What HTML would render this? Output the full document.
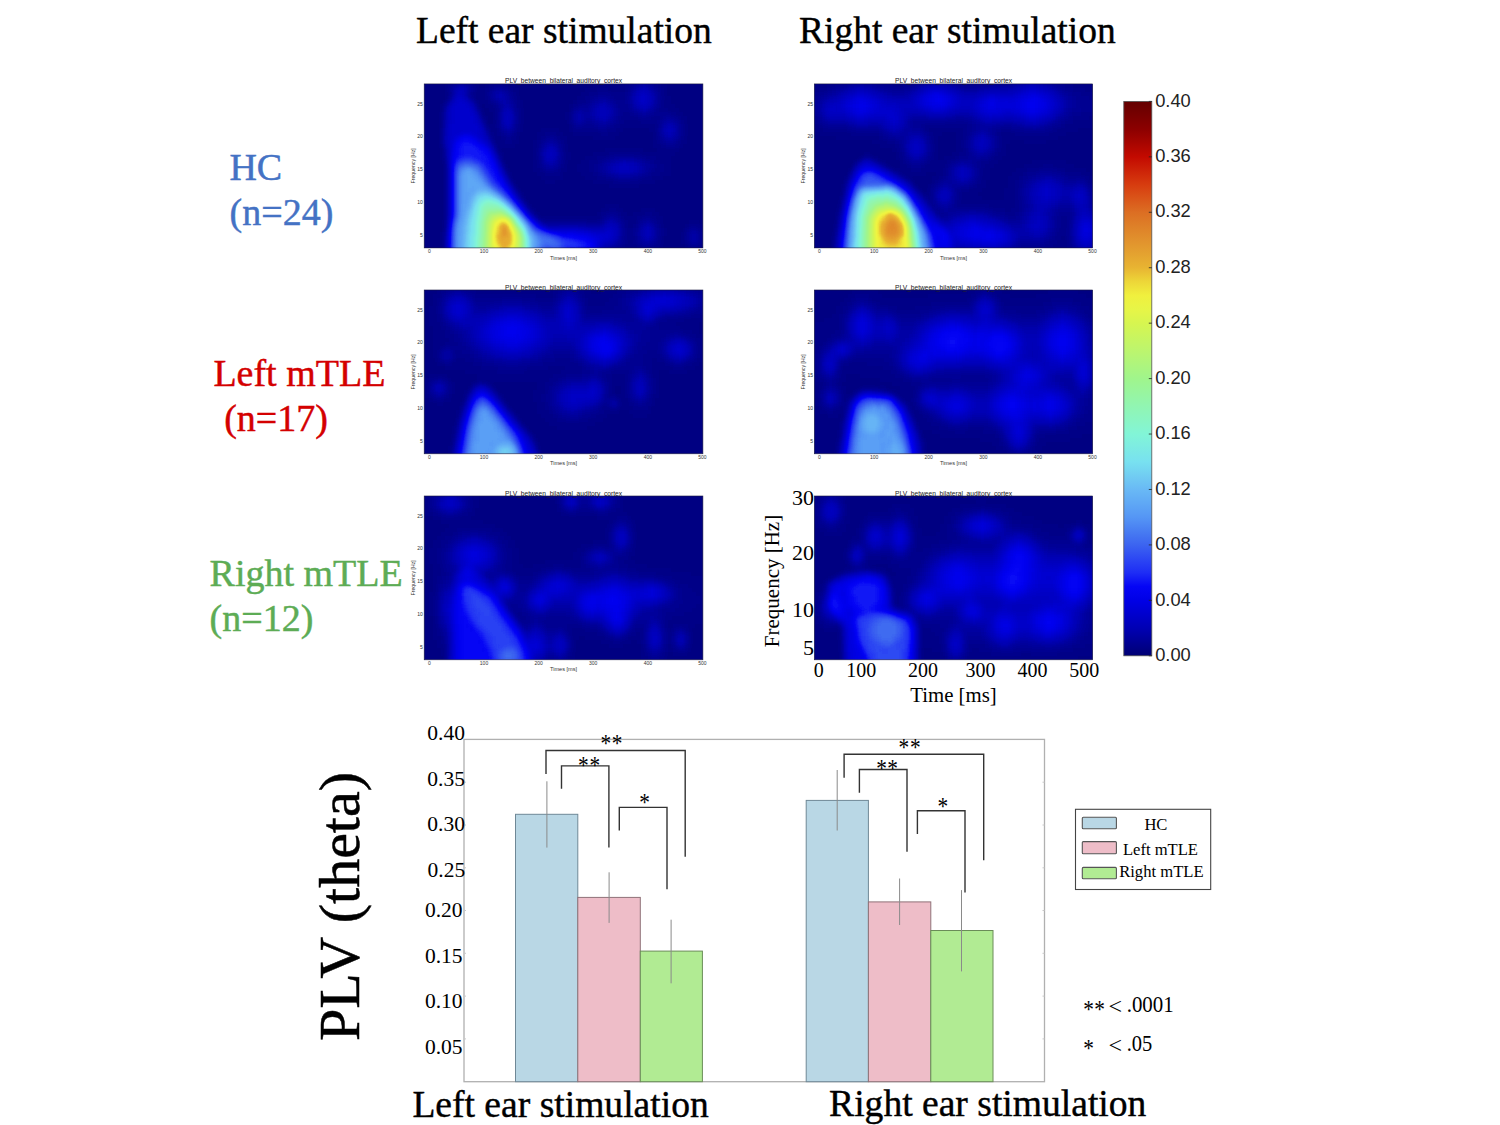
<!DOCTYPE html>
<html><head><meta charset="utf-8"><title>PLV figure</title>
<style>html,body{margin:0;padding:0;background:#fff;width:1500px;height:1125px;overflow:hidden}svg{display:block}</style>
</head><body>
<svg width="1500" height="1125" viewBox="0 0 1500 1125"><text x="416" y="42.7" font-size="37.5" fill="#000" stroke="#000" stroke-width="0.4" font-family='"Liberation Serif", serif' text-anchor="start" >Left ear stimulation</text>
<text x="799" y="43.1" font-size="37.5" fill="#000" stroke="#000" stroke-width="0.4" font-family='"Liberation Serif", serif' text-anchor="start" >Right ear stimulation</text>
<text x="229.4" y="180" font-size="38" fill="#4472c4" stroke="#4472c4" stroke-width="0.45" font-family='"Liberation Serif", serif' text-anchor="start" >HC</text>
<text x="229.6" y="224.8" font-size="38" fill="#4472c4" stroke="#4472c4" stroke-width="0.45" font-family='"Liberation Serif", serif' text-anchor="start" >(n=24)</text>
<text x="213.4" y="386" font-size="38" fill="#d40000" stroke="#d40000" stroke-width="0.45" font-family='"Liberation Serif", serif' text-anchor="start" >Left mTLE</text>
<text x="224.2" y="430.9" font-size="38" fill="#d40000" stroke="#d40000" stroke-width="0.45" font-family='"Liberation Serif", serif' text-anchor="start" >(n=17)</text>
<text x="209.6" y="586" font-size="38" fill="#5dac55" stroke="#5dac55" stroke-width="0.45" font-family='"Liberation Serif", serif' text-anchor="start" >Right mTLE</text>
<text x="209.6" y="630.9" font-size="38" fill="#5dac55" stroke="#5dac55" stroke-width="0.45" font-family='"Liberation Serif", serif' text-anchor="start" >(n=12)</text>
<defs><filter id="hb" x="0" y="0" width="1" height="1" color-interpolation-filters="sRGB"><feGaussianBlur stdDeviation="2.0"/><feComponentTransfer><feFuncR type="table" tableValues="0.000 0.000 0.000 0.000 0.000 0.000 0.000 0.000 0.000 0.003 0.020 0.069 0.118 0.147 0.176 0.206 0.235 0.260 0.284 0.309 0.333 0.353 0.373 0.392 0.412 0.426 0.441 0.456 0.471 0.480 0.490 0.500 0.510 0.525 0.539 0.554 0.569 0.583 0.598 0.613 0.627 0.654 0.681 0.708 0.735 0.762 0.789 0.816 0.843 0.874 0.904 0.935 0.941 0.939 0.929 0.920 0.910 0.903 0.896 0.889 0.882 0.877 0.873 0.868 0.863 0.858 0.853 0.848 0.843 0.824 0.804 0.784 0.765 0.711 0.657 0.603 0.549 0.510 0.471 0.431 0.392"/><feFuncG type="table" tableValues="0.000 0.000 0.000 0.000 0.000 0.000 0.000 0.000 0.000 0.003 0.020 0.098 0.176 0.230 0.284 0.338 0.392 0.441 0.490 0.539 0.588 0.623 0.657 0.691 0.725 0.765 0.804 0.843 0.882 0.902 0.922 0.941 0.961 0.961 0.961 0.961 0.961 0.961 0.961 0.961 0.961 0.961 0.961 0.961 0.961 0.961 0.961 0.961 0.961 0.961 0.961 0.961 0.941 0.908 0.841 0.773 0.706 0.672 0.637 0.603 0.569 0.534 0.500 0.466 0.431 0.382 0.333 0.284 0.235 0.186 0.137 0.088 0.039 0.029 0.020 0.010 0.000 0.000 0.000 0.000 0.000"/><feFuncB type="table" tableValues="0.451 0.515 0.578 0.642 0.706 0.755 0.804 0.853 0.902 0.944 0.961 0.961 0.961 0.956 0.951 0.946 0.941 0.946 0.951 0.956 0.961 0.961 0.961 0.961 0.961 0.956 0.951 0.946 0.941 0.917 0.892 0.868 0.843 0.806 0.770 0.733 0.696 0.659 0.623 0.586 0.549 0.520 0.490 0.461 0.431 0.402 0.373 0.343 0.314 0.295 0.277 0.259 0.245 0.233 0.221 0.208 0.196 0.191 0.186 0.181 0.176 0.167 0.157 0.147 0.137 0.118 0.098 0.078 0.059 0.044 0.029 0.015 0.000 0.000 0.000 0.000 0.000 0.000 0.000 0.000 0.000"/></feComponentTransfer></filter></defs>
<g transform="translate(424.2 83.9)"><clipPath id="hc00"><rect x="0" y="0" width="278.7" height="164.0"/></clipPath><g clip-path="url(#hc00)"><g filter="url(#hb)"><rect x="-12" y="-12" width="303" height="188" fill="#040404"/><path fill="#030303" d="M-12 -12h216v4h-216zM232 -12h56v4h-56zM-12 -8h40v4h-40zM44 -8h156v4h-156zM240 -8h48v4h-48zM-12 -4h32v4h-32zM52 -4h12v4h-12zM88 -4h108v4h-108zM240 -4h48v4h-48zM-12 0h32v4h-32zM56 0h4v4h-4zM92 0h76v4h-76zM244 0h44v4h-44zM-12 4h32v4h-32zM96 4h64v4h-64zM244 4h44v4h-44zM-12 8h32v4h-32zM96 8h60v4h-60zM244 8h44v4h-44zM-12 12h32v4h-32zM96 12h56v4h-56zM248 12h40v4h-40zM-12 16h32v4h-32zM100 16h48v4h-48zM248 16h40v4h-40zM-12 20h28v4h-28zM56 20h4v4h-4zM100 20h44v4h-44zM252 20h36v4h-36zM-12 24h28v4h-28zM60 24h4v4h-4zM100 24h44v4h-44zM256 24h32v4h-32zM-12 28h28v4h-28zM60 28h8v4h-8zM100 28h40v4h-40zM260 28h28v4h-28zM-12 32h28v4h-28zM64 32h4v4h-4zM100 32h40v4h-40zM264 32h24v4h-24zM-12 36h28v4h-28zM64 36h4v4h-4zM100 36h44v4h-44zM264 36h24v4h-24zM-12 40h28v4h-28zM100 40h24v4h-24zM128 40h16v4h-16zM264 40h24v4h-24zM-12 44h28v4h-28zM100 44h16v4h-16zM136 44h8v4h-8zM200 44h24v4h-24zM264 44h24v4h-24zM-12 48h28v4h-28zM96 48h16v4h-16zM140 48h8v4h-8zM196 48h32v4h-32zM264 48h24v4h-24zM-12 52h28v4h-28zM96 52h16v4h-16zM144 52h24v4h-24zM192 52h36v4h-36zM264 52h24v4h-24zM-12 56h28v4h-28zM96 56h12v4h-12zM144 56h84v4h-84zM264 56h24v4h-24zM-12 60h28v4h-28zM92 60h16v4h-16zM144 60h84v4h-84zM260 60h28v4h-28zM-12 64h28v4h-28zM76 64h32v4h-32zM144 64h36v4h-36zM220 64h12v4h-12zM256 64h32v4h-32zM-12 68h28v4h-28zM80 68h28v4h-28zM148 68h20v4h-20zM252 68h36v4h-36zM-12 72h28v4h-28zM80 72h28v4h-28zM148 72h12v4h-12zM248 72h40v4h-40zM-12 76h32v4h-32zM80 76h28v4h-28zM144 76h12v4h-12zM248 76h40v4h-40zM-12 80h32v4h-32zM84 80h24v4h-24zM144 80h8v4h-8zM248 80h40v4h-40zM-12 84h32v4h-32zM84 84h24v4h-24zM144 84h8v4h-8zM248 84h40v4h-40zM-12 88h32v4h-32zM88 88h24v4h-24zM140 88h16v4h-16zM248 88h40v4h-40zM-12 92h32v4h-32zM88 92h28v4h-28zM140 92h20v4h-20zM240 92h48v4h-48zM-12 96h32v4h-32zM92 96h28v4h-28zM132 96h36v4h-36zM232 96h56v4h-56zM-12 100h32v4h-32zM92 100h92v4h-92zM216 100h72v4h-72zM-12 104h32v4h-32zM96 104h192v4h-192zM-12 108h32v4h-32zM100 108h188v4h-188zM-12 112h32v4h-32zM100 112h188v4h-188zM-12 116h32v4h-32zM104 116h184v4h-184zM-12 120h32v4h-32zM108 120h72v4h-72zM196 120h92v4h-92zM-12 124h32v4h-32zM112 124h64v4h-64zM200 124h16v4h-16zM232 124h56v4h-56zM-12 128h32v4h-32zM116 128h56v4h-56zM204 128h4v4h-4zM236 128h52v4h-52zM-12 132h32v4h-32zM240 132h48v4h-48zM-12 136h32v4h-32zM240 136h24v4h-24zM276 136h12v4h-12zM-12 140h32v4h-32zM240 140h20v4h-20zM280 140h8v4h-8zM-12 144h32v4h-32zM244 144h16v4h-16zM280 144h8v4h-8zM-12 148h28v4h-28zM244 148h12v4h-12zM284 148h4v4h-4zM-12 152h28v4h-28zM240 152h16v4h-16zM284 152h4v4h-4zM-12 156h28v4h-28zM240 156h16v4h-16zM280 156h8v4h-8zM-12 160h28v4h-28zM240 160h20v4h-20zM280 160h8v4h-8zM-12 164h28v4h-28zM236 164h24v4h-24zM280 164h8v4h-8zM-12 168h28v4h-28zM200 168h12v4h-12zM232 168h32v4h-32zM272 168h16v4h-16zM-12 172h28v4h-28zM192 172h28v4h-28zM224 172h64v4h-64z"/><path fill="#050505" d="M208 -8h20v4h-20zM28 -4h4v4h-4zM44 -4h4v4h-4zM204 -4h4v4h-4zM232 -4h4v4h-4zM48 0h4v4h-4zM64 0h4v4h-4zM80 0h4v4h-4zM200 0h4v4h-4zM60 4h4v4h-4zM172 4h12v4h-12zM200 4h4v4h-4zM236 4h4v4h-4zM48 8h4v4h-4zM60 8h4v4h-4zM88 8h4v4h-4zM164 8h8v4h-8zM188 8h12v4h-12zM236 8h4v4h-4zM48 12h4v4h-4zM60 12h4v4h-4zM160 12h4v4h-4zM192 12h8v4h-8zM20 16h4v4h-4zM92 16h4v4h-4zM152 16h8v4h-8zM236 16h4v4h-4zM68 20h4v4h-4zM92 20h4v4h-4zM148 20h4v4h-4zM236 20h4v4h-4zM236 24h8v4h-8zM16 28h4v4h-4zM56 28h4v4h-4zM144 28h4v4h-4zM200 28h4v4h-4zM248 28h4v4h-4zM16 32h4v4h-4zM144 32h4v4h-4zM196 32h16v4h-16zM228 32h8v4h-8zM16 36h4v4h-4zM144 36h4v4h-4zM196 36h4v4h-4zM216 36h16v4h-16zM256 36h4v4h-4zM16 40h4v4h-4zM92 40h4v4h-4zM192 40h4v4h-4zM72 44h4v4h-4zM92 44h4v4h-4zM148 44h24v4h-24zM184 44h8v4h-8zM72 48h4v4h-4zM120 48h12v4h-12zM176 48h8v4h-8zM76 52h4v4h-4zM88 52h4v4h-4zM116 52h4v4h-4zM132 52h4v4h-4zM256 52h4v4h-4zM68 56h4v4h-4zM80 56h8v4h-8zM112 56h4v4h-4zM136 56h4v4h-4zM232 56h4v4h-4zM16 60h4v4h-4zM112 60h4v4h-4zM236 60h4v4h-4zM252 60h4v4h-4zM72 64h4v4h-4zM244 64h4v4h-4zM184 68h32v4h-32zM172 72h8v4h-8zM224 72h8v4h-8zM112 76h4v4h-4zM164 76h8v4h-8zM232 76h4v4h-4zM112 80h4v4h-4zM136 80h4v4h-4zM164 80h4v4h-4zM232 80h8v4h-8zM164 84h4v4h-4zM232 84h8v4h-8zM120 88h4v4h-4zM128 88h8v4h-8zM168 88h4v4h-4zM228 88h8v4h-8zM84 92h4v4h-4zM172 92h8v4h-8zM220 92h8v4h-8zM188 96h28v4h-28zM92 104h4v4h-4zM100 116h4v4h-4zM184 124h8v4h-8zM176 128h4v4h-4zM220 128h8v4h-8zM196 132h4v4h-4zM212 132h4v4h-4zM228 132h4v4h-4zM164 136h8v4h-8zM200 136h4v4h-4zM232 136h4v4h-4zM200 140h4v4h-4zM208 140h4v4h-4zM264 140h4v4h-4zM272 140h4v4h-4zM204 144h4v4h-4zM236 144h4v4h-4zM260 144h4v4h-4zM276 144h4v4h-4zM204 148h4v4h-4zM236 148h4v4h-4zM276 148h4v4h-4zM204 152h8v4h-8zM276 152h4v4h-4zM200 156h4v4h-4zM208 156h4v4h-4zM260 156h4v4h-4zM276 156h4v4h-4zM212 160h4v4h-4zM232 160h4v4h-4zM192 164h4v4h-4zM216 164h16v4h-16zM268 164h4v4h-4zM16 168h4v4h-4zM188 168h4v4h-4zM16 172h4v4h-4z"/><path fill="#060606" d="M32 -4h4v4h-4zM40 -4h4v4h-4zM208 -4h4v4h-4zM228 -4h4v4h-4zM24 0h4v4h-4zM68 0h12v4h-12zM204 0h4v4h-4zM232 0h4v4h-4zM48 4h4v4h-4zM64 4h4v4h-4zM84 4h4v4h-4zM24 8h4v4h-4zM172 8h16v4h-16zM200 8h4v4h-4zM88 12h4v4h-4zM164 12h4v4h-4zM188 12h4v4h-4zM200 12h4v4h-4zM236 12h4v4h-4zM64 16h4v4h-4zM160 16h4v4h-4zM192 16h8v4h-8zM52 20h4v4h-4zM152 20h4v4h-4zM196 20h8v4h-8zM72 24h4v4h-4zM92 24h4v4h-4zM196 24h8v4h-8zM232 24h4v4h-4zM92 28h4v4h-4zM196 28h4v4h-4zM204 28h4v4h-4zM232 28h16v4h-16zM92 32h4v4h-4zM212 32h16v4h-16zM252 32h4v4h-4zM72 36h4v4h-4zM92 36h4v4h-4zM192 36h4v4h-4zM232 36h4v4h-4zM60 40h4v4h-4zM72 40h4v4h-4zM148 40h4v4h-4zM160 40h8v4h-8zM188 40h4v4h-4zM232 40h4v4h-4zM256 40h4v4h-4zM16 44h4v4h-4zM172 44h12v4h-12zM256 44h4v4h-4zM16 48h4v4h-4zM64 48h4v4h-4zM76 48h4v4h-4zM88 48h4v4h-4zM232 48h4v4h-4zM256 48h4v4h-4zM16 52h4v4h-4zM80 52h8v4h-8zM120 52h4v4h-4zM232 52h4v4h-4zM16 56h4v4h-4zM116 56h4v4h-4zM252 56h4v4h-4zM136 60h4v4h-4zM240 60h12v4h-12zM112 64h4v4h-4zM136 64h4v4h-4zM112 68h4v4h-4zM112 72h4v4h-4zM180 72h4v4h-4zM220 72h4v4h-4zM76 76h4v4h-4zM136 76h4v4h-4zM172 76h4v4h-4zM228 76h4v4h-4zM20 80h4v4h-4zM168 80h4v4h-4zM20 84h4v4h-4zM80 84h4v4h-4zM116 84h4v4h-4zM132 84h4v4h-4zM168 84h4v4h-4zM228 84h4v4h-4zM20 88h4v4h-4zM124 88h4v4h-4zM172 88h4v4h-4zM224 88h4v4h-4zM20 92h4v4h-4zM180 92h8v4h-8zM216 92h4v4h-4zM20 96h4v4h-4zM20 100h4v4h-4zM88 100h4v4h-4zM20 104h4v4h-4zM20 108h4v4h-4zM20 112h4v4h-4zM96 112h4v4h-4zM20 116h4v4h-4zM20 120h4v4h-4zM20 124h4v4h-4zM20 128h4v4h-4zM108 128h4v4h-4zM180 128h4v4h-4zM188 128h8v4h-8zM20 132h4v4h-4zM112 132h4v4h-4zM176 132h4v4h-4zM216 132h4v4h-4zM224 132h4v4h-4zM120 136h44v4h-44zM172 136h4v4h-4zM212 136h4v4h-4zM232 140h4v4h-4zM268 140h4v4h-4zM200 144h4v4h-4zM208 144h4v4h-4zM200 148h4v4h-4zM208 148h4v4h-4zM260 148h4v4h-4zM200 152h4v4h-4zM260 152h4v4h-4zM232 156h4v4h-4zM196 160h4v4h-4zM228 160h4v4h-4zM264 160h4v4h-4zM272 160h4v4h-4zM188 164h4v4h-4zM184 168h4v4h-4z"/><path fill="#070707" d="M36 -4h4v4h-4zM212 -4h4v4h-4zM224 -4h4v4h-4zM44 0h4v4h-4zM228 0h4v4h-4zM24 4h4v4h-4zM204 4h4v4h-4zM232 4h4v4h-4zM44 8h4v4h-4zM84 8h4v4h-4zM24 12h4v4h-4zM64 12h4v4h-4zM168 12h4v4h-4zM184 12h4v4h-4zM68 16h4v4h-4zM88 16h4v4h-4zM164 16h4v4h-4zM200 16h4v4h-4zM72 20h4v4h-4zM156 20h8v4h-8zM192 20h4v4h-4zM232 20h4v4h-4zM148 24h4v4h-4zM204 24h4v4h-4zM72 28h4v4h-4zM208 28h4v4h-4zM228 28h4v4h-4zM56 32h4v4h-4zM72 32h4v4h-4zM192 32h4v4h-4zM236 32h4v4h-4zM248 32h4v4h-4zM164 36h4v4h-4zM252 36h4v4h-4zM156 40h4v4h-4zM168 40h4v4h-4zM184 40h4v4h-4zM232 44h4v4h-4zM124 52h8v4h-8zM132 56h4v4h-4zM236 56h4v4h-4zM72 68h4v4h-4zM136 68h4v4h-4zM136 72h4v4h-4zM184 72h4v4h-4zM212 72h8v4h-8zM20 76h4v4h-4zM176 76h4v4h-4zM224 76h4v4h-4zM116 80h4v4h-4zM172 80h4v4h-4zM228 80h4v4h-4zM120 84h4v4h-4zM128 84h4v4h-4zM172 84h4v4h-4zM176 88h4v4h-4zM188 92h4v4h-4zM208 92h8v4h-8zM104 124h4v4h-4zM184 128h4v4h-4zM192 132h4v4h-4zM220 132h4v4h-4zM20 136h4v4h-4zM196 136h4v4h-4zM228 136h4v4h-4zM20 140h4v4h-4zM212 140h4v4h-4zM232 144h4v4h-4zM272 144h4v4h-4zM232 148h4v4h-4zM232 152h4v4h-4zM196 156h4v4h-4zM212 156h4v4h-4zM216 160h4v4h-4zM224 160h4v4h-4zM268 160h4v4h-4zM184 172h4v4h-4z"/><path fill="#080808" d="M216 -4h8v4h-8zM208 0h4v4h-4zM68 4h4v4h-4zM80 4h4v4h-4zM64 8h4v4h-4zM204 8h4v4h-4zM232 8h4v4h-4zM84 12h4v4h-4zM172 12h12v4h-12zM232 12h4v4h-4zM188 16h4v4h-4zM232 16h4v4h-4zM88 20h4v4h-4zM204 20h4v4h-4zM52 24h4v4h-4zM160 24h4v4h-4zM192 24h4v4h-4zM228 24h4v4h-4zM192 28h4v4h-4zM212 28h4v4h-4zM224 28h4v4h-4zM240 32h8v4h-8zM148 36h4v4h-4zM160 36h4v4h-4zM188 36h4v4h-4zM236 36h4v4h-4zM152 40h4v4h-4zM172 40h12v4h-12zM76 44h4v4h-4zM88 44h4v4h-4zM80 48h8v4h-8zM236 52h4v4h-4zM252 52h4v4h-4zM240 56h4v4h-4zM248 56h4v4h-4zM68 60h4v4h-4zM116 60h4v4h-4zM188 72h12v4h-12zM204 72h8v4h-8zM116 76h4v4h-4zM220 76h4v4h-4zM132 80h4v4h-4zM224 80h4v4h-4zM124 84h4v4h-4zM224 84h4v4h-4zM180 88h4v4h-4zM220 88h4v4h-4zM192 92h16v4h-16zM92 108h4v4h-4zM180 132h4v4h-4zM116 136h4v4h-4zM176 136h4v4h-4zM216 136h4v4h-4zM196 140h4v4h-4zM20 144h4v4h-4zM212 144h4v4h-4zM264 144h4v4h-4zM196 152h4v4h-4zM212 152h4v4h-4zM228 156h4v4h-4zM264 156h4v4h-4zM272 156h4v4h-4zM192 160h4v4h-4zM220 160h4v4h-4zM184 164h4v4h-4z"/><path fill="#090909" d="M28 0h4v4h-4zM224 0h4v4h-4zM44 4h4v4h-4zM76 4h4v4h-4zM228 4h4v4h-4zM44 12h4v4h-4zM204 12h4v4h-4zM48 16h4v4h-4zM72 16h4v4h-4zM168 16h4v4h-4zM184 16h4v4h-4zM204 16h4v4h-4zM20 20h4v4h-4zM164 20h4v4h-4zM188 20h4v4h-4zM88 24h4v4h-4zM152 24h8v4h-8zM164 24h4v4h-4zM208 24h4v4h-4zM148 28h4v4h-4zM160 28h4v4h-4zM216 28h8v4h-8zM148 32h4v4h-4zM160 32h8v4h-8zM188 32h4v4h-4zM168 36h4v4h-4zM184 36h4v4h-4zM88 40h4v4h-4zM236 40h4v4h-4zM252 40h4v4h-4zM252 44h4v4h-4zM252 48h4v4h-4zM64 52h4v4h-4zM120 56h4v4h-4zM128 56h4v4h-4zM244 56h4v4h-4zM132 60h4v4h-4zM116 64h4v4h-4zM20 72h4v4h-4zM116 72h4v4h-4zM200 72h4v4h-4zM132 76h4v4h-4zM180 76h4v4h-4zM216 76h4v4h-4zM120 80h4v4h-4zM176 80h4v4h-4zM176 84h4v4h-4zM220 84h4v4h-4zM80 88h4v4h-4zM216 88h4v4h-4zM84 96h4v4h-4zM100 120h4v4h-4zM184 132h8v4h-8zM220 136h8v4h-8zM164 140h12v4h-12zM228 140h4v4h-4zM196 144h4v4h-4zM268 144h4v4h-4zM20 148h4v4h-4zM196 148h4v4h-4zM212 148h4v4h-4zM264 148h4v4h-4zM272 148h4v4h-4zM272 152h4v4h-4zM216 156h4v4h-4zM180 164h4v4h-4zM180 168h4v4h-4z"/><path fill="#0b0b0b" d="M32 0h4v4h-4zM216 0h8v4h-8zM28 4h4v4h-4zM28 8h4v4h-4zM40 8h4v4h-4zM68 8h4v4h-4zM228 8h4v4h-4zM80 12h4v4h-4zM24 16h4v4h-4zM76 16h8v4h-8zM176 16h8v4h-8zM228 16h4v4h-4zM84 20h4v4h-4zM168 20h4v4h-4zM184 20h4v4h-4zM208 20h4v4h-4zM20 24h4v4h-4zM212 24h4v4h-4zM76 28h4v4h-4zM156 28h4v4h-4zM88 32h4v4h-4zM156 32h4v4h-4zM168 32h4v4h-4zM184 32h4v4h-4zM56 36h4v4h-4zM76 36h4v4h-4zM152 36h4v4h-4zM176 36h8v4h-8zM244 36h4v4h-4zM240 52h4v4h-4zM120 60h4v4h-4zM20 64h4v4h-4zM132 68h4v4h-4zM72 72h4v4h-4zM188 76h4v4h-4zM212 76h4v4h-4zM124 80h4v4h-4zM180 80h4v4h-4zM216 80h4v4h-4zM216 84h4v4h-4zM188 88h4v4h-4zM208 88h4v4h-4zM88 104h4v4h-4zM96 116h4v4h-4zM180 136h4v4h-4zM132 140h24v4h-24zM176 140h4v4h-4zM228 144h4v4h-4zM228 148h4v4h-4zM216 152h4v4h-4zM20 156h4v4h-4zM220 156h4v4h-4zM20 160h4v4h-4z"/><path fill="#0c0c0c" d="M36 0h4v4h-4zM224 4h4v4h-4zM72 8h8v4h-8zM208 8h4v4h-4zM72 12h8v4h-8zM228 12h4v4h-4zM208 16h4v4h-4zM80 20h4v4h-4zM168 24h4v4h-4zM216 24h8v4h-8zM20 28h4v4h-4zM52 28h4v4h-4zM152 28h4v4h-4zM168 28h4v4h-4zM20 32h4v4h-4zM76 32h4v4h-4zM248 40h4v4h-4zM248 48h4v4h-4zM244 52h4v4h-4zM64 56h4v4h-4zM128 60h4v4h-4zM68 64h4v4h-4zM120 76h4v4h-4zM128 76h4v4h-4zM192 76h4v4h-4zM204 76h8v4h-8zM184 80h4v4h-4zM184 84h4v4h-4zM192 88h16v4h-16zM188 136h4v4h-4zM120 140h4v4h-4zM192 140h4v4h-4zM220 140h8v4h-8zM216 144h4v4h-4zM216 148h4v4h-4zM268 148h4v4h-4zM192 152h4v4h-4zM268 152h4v4h-4zM184 160h4v4h-4zM20 164h4v4h-4z"/><path fill="#0a0a0a" d="M40 0h4v4h-4zM212 0h4v4h-4zM72 4h4v4h-4zM208 4h4v4h-4zM80 8h4v4h-4zM68 12h4v4h-4zM84 16h4v4h-4zM172 16h4v4h-4zM76 20h4v4h-4zM228 20h4v4h-4zM76 24h4v4h-4zM188 24h4v4h-4zM224 24h4v4h-4zM88 28h4v4h-4zM164 28h4v4h-4zM188 28h4v4h-4zM88 36h4v4h-4zM156 36h4v4h-4zM172 36h4v4h-4zM240 36h4v4h-4zM248 36h4v4h-4zM76 40h4v4h-4zM60 44h4v4h-4zM80 44h8v4h-8zM236 44h4v4h-4zM236 48h4v4h-4zM248 52h4v4h-4zM124 56h4v4h-4zM132 64h4v4h-4zM20 68h4v4h-4zM116 68h4v4h-4zM132 72h4v4h-4zM184 76h4v4h-4zM76 80h4v4h-4zM128 80h4v4h-4zM220 80h4v4h-4zM180 84h4v4h-4zM184 88h4v4h-4zM212 88h4v4h-4zM192 136h4v4h-4zM124 140h8v4h-8zM156 140h8v4h-8zM216 140h4v4h-4zM20 152h4v4h-4zM228 152h4v4h-4zM264 152h4v4h-4zM192 156h4v4h-4zM224 156h4v4h-4zM268 156h4v4h-4zM188 160h4v4h-4z"/><path fill="#0f0f0f" d="M32 4h8v4h-8zM212 8h4v4h-4zM224 12h4v4h-4zM44 16h4v4h-4zM224 16h4v4h-4zM216 20h8v4h-8zM176 24h4v4h-4zM80 28h8v4h-8zM176 28h4v4h-4zM52 32h4v4h-4zM84 32h4v4h-4zM80 36h4v4h-4zM244 44h4v4h-4zM20 52h4v4h-4zM124 64h4v4h-4zM128 68h4v4h-4zM192 80h4v4h-4zM204 80h4v4h-4zM192 84h8v4h-8zM204 84h4v4h-4zM84 100h4v4h-4zM112 136h4v4h-4zM188 140h4v4h-4zM176 144h4v4h-4zM220 148h4v4h-4z"/><path fill="#0d0d0d" d="M40 4h4v4h-4zM212 4h4v4h-4zM208 12h4v4h-4zM48 20h4v4h-4zM172 20h4v4h-4zM180 20h4v4h-4zM224 20h4v4h-4zM84 24h4v4h-4zM184 24h4v4h-4zM184 28h4v4h-4zM152 32h4v4h-4zM172 32h12v4h-12zM20 36h4v4h-4zM20 40h4v4h-4zM80 40h8v4h-8zM240 40h4v4h-4zM248 44h4v4h-4zM60 48h4v4h-4zM240 48h4v4h-4zM20 60h4v4h-4zM124 60h4v4h-4zM120 64h4v4h-4zM196 76h8v4h-8zM212 80h4v4h-4zM212 84h4v4h-4zM184 136h4v4h-4zM192 144h4v4h-4zM192 148h4v4h-4zM220 152h8v4h-8zM188 156h4v4h-4zM176 164h4v4h-4zM20 168h4v4h-4z"/><path fill="#0e0e0e" d="M216 4h8v4h-8zM224 8h4v4h-4zM28 12h4v4h-4zM40 12h4v4h-4zM176 20h4v4h-4zM212 20h4v4h-4zM80 24h4v4h-4zM172 24h4v4h-4zM180 24h4v4h-4zM172 28h4v4h-4zM180 28h4v4h-4zM84 36h4v4h-4zM56 40h4v4h-4zM244 40h4v4h-4zM20 44h4v4h-4zM240 44h4v4h-4zM20 48h4v4h-4zM244 48h4v4h-4zM20 56h4v4h-4zM128 64h4v4h-4zM120 68h4v4h-4zM120 72h4v4h-4zM128 72h4v4h-4zM124 76h4v4h-4zM188 80h4v4h-4zM208 80h4v4h-4zM76 84h4v4h-4zM188 84h4v4h-4zM208 84h4v4h-4zM80 92h4v4h-4zM92 112h4v4h-4zM104 128h4v4h-4zM108 132h4v4h-4zM180 140h4v4h-4zM168 144h8v4h-8zM220 144h8v4h-8zM224 148h4v4h-4zM180 160h4v4h-4zM20 172h4v4h-4zM180 172h4v4h-4z"/><path fill="#101010" d="M32 8h8v4h-8zM220 8h4v4h-4zM212 12h4v4h-4zM212 16h4v4h-4zM24 20h4v4h-4zM48 24h4v4h-4zM80 32h4v4h-4zM60 52h4v4h-4zM124 68h4v4h-4zM124 72h4v4h-4zM72 76h4v4h-4zM196 80h8v4h-8zM200 84h4v4h-4zM184 140h4v4h-4zM164 144h4v4h-4zM188 152h4v4h-4zM184 156h4v4h-4zM176 160h4v4h-4zM176 168h4v4h-4z"/><path fill="#111111" d="M216 8h4v4h-4zM28 16h4v4h-4zM220 16h4v4h-4zM52 36h4v4h-4zM56 44h4v4h-4zM64 60h4v4h-4zM68 68h4v4h-4zM100 124h4v4h-4zM160 144h4v4h-4zM180 144h4v4h-4zM188 144h4v4h-4zM188 148h4v4h-4z"/><path fill="#131313" d="M32 12h4v4h-4zM32 16h8v4h-8zM28 20h16v4h-16zM28 24h20v4h-20zM28 28h20v4h-20zM28 32h24v4h-24zM28 36h24v4h-24zM24 40h32v4h-32zM24 44h16v4h-16zM44 44h12v4h-12zM24 48h8v4h-8zM52 48h4v4h-4zM24 52h4v4h-4zM56 52h4v4h-4zM24 56h4v4h-4zM60 56h4v4h-4zM24 60h4v4h-4zM24 64h4v4h-4zM24 68h4v4h-4zM24 76h4v4h-4zM24 80h4v4h-4zM24 132h4v4h-4zM128 144h28v4h-28zM176 148h12v4h-12zM184 152h4v4h-4z"/><path fill="#121212" d="M36 12h4v4h-4zM216 12h8v4h-8zM40 16h4v4h-4zM216 16h4v4h-4zM44 20h4v4h-4zM24 24h4v4h-4zM24 28h4v4h-4zM48 28h4v4h-4zM24 32h4v4h-4zM24 36h4v4h-4zM56 48h4v4h-4zM24 84h4v4h-4zM24 88h4v4h-4zM24 92h4v4h-4zM24 96h4v4h-4zM24 100h4v4h-4zM24 104h4v4h-4zM24 108h4v4h-4zM88 108h4v4h-4zM24 112h4v4h-4zM24 116h4v4h-4zM24 120h4v4h-4zM24 124h4v4h-4zM24 128h4v4h-4zM116 140h4v4h-4zM156 144h4v4h-4zM184 144h4v4h-4zM180 156h4v4h-4zM176 172h4v4h-4z"/><path fill="#141414" d="M40 44h4v4h-4zM32 48h4v4h-4zM48 48h4v4h-4zM24 72h4v4h-4zM76 88h4v4h-4zM80 96h4v4h-4zM96 120h4v4h-4zM172 148h4v4h-4zM180 152h4v4h-4zM176 156h4v4h-4zM172 164h4v4h-4zM168 172h8v4h-8z"/><path fill="#161616" d="M36 48h4v4h-4zM56 56h4v4h-4zM24 136h4v4h-4z"/><path fill="#181818" d="M40 48h4v4h-4zM28 56h4v4h-4zM60 60h4v4h-4zM24 140h4v4h-4zM160 148h4v4h-4zM156 168h12v4h-12zM144 172h4v4h-4z"/><path fill="#171717" d="M44 48h4v4h-4zM64 64h4v4h-4zM68 72h4v4h-4zM84 104h4v4h-4zM92 116h4v4h-4zM164 148h4v4h-4zM172 152h4v4h-4zM172 156h4v4h-4zM168 168h4v4h-4z"/><path fill="#151515" d="M28 52h4v4h-4zM52 52h4v4h-4zM72 80h4v4h-4zM124 144h4v4h-4zM168 148h4v4h-4zM176 152h4v4h-4zM172 160h4v4h-4zM172 168h4v4h-4zM148 172h20v4h-20z"/><path fill="#191919" d="M32 52h4v4h-4zM48 52h4v4h-4zM76 92h4v4h-4zM156 148h4v4h-4zM168 152h4v4h-4zM148 168h8v4h-8z"/><path fill="#1e1e1e" d="M36 52h4v4h-4zM44 52h4v4h-4zM28 72h4v4h-4zM72 88h4v4h-4zM84 108h4v4h-4zM96 124h4v4h-4zM156 152h4v4h-4zM24 156h4v4h-4zM164 164h4v4h-4z"/><path fill="#202020" d="M40 52h4v4h-4zM48 56h4v4h-4zM64 72h4v4h-4zM152 152h4v4h-4zM148 164h12v4h-12zM24 168h4v4h-4zM140 168h4v4h-4zM140 172h4v4h-4z"/><path fill="#1f1f1f" d="M32 56h4v4h-4zM60 64h4v4h-4zM68 80h4v4h-4zM76 96h4v4h-4zM132 148h4v4h-4zM164 156h4v4h-4zM24 160h4v4h-4zM24 164h4v4h-4zM160 164h4v4h-4z"/><path fill="#222222" d="M36 56h4v4h-4zM44 56h4v4h-4zM32 64h4v4h-4zM56 64h4v4h-4zM32 68h4v4h-4zM60 68h4v4h-4zM64 76h4v4h-4zM68 84h4v4h-4zM76 100h4v4h-4zM128 148h4v4h-4zM160 156h4v4h-4zM164 160h4v4h-4z"/><path fill="#232323" d="M40 56h4v4h-4zM36 60h16v4h-16zM36 64h20v4h-20zM36 68h24v4h-24zM56 72h8v4h-8zM60 76h4v4h-4zM64 80h4v4h-4zM64 84h4v4h-4zM68 88h4v4h-4zM72 96h4v4h-4zM116 144h4v4h-4zM144 152h4v4h-4zM140 164h4v4h-4z"/><path fill="#1b1b1b" d="M52 56h4v4h-4zM80 100h4v4h-4zM100 128h4v4h-4zM24 144h4v4h-4zM120 144h4v4h-4zM140 148h12v4h-12zM164 152h4v4h-4zM168 156h4v4h-4zM168 164h4v4h-4z"/><path fill="#1a1a1a" d="M28 60h4v4h-4zM72 84h4v4h-4zM88 112h4v4h-4zM104 132h4v4h-4zM108 136h4v4h-4zM152 148h4v4h-4zM144 168h4v4h-4z"/><path fill="#212121" d="M32 60h4v4h-4zM52 60h4v4h-4zM28 76h4v4h-4zM72 92h4v4h-4zM80 104h4v4h-4zM92 120h4v4h-4zM148 152h4v4h-4zM144 164h4v4h-4zM24 172h4v4h-4z"/><path fill="#1d1d1d" d="M56 60h4v4h-4zM28 68h4v4h-4zM64 68h4v4h-4zM24 152h4v4h-4zM160 152h4v4h-4z"/><path fill="#1c1c1c" d="M28 64h4v4h-4zM68 76h4v4h-4zM112 140h4v4h-4zM24 148h4v4h-4zM136 148h4v4h-4zM168 160h4v4h-4z"/><path fill="#242424" d="M32 72h4v4h-4zM52 72h4v4h-4zM28 80h4v4h-4zM60 80h4v4h-4zM68 92h4v4h-4zM88 116h4v4h-4zM140 152h4v4h-4zM128 172h4v4h-4zM136 172h4v4h-4z"/><path fill="#262626" d="M36 72h4v4h-4zM28 88h4v4h-4zM28 92h4v4h-4zM28 96h4v4h-4zM28 100h4v4h-4zM28 104h4v4h-4zM28 108h4v4h-4zM28 112h4v4h-4zM84 112h4v4h-4zM28 116h4v4h-4zM28 120h4v4h-4zM28 124h4v4h-4zM28 128h4v4h-4zM136 168h4v4h-4z"/><path fill="#272727" d="M40 72h8v4h-8zM68 96h4v4h-4zM72 100h4v4h-4zM80 108h4v4h-4zM108 140h4v4h-4zM136 152h4v4h-4zM152 156h4v4h-4zM156 160h4v4h-4zM124 168h4v4h-4z"/><path fill="#252525" d="M48 72h4v4h-4zM56 76h4v4h-4zM28 84h4v4h-4zM64 88h4v4h-4zM156 156h4v4h-4zM160 160h4v4h-4zM124 172h4v4h-4zM132 172h4v4h-4z"/><path fill="#2a2a2a" d="M32 76h4v4h-4zM100 132h4v4h-4zM144 156h4v4h-4zM140 160h4v4h-4zM136 164h4v4h-4zM120 168h4v4h-4zM120 172h4v4h-4z"/><path fill="#2f2f2f" d="M36 76h4v4h-4zM68 100h4v4h-4zM28 136h4v4h-4z"/><path fill="#323232" d="M40 76h4v4h-4zM76 108h4v4h-4zM88 120h4v4h-4zM116 148h4v4h-4z"/><path fill="#313131" d="M44 76h4v4h-4zM32 80h4v4h-4zM56 84h4v4h-4zM128 152h4v4h-4z"/><path fill="#2d2d2d" d="M48 76h4v4h-4zM60 88h4v4h-4zM96 128h4v4h-4zM124 164h4v4h-4z"/><path fill="#292929" d="M52 76h4v4h-4zM64 92h4v4h-4zM28 132h4v4h-4zM148 156h4v4h-4zM144 160h8v4h-8z"/><path fill="#383838" d="M36 80h4v4h-4zM120 152h4v4h-4zM28 156h4v4h-4zM128 156h4v4h-4zM28 160h4v4h-4zM116 160h4v4h-4z"/><path fill="#3b3b3b" d="M40 80h4v4h-4zM60 96h4v4h-4zM32 128h4v4h-4zM116 156h4v4h-4z"/><path fill="#3a3a3a" d="M44 80h4v4h-4zM32 92h4v4h-4zM32 96h4v4h-4zM32 100h4v4h-4zM32 104h4v4h-4zM68 104h4v4h-4zM32 108h4v4h-4zM32 112h4v4h-4zM32 116h4v4h-4zM32 120h4v4h-4zM32 124h4v4h-4zM124 156h4v4h-4zM112 168h4v4h-4z"/><path fill="#373737" d="M48 80h4v4h-4zM56 88h4v4h-4zM28 148h4v4h-4zM112 148h4v4h-4zM28 152h4v4h-4z"/><path fill="#333333" d="M52 80h4v4h-4zM80 112h4v4h-4zM84 116h4v4h-4zM28 140h4v4h-4zM116 168h4v4h-4z"/><path fill="#2b2b2b" d="M56 80h4v4h-4zM112 144h4v4h-4z"/><path fill="#363636" d="M32 84h4v4h-4zM104 140h4v4h-4zM28 144h4v4h-4zM124 152h4v4h-4zM128 160h4v4h-4z"/><path fill="#404040" d="M36 84h4v4h-4zM48 84h4v4h-4zM52 88h4v4h-4zM108 148h4v4h-4zM112 160h4v4h-4z"/><path fill="#434343" d="M40 84h8v4h-8zM56 96h4v4h-4zM32 140h4v4h-4z"/><path fill="#393939" d="M52 84h4v4h-4zM32 88h4v4h-4zM64 100h4v4h-4zM116 152h4v4h-4zM120 156h4v4h-4zM28 164h4v4h-4zM28 168h4v4h-4zM28 172h4v4h-4zM112 172h4v4h-4z"/><path fill="#282828" d="M60 84h4v4h-4zM76 104h4v4h-4zM104 136h4v4h-4zM124 148h4v4h-4zM152 160h4v4h-4zM128 168h8v4h-8z"/><path fill="#444444" d="M36 88h4v4h-4zM52 92h4v4h-4zM92 128h4v4h-4zM32 144h4v4h-4zM32 148h4v4h-4zM108 164h4v4h-4zM108 168h4v4h-4zM108 172h4v4h-4z"/><path fill="#464646" d="M40 88h8v4h-8zM40 92h12v4h-12zM40 96h16v4h-16zM40 100h20v4h-20zM40 104h8v4h-8zM40 108h4v4h-4zM40 112h4v4h-4zM40 116h4v4h-4zM80 116h4v4h-4zM88 124h4v4h-4zM36 132h4v4h-4z"/><path fill="#454545" d="M48 88h4v4h-4zM36 92h4v4h-4zM36 96h4v4h-4zM36 100h4v4h-4zM36 104h4v4h-4zM64 104h4v4h-4zM36 108h4v4h-4zM36 112h4v4h-4zM36 116h4v4h-4zM36 120h4v4h-4zM36 124h4v4h-4zM36 128h4v4h-4zM32 152h4v4h-4zM32 156h4v4h-4zM32 160h4v4h-4zM32 164h4v4h-4zM32 168h4v4h-4zM32 172h4v4h-4z"/><path fill="#3e3e3e" d="M56 92h4v4h-4zM72 108h4v4h-4z"/><path fill="#343434" d="M60 92h4v4h-4zM108 144h4v4h-4zM132 156h4v4h-4zM120 160h4v4h-4zM116 172h4v4h-4z"/><path fill="#303030" d="M64 96h4v4h-4zM72 104h4v4h-4zM92 124h4v4h-4z"/><path fill="#424242" d="M60 100h4v4h-4zM76 112h4v4h-4zM104 144h4v4h-4zM112 156h4v4h-4z"/><path fill="#474747" d="M48 104h4v4h-4zM44 108h4v4h-4zM40 120h4v4h-4zM84 120h4v4h-4zM36 136h4v4h-4zM108 152h4v4h-4zM108 160h4v4h-4z"/><path fill="#4a4a4a" d="M52 104h4v4h-4zM40 128h4v4h-4zM36 156h4v4h-4zM36 160h4v4h-4z"/><path fill="#4c4c4c" d="M56 104h4v4h-4zM104 148h4v4h-4zM36 172h4v4h-4z"/><path fill="#4b4b4b" d="M60 104h4v4h-4zM48 108h4v4h-4zM68 108h4v4h-4zM44 116h4v4h-4zM36 164h4v4h-4zM36 168h4v4h-4z"/><path fill="#545454" d="M52 108h4v4h-4zM40 148h4v4h-4zM40 152h4v4h-4z"/><path fill="#575757" d="M56 108h4v4h-4zM100 144h4v4h-4zM40 168h4v4h-4zM40 172h4v4h-4zM104 172h4v4h-4z"/><path fill="#585858" d="M60 108h4v4h-4zM76 116h4v4h-4zM44 132h4v4h-4zM92 132h4v4h-4z"/><path fill="#555555" d="M64 108h4v4h-4zM44 128h4v4h-4zM96 136h4v4h-4zM40 156h4v4h-4zM104 160h4v4h-4zM104 164h4v4h-4zM104 168h4v4h-4z"/><path fill="#484848" d="M44 112h4v4h-4zM40 124h4v4h-4zM36 140h4v4h-4zM36 144h4v4h-4z"/><path fill="#515151" d="M48 112h4v4h-4zM72 112h4v4h-4z"/><path fill="#5a5a5a" d="M52 112h4v4h-4zM48 120h4v4h-4zM44 136h4v4h-4z"/><path fill="#5e5e5e" d="M56 112h4v4h-4zM52 116h4v4h-4zM48 132h4v4h-4zM44 172h4v4h-4z"/><path fill="#606060" d="M60 112h4v4h-4zM48 140h4v4h-4zM100 148h4v4h-4z"/><path fill="#5f5f5f" d="M64 112h4v4h-4zM48 136h4v4h-4z"/><path fill="#5b5b5b" d="M68 112h4v4h-4zM80 120h4v4h-4zM88 128h4v4h-4zM44 140h4v4h-4z"/><path fill="#565656" d="M48 116h4v4h-4zM104 156h4v4h-4zM40 160h4v4h-4zM40 164h4v4h-4z"/><path fill="#666666" d="M56 116h4v4h-4zM48 164h4v4h-4z"/><path fill="#6c6c6c" d="M60 116h8v4h-8zM52 136h4v4h-4zM100 160h4v4h-4zM100 164h4v4h-4z"/><path fill="#6a6a6a" d="M68 116h4v4h-4zM76 120h4v4h-4zM52 132h4v4h-4z"/><path fill="#656565" d="M72 116h4v4h-4zM52 124h4v4h-4zM48 160h4v4h-4z"/><path fill="#4e4e4e" d="M44 120h4v4h-4z"/><path fill="#626262" d="M52 120h4v4h-4zM48 148h4v4h-4z"/><path fill="#6f6f6f" d="M56 120h4v4h-4zM88 132h4v4h-4zM100 172h4v4h-4z"/><path fill="#757575" d="M60 120h4v4h-4zM68 120h4v4h-4zM56 128h4v4h-4z"/><path fill="#767676" d="M64 120h4v4h-4z"/><path fill="#737373" d="M72 120h4v4h-4zM52 164h4v4h-4z"/><path fill="#525252" d="M44 124h4v4h-4zM40 140h4v4h-4zM104 152h4v4h-4z"/><path fill="#5c5c5c" d="M48 124h4v4h-4zM84 124h4v4h-4zM44 144h4v4h-4zM44 148h4v4h-4zM44 152h4v4h-4zM44 156h4v4h-4z"/><path fill="#727272" d="M56 124h4v4h-4zM52 156h4v4h-4zM52 160h4v4h-4z"/><path fill="#787878" d="M60 124h4v4h-4zM56 136h4v4h-4z"/><path fill="#7d7d7d" d="M64 124h4v4h-4zM72 124h4v4h-4zM96 148h4v4h-4zM56 168h4v4h-4zM56 172h4v4h-4z"/><path fill="#7e7e7e" d="M68 124h4v4h-4z"/><path fill="#797979" d="M76 124h4v4h-4zM56 140h4v4h-4z"/><path fill="#6e6e6e" d="M80 124h4v4h-4zM52 144h4v4h-4z"/><path fill="#5d5d5d" d="M48 128h4v4h-4zM44 160h4v4h-4zM44 164h4v4h-4zM44 168h4v4h-4z"/><path fill="#676767" d="M52 128h4v4h-4zM100 152h4v4h-4zM48 168h4v4h-4z"/><path fill="#7f7f7f" d="M60 128h4v4h-4z"/><path fill="#898989" d="M64 128h4v4h-4zM60 148h4v4h-4z"/><path fill="#8c8c8c" d="M68 128h4v4h-4zM60 172h4v4h-4z"/><path fill="#8d8d8d" d="M72 128h8v4h-8z"/><path fill="#848484" d="M80 128h4v4h-4z"/><path fill="#717171" d="M84 128h4v4h-4zM96 144h4v4h-4zM52 152h4v4h-4z"/><path fill="#3d3d3d" d="M32 132h4v4h-4zM100 136h4v4h-4z"/><path fill="#4d4d4d" d="M40 132h4v4h-4zM100 140h4v4h-4z"/><path fill="#777777" d="M56 132h4v4h-4z"/><path fill="#858585" d="M60 132h4v4h-4zM96 152h4v4h-4z"/><path fill="#909090" d="M64 132h4v4h-4z"/><path fill="#979797" d="M68 132h4v4h-4zM64 140h4v4h-4zM92 160h4v4h-4z"/><path fill="#a0a0a0" d="M72 132h4v4h-4z"/><path fill="#a4a4a4" d="M76 132h4v4h-4zM68 164h4v4h-4zM76 172h8v4h-8z"/><path fill="#9f9f9f" d="M80 132h4v4h-4zM88 168h4v4h-4z"/><path fill="#8b8b8b" d="M84 132h4v4h-4zM92 144h4v4h-4zM60 160h4v4h-4zM60 164h4v4h-4zM60 168h4v4h-4z"/><path fill="#414141" d="M96 132h4v4h-4zM32 136h4v4h-4z"/><path fill="#505050" d="M40 136h4v4h-4z"/><path fill="#878787" d="M60 136h4v4h-4zM96 156h4v4h-4zM96 160h4v4h-4zM96 164h4v4h-4zM96 168h4v4h-4z"/><path fill="#949494" d="M64 136h4v4h-4zM92 168h4v4h-4zM92 172h4v4h-4z"/><path fill="#a2a2a2" d="M68 136h4v4h-4zM88 164h4v4h-4zM68 168h4v4h-4z"/><path fill="#afafaf" d="M72 136h4v4h-4z"/><path fill="#b5b5b5" d="M76 136h4v4h-4zM72 140h4v4h-4zM76 164h4v4h-4z"/><path fill="#b2b2b2" d="M80 136h4v4h-4z"/><path fill="#a3a3a3" d="M84 136h4v4h-4zM72 172h4v4h-4zM84 172h4v4h-4z"/><path fill="#868686" d="M88 136h4v4h-4z"/><path fill="#696969" d="M92 136h4v4h-4z"/><path fill="#6d6d6d" d="M52 140h4v4h-4zM100 168h4v4h-4z"/><path fill="#888888" d="M60 140h4v4h-4zM60 144h4v4h-4zM96 172h4v4h-4z"/><path fill="#a8a8a8" d="M68 140h4v4h-4z"/><path fill="#bcbcbc" d="M76 140h8v4h-8zM84 148h4v4h-4zM84 156h4v4h-4zM76 160h4v4h-4z"/><path fill="#b1b1b1" d="M84 140h4v4h-4z"/><path fill="#989898" d="M88 140h4v4h-4zM64 144h4v4h-4zM64 164h4v4h-4zM64 168h4v4h-4z"/><path fill="#7b7b7b" d="M92 140h4v4h-4zM56 152h4v4h-4zM56 156h4v4h-4z"/><path fill="#636363" d="M96 140h4v4h-4zM48 152h4v4h-4z"/><path fill="#535353" d="M40 144h4v4h-4z"/><path fill="#616161" d="M48 144h4v4h-4z"/><path fill="#7a7a7a" d="M56 144h4v4h-4zM56 148h4v4h-4z"/><path fill="#ababab" d="M68 144h4v4h-4zM88 148h4v4h-4zM68 156h4v4h-4z"/><path fill="#b9b9b9" d="M72 144h4v4h-4z"/><path fill="#bfbfbf" d="M76 144h8v4h-8zM76 156h4v4h-4z"/><path fill="#b8b8b8" d="M84 144h4v4h-4zM72 156h4v4h-4z"/><path fill="#a5a5a5" d="M88 144h4v4h-4z"/><path fill="#494949" d="M36 148h4v4h-4zM36 152h4v4h-4zM108 156h4v4h-4z"/><path fill="#707070" d="M52 148h4v4h-4z"/><path fill="#999999" d="M64 148h4v4h-4zM64 152h4v4h-4zM92 152h4v4h-4zM64 156h4v4h-4zM92 156h4v4h-4zM64 160h4v4h-4zM64 172h4v4h-4z"/><path fill="#acacac" d="M68 148h4v4h-4zM68 152h4v4h-4zM88 156h4v4h-4zM76 168h8v4h-8z"/><path fill="#bababa" d="M72 148h4v4h-4zM72 152h4v4h-4z"/><path fill="#c0c0c0" d="M76 148h8v4h-8zM76 152h4v4h-4zM80 156h4v4h-4z"/><path fill="#959595" d="M92 148h4v4h-4zM92 164h4v4h-4z"/><path fill="#2e2e2e" d="M120 148h4v4h-4zM136 156h4v4h-4zM136 160h4v4h-4zM120 164h4v4h-4zM128 164h8v4h-8z"/><path fill="#8a8a8a" d="M60 152h4v4h-4zM60 156h4v4h-4z"/><path fill="#c1c1c1" d="M80 152h4v4h-4z"/><path fill="#bdbdbd" d="M84 152h4v4h-4zM80 160h4v4h-4z"/><path fill="#adadad" d="M88 152h4v4h-4z"/><path fill="#3f3f3f" d="M112 152h4v4h-4z"/><path fill="#2c2c2c" d="M132 152h4v4h-4zM140 156h4v4h-4z"/><path fill="#646464" d="M48 156h4v4h-4z"/><path fill="#6b6b6b" d="M100 156h4v4h-4z"/><path fill="#7c7c7c" d="M56 160h4v4h-4zM56 164h4v4h-4z"/><path fill="#a7a7a7" d="M68 160h4v4h-4zM88 160h4v4h-4zM84 168h4v4h-4z"/><path fill="#b4b4b4" d="M72 160h4v4h-4z"/><path fill="#b7b7b7" d="M84 160h4v4h-4z"/><path fill="#353535" d="M124 160h4v4h-4zM132 160h4v4h-4zM116 164h4v4h-4z"/><path fill="#aeaeae" d="M72 164h4v4h-4z"/><path fill="#b6b6b6" d="M80 164h4v4h-4z"/><path fill="#b0b0b0" d="M84 164h4v4h-4z"/><path fill="#3c3c3c" d="M112 164h4v4h-4z"/><path fill="#747474" d="M52 168h4v4h-4zM52 172h4v4h-4z"/><path fill="#a6a6a6" d="M72 168h4v4h-4z"/><path fill="#686868" d="M48 172h4v4h-4z"/><path fill="#a1a1a1" d="M68 172h4v4h-4z"/><path fill="#9e9e9e" d="M88 172h4v4h-4z"/></g></g><rect x="0" y="0" width="278.7" height="164.0" fill="none" stroke="#1a1a40" stroke-width="0.6"/></g>
<g transform="translate(814.3 83.9)"><clipPath id="hc10"><rect x="0" y="0" width="278.4" height="164.0"/></clipPath><g clip-path="url(#hc10)"><g filter="url(#hb)"><rect x="-12" y="-12" width="302" height="188" fill="#050505"/><path fill="#030303" d="M-12 -12h40v4h-40zM68 -12h32v4h-32zM148 -12h24v4h-24zM252 -12h36v4h-36zM-12 -8h28v4h-28zM260 -8h28v4h-28zM-12 -4h12v4h-12zM276 -4h12v4h-12zM-12 40h4v4h-4zM280 40h8v4h-8zM-12 44h12v4h-12zM264 44h24v4h-24zM-12 48h16v4h-16zM128 48h12v4h-12zM252 48h36v4h-36zM-12 52h32v4h-32zM124 52h16v4h-16zM244 52h44v4h-44zM-12 56h68v4h-68zM124 56h16v4h-16zM196 56h12v4h-12zM232 56h56v4h-56zM-12 60h76v4h-76zM124 60h16v4h-16zM192 60h96v4h-96zM-12 64h88v4h-88zM124 64h16v4h-16zM192 64h96v4h-96zM-12 68h60v4h-60zM56 68h24v4h-24zM124 68h12v4h-12zM192 68h96v4h-96zM-12 72h56v4h-56zM64 72h16v4h-16zM124 72h4v4h-4zM188 72h100v4h-100zM-12 76h52v4h-52zM72 76h12v4h-12zM184 76h32v4h-32zM252 76h36v4h-36zM-12 80h48v4h-48zM76 80h8v4h-8zM180 80h28v4h-28zM260 80h28v4h-28zM-12 84h48v4h-48zM176 84h24v4h-24zM272 84h16v4h-16zM-12 88h44v4h-44zM112 88h8v4h-8zM176 88h20v4h-20zM276 88h12v4h-12zM-12 92h44v4h-44zM96 92h20v4h-20zM176 92h16v4h-16zM280 92h8v4h-8zM-12 96h40v4h-40zM100 96h16v4h-16zM172 96h20v4h-20zM284 96h4v4h-4zM-12 100h40v4h-40zM104 100h8v4h-8zM172 100h20v4h-20zM284 100h4v4h-4zM-12 104h40v4h-40zM108 104h4v4h-4zM168 104h20v4h-20zM-12 108h40v4h-40zM164 108h24v4h-24zM-12 112h36v4h-36zM168 112h20v4h-20zM-12 116h36v4h-36zM-12 120h36v4h-36zM-12 124h36v4h-36zM-12 128h32v4h-32zM-12 132h32v4h-32zM-12 136h32v4h-32zM-12 140h32v4h-32zM-12 144h32v4h-32zM-12 148h32v4h-32zM-12 152h28v4h-28zM-12 156h28v4h-28zM-12 160h28v4h-28zM-12 164h28v4h-28zM244 164h4v4h-4zM-12 168h28v4h-28zM236 168h16v4h-16zM-12 172h28v4h-28zM212 172h40v4h-40z"/><path fill="#040404" d="M28 -12h40v4h-40zM100 -12h48v4h-48zM172 -12h32v4h-32zM232 -12h20v4h-20zM16 -8h20v4h-20zM56 -8h48v4h-48zM140 -8h52v4h-52zM244 -8h16v4h-16zM0 -4h24v4h-24zM76 -4h16v4h-16zM252 -4h24v4h-24zM-12 0h24v4h-24zM260 0h28v4h-28zM-12 4h16v4h-16zM272 4h16v4h-16zM-12 32h8v4h-8zM276 32h12v4h-12zM-12 36h12v4h-12zM260 36h28v4h-28zM-8 40h12v4h-12zM252 40h28v4h-28zM0 44h8v4h-8zM116 44h32v4h-32zM244 44h20v4h-20zM4 48h32v4h-32zM120 48h8v4h-8zM140 48h8v4h-8zM188 48h12v4h-12zM236 48h16v4h-16zM20 52h44v4h-44zM120 52h4v4h-4zM140 52h8v4h-8zM188 52h56v4h-56zM56 56h16v4h-16zM120 56h4v4h-4zM140 56h8v4h-8zM188 56h8v4h-8zM208 56h24v4h-24zM64 60h16v4h-16zM120 60h4v4h-4zM140 60h8v4h-8zM188 60h4v4h-4zM76 64h8v4h-8zM120 64h4v4h-4zM140 64h8v4h-8zM188 64h4v4h-4zM48 68h8v4h-8zM80 68h4v4h-4zM120 68h4v4h-4zM136 68h8v4h-8zM184 68h8v4h-8zM44 72h4v4h-4zM60 72h4v4h-4zM80 72h4v4h-4zM120 72h4v4h-4zM128 72h12v4h-12zM180 72h8v4h-8zM68 76h4v4h-4zM84 76h4v4h-4zM116 76h16v4h-16zM176 76h8v4h-8zM216 76h36v4h-36zM36 80h4v4h-4zM72 80h4v4h-4zM84 80h8v4h-8zM112 80h20v4h-20zM172 80h8v4h-8zM208 80h20v4h-20zM240 80h20v4h-20zM80 84h16v4h-16zM108 84h20v4h-20zM168 84h8v4h-8zM200 84h12v4h-12zM252 84h20v4h-20zM32 88h4v4h-4zM88 88h24v4h-24zM120 88h8v4h-8zM168 88h8v4h-8zM196 88h12v4h-12zM268 88h8v4h-8zM92 92h4v4h-4zM116 92h8v4h-8zM168 92h8v4h-8zM192 92h12v4h-12zM276 92h4v4h-4zM28 96h4v4h-4zM116 96h4v4h-4zM168 96h4v4h-4zM192 96h8v4h-8zM276 96h8v4h-8zM100 100h4v4h-4zM112 100h4v4h-4zM164 100h8v4h-8zM192 100h8v4h-8zM280 100h4v4h-4zM104 104h4v4h-4zM112 104h4v4h-4zM156 104h12v4h-12zM188 104h12v4h-12zM280 104h8v4h-8zM108 108h8v4h-8zM148 108h16v4h-16zM188 108h12v4h-12zM284 108h4v4h-4zM24 112h4v4h-4zM148 112h20v4h-20zM188 112h12v4h-12zM284 112h4v4h-4zM24 116h4v4h-4zM148 116h52v4h-52zM284 116h4v4h-4zM176 120h24v4h-24zM284 120h4v4h-4zM192 124h4v4h-4zM20 128h4v4h-4zM20 132h4v4h-4zM20 136h4v4h-4zM16 152h4v4h-4zM248 152h4v4h-4zM16 156h4v4h-4zM244 156h8v4h-8zM16 160h4v4h-4zM240 160h12v4h-12zM228 164h16v4h-16zM248 164h8v4h-8zM204 168h32v4h-32zM252 168h4v4h-4zM192 172h20v4h-20zM252 172h8v4h-8zM284 172h4v4h-4z"/><path fill="#060606" d="M116 -8h12v4h-12zM204 -8h8v4h-8zM228 -8h8v4h-8zM32 -4h12v4h-12zM52 -4h12v4h-12zM100 -4h4v4h-4zM140 -4h4v4h-4zM176 -4h20v4h-20zM240 -4h4v4h-4zM20 0h8v4h-8zM68 0h12v4h-12zM88 0h8v4h-8zM152 0h8v4h-8zM248 0h4v4h-4zM12 4h4v4h-4zM252 4h8v4h-8zM4 8h4v4h-4zM260 8h8v4h-8zM-4 12h8v4h-8zM264 12h12v4h-12zM-8 16h8v4h-8zM268 16h16v4h-16zM-8 20h8v4h-8zM268 20h16v4h-16zM-4 24h4v4h-4zM268 24h12v4h-12zM-4 28h4v4h-4zM260 28h8v4h-8zM0 32h4v4h-4zM256 32h4v4h-4zM132 36h20v4h-20zM248 36h4v4h-4zM8 40h4v4h-4zM108 40h4v4h-4zM152 40h4v4h-4zM240 40h8v4h-8zM32 44h8v4h-8zM108 44h4v4h-4zM152 44h4v4h-4zM184 44h4v4h-4zM196 44h12v4h-12zM232 44h8v4h-8zM64 48h4v4h-4zM112 48h4v4h-4zM152 48h4v4h-4zM180 48h4v4h-4zM68 52h4v4h-4zM80 56h4v4h-4zM148 56h4v4h-4zM84 60h4v4h-4zM116 60h4v4h-4zM148 60h4v4h-4zM84 64h4v4h-4zM116 64h4v4h-4zM180 64h4v4h-4zM88 72h4v4h-4zM144 72h8v4h-8zM136 76h4v4h-4zM164 76h4v4h-4zM96 80h12v4h-12zM132 80h4v4h-4zM164 80h4v4h-4zM76 84h4v4h-4zM164 84h4v4h-4zM224 84h20v4h-20zM164 88h4v4h-4zM212 88h8v4h-8zM248 88h4v4h-4zM128 92h4v4h-4zM208 92h4v4h-4zM256 92h16v4h-16zM160 96h4v4h-4zM204 96h4v4h-4zM272 96h4v4h-4zM156 100h4v4h-4zM204 100h4v4h-4zM28 104h4v4h-4zM116 104h4v4h-4zM144 104h4v4h-4zM276 104h4v4h-4zM116 108h4v4h-4zM116 112h4v4h-4zM112 116h8v4h-8zM140 116h4v4h-4zM204 116h4v4h-4zM116 120h4v4h-4zM140 120h4v4h-4zM204 120h4v4h-4zM280 120h4v4h-4zM120 124h4v4h-4zM172 124h8v4h-8zM204 124h4v4h-4zM124 128h4v4h-4zM184 128h8v4h-8zM200 128h4v4h-4zM244 128h12v4h-12zM284 128h4v4h-4zM196 132h4v4h-4zM244 132h4v4h-4zM252 132h4v4h-4zM244 136h4v4h-4zM252 136h4v4h-4zM244 140h4v4h-4zM252 140h4v4h-4zM20 144h4v4h-4zM252 144h4v4h-4zM240 148h4v4h-4zM252 148h4v4h-4zM252 152h4v4h-4zM232 156h4v4h-4zM208 160h24v4h-24zM284 160h4v4h-4zM204 164h4v4h-4zM256 164h4v4h-4zM16 168h4v4h-4zM192 168h4v4h-4zM260 168h4v4h-4zM280 168h4v4h-4zM16 172h4v4h-4zM144 172h36v4h-36zM264 172h4v4h-4zM276 172h4v4h-4z"/><path fill="#070707" d="M212 -8h16v4h-16zM44 -4h8v4h-8zM104 -4h8v4h-8zM136 -4h4v4h-4zM196 -4h4v4h-4zM236 -4h4v4h-4zM28 0h4v4h-4zM64 0h4v4h-4zM96 0h4v4h-4zM148 0h4v4h-4zM160 0h8v4h-8zM244 0h4v4h-4zM16 4h4v4h-4zM76 4h12v4h-12zM248 4h4v4h-4zM8 8h4v4h-4zM256 8h4v4h-4zM260 12h4v4h-4zM0 16h4v4h-4zM264 16h4v4h-4zM264 20h4v4h-4zM260 24h8v4h-8zM0 28h4v4h-4zM256 28h4v4h-4zM252 32h4v4h-4zM4 36h4v4h-4zM100 36h32v4h-32zM152 36h4v4h-4zM244 36h4v4h-4zM12 40h20v4h-20zM100 40h8v4h-8zM156 40h4v4h-4zM188 40h8v4h-8zM236 40h4v4h-4zM40 44h24v4h-24zM156 44h4v4h-4zM180 44h4v4h-4zM208 44h24v4h-24zM68 48h4v4h-4zM72 52h8v4h-8zM112 52h4v4h-4zM152 52h4v4h-4zM180 52h4v4h-4zM84 56h4v4h-4zM180 56h4v4h-4zM180 60h4v4h-4zM152 64h4v4h-4zM88 68h4v4h-4zM152 68h4v4h-4zM176 68h4v4h-4zM48 72h4v4h-4zM112 72h4v4h-4zM152 72h8v4h-8zM168 72h8v4h-8zM92 76h4v4h-4zM108 76h4v4h-4zM140 76h4v4h-4zM160 76h4v4h-4zM68 80h4v4h-4zM160 80h4v4h-4zM36 84h4v4h-4zM132 84h4v4h-4zM132 88h4v4h-4zM220 88h4v4h-4zM240 88h8v4h-8zM32 92h4v4h-4zM88 92h4v4h-4zM212 92h4v4h-4zM252 92h4v4h-4zM124 96h4v4h-4zM208 96h4v4h-4zM120 100h4v4h-4zM148 100h8v4h-8zM140 104h4v4h-4zM204 104h4v4h-4zM28 108h4v4h-4zM140 108h4v4h-4zM204 108h4v4h-4zM276 108h4v4h-4zM108 112h4v4h-4zM140 112h4v4h-4zM204 112h4v4h-4zM120 120h4v4h-4zM24 124h4v4h-4zM124 124h4v4h-4zM136 124h36v4h-36zM244 124h12v4h-12zM280 124h4v4h-4zM128 128h4v4h-4zM180 128h4v4h-4zM204 128h4v4h-4zM192 132h4v4h-4zM200 132h4v4h-4zM240 132h4v4h-4zM284 132h4v4h-4zM240 136h4v4h-4zM240 140h4v4h-4zM240 144h4v4h-4zM20 148h4v4h-4zM236 152h4v4h-4zM228 156h4v4h-4zM284 156h4v4h-4zM204 160h4v4h-4zM256 160h4v4h-4zM200 164h4v4h-4zM188 168h4v4h-4zM268 172h8v4h-8z"/><path fill="#080808" d="M112 -4h4v4h-4zM128 -4h8v4h-8zM200 -4h8v4h-8zM232 -4h4v4h-4zM32 0h4v4h-4zM60 0h4v4h-4zM100 0h4v4h-4zM144 0h4v4h-4zM168 0h24v4h-24zM240 0h4v4h-4zM20 4h4v4h-4zM72 4h4v4h-4zM88 4h8v4h-8zM12 8h4v4h-4zM252 8h4v4h-4zM4 12h4v4h-4zM256 12h4v4h-4zM260 16h4v4h-4zM0 20h4v4h-4zM260 20h4v4h-4zM0 24h4v4h-4zM256 24h4v4h-4zM252 28h4v4h-4zM4 32h4v4h-4zM144 32h4v4h-4zM248 32h4v4h-4zM96 36h4v4h-4zM156 36h4v4h-4zM32 40h4v4h-4zM96 40h4v4h-4zM160 40h4v4h-4zM180 40h8v4h-8zM196 40h8v4h-8zM232 40h4v4h-4zM64 44h4v4h-4zM100 44h8v4h-8zM160 44h4v4h-4zM176 44h4v4h-4zM108 48h4v4h-4zM156 48h4v4h-4zM176 48h4v4h-4zM80 52h8v4h-8zM112 56h4v4h-4zM152 56h4v4h-4zM152 60h4v4h-4zM88 64h4v4h-4zM112 68h4v4h-4zM156 68h4v4h-4zM52 72h4v4h-4zM160 72h8v4h-8zM60 76h4v4h-4zM96 76h4v4h-4zM104 76h4v4h-4zM144 76h4v4h-4zM152 76h8v4h-8zM136 80h4v4h-4zM160 84h4v4h-4zM160 88h4v4h-4zM224 88h16v4h-16zM132 92h4v4h-4zM160 92h4v4h-4zM216 92h4v4h-4zM248 92h4v4h-4zM128 96h8v4h-8zM156 96h4v4h-4zM252 96h8v4h-8zM268 96h4v4h-4zM140 100h8v4h-8zM208 100h4v4h-4zM272 100h4v4h-4zM100 104h4v4h-4zM104 108h4v4h-4zM208 112h4v4h-4zM276 112h4v4h-4zM120 116h4v4h-4zM208 116h4v4h-4zM276 116h4v4h-4zM136 120h4v4h-4zM208 120h4v4h-4zM248 120h8v4h-8zM128 124h8v4h-8zM208 124h4v4h-4zM24 128h4v4h-4zM120 128h4v4h-4zM132 128h8v4h-8zM176 128h4v4h-4zM240 128h4v4h-4zM256 128h4v4h-4zM128 132h4v4h-4zM188 132h4v4h-4zM204 132h4v4h-4zM256 132h4v4h-4zM196 136h8v4h-8zM284 136h4v4h-4zM284 140h4v4h-4zM284 144h4v4h-4zM236 148h4v4h-4zM284 148h4v4h-4zM20 152h4v4h-4zM232 152h4v4h-4zM284 152h4v4h-4zM208 156h20v4h-20zM256 156h4v4h-4zM196 164h4v4h-4zM260 164h4v4h-4zM280 164h4v4h-4zM144 168h8v4h-8zM176 168h12v4h-12zM264 168h4v4h-4zM276 168h4v4h-4z"/><path fill="#090909" d="M116 -4h12v4h-12zM208 -4h4v4h-4zM224 -4h8v4h-8zM36 0h4v4h-4zM52 0h8v4h-8zM140 0h4v4h-4zM192 0h4v4h-4zM236 0h4v4h-4zM24 4h4v4h-4zM68 4h4v4h-4zM152 4h8v4h-8zM244 4h4v4h-4zM16 8h4v4h-4zM80 8h8v4h-8zM248 8h4v4h-4zM8 12h4v4h-4zM252 12h4v4h-4zM4 16h4v4h-4zM256 16h4v4h-4zM256 20h4v4h-4zM252 24h4v4h-4zM100 32h12v4h-12zM136 32h8v4h-8zM148 32h8v4h-8zM244 32h4v4h-4zM8 36h4v4h-4zM160 36h4v4h-4zM240 36h4v4h-4zM36 40h4v4h-4zM56 40h8v4h-8zM164 40h16v4h-16zM204 40h4v4h-4zM228 40h4v4h-4zM92 44h8v4h-8zM164 44h4v4h-4zM172 44h4v4h-4zM72 48h4v4h-4zM88 48h4v4h-4zM88 52h4v4h-4zM88 56h4v4h-4zM88 60h4v4h-4zM112 60h4v4h-4zM112 64h4v4h-4zM176 64h4v4h-4zM172 68h4v4h-4zM92 72h4v4h-4zM108 72h4v4h-4zM100 76h4v4h-4zM148 76h4v4h-4zM156 80h4v4h-4zM80 88h4v4h-4zM220 92h4v4h-4zM244 92h4v4h-4zM92 96h4v4h-4zM136 96h4v4h-4zM212 96h4v4h-4zM248 96h4v4h-4zM260 96h8v4h-8zM96 100h4v4h-4zM124 100h4v4h-4zM136 100h4v4h-4zM120 104h4v4h-4zM208 104h4v4h-4zM208 108h4v4h-4zM28 112h4v4h-4zM136 116h4v4h-4zM124 120h4v4h-4zM132 120h4v4h-4zM212 120h4v4h-4zM244 120h4v4h-4zM276 120h4v4h-4zM116 124h4v4h-4zM240 124h4v4h-4zM256 124h4v4h-4zM140 128h4v4h-4zM172 128h4v4h-4zM208 128h4v4h-4zM280 128h4v4h-4zM124 132h4v4h-4zM132 132h4v4h-4zM184 132h4v4h-4zM236 132h4v4h-4zM192 136h4v4h-4zM204 136h4v4h-4zM256 136h4v4h-4zM256 140h4v4h-4zM236 144h4v4h-4zM256 152h4v4h-4zM204 156h4v4h-4zM200 160h4v4h-4zM280 160h4v4h-4zM152 168h24v4h-24zM268 168h8v4h-8z"/><path fill="#0a0a0a" d="M212 -4h12v4h-12zM40 0h12v4h-12zM104 0h4v4h-4zM196 0h4v4h-4zM28 4h4v4h-4zM64 4h4v4h-4zM96 4h4v4h-4zM148 4h4v4h-4zM160 4h4v4h-4zM20 8h4v4h-4zM76 8h4v4h-4zM88 8h4v4h-4zM252 16h4v4h-4zM4 20h4v4h-4zM252 20h4v4h-4zM4 24h4v4h-4zM4 28h4v4h-4zM248 28h4v4h-4zM96 32h4v4h-4zM112 32h24v4h-24zM156 32h4v4h-4zM12 36h20v4h-20zM92 36h4v4h-4zM164 36h4v4h-4zM192 36h4v4h-4zM236 36h4v4h-4zM40 40h16v4h-16zM92 40h4v4h-4zM208 40h8v4h-8zM224 40h4v4h-4zM68 44h4v4h-4zM88 44h4v4h-4zM168 44h4v4h-4zM76 48h12v4h-12zM92 48h8v4h-8zM104 48h4v4h-4zM160 48h4v4h-4zM172 48h4v4h-4zM108 52h4v4h-4zM156 52h4v4h-4zM176 52h4v4h-4zM176 56h4v4h-4zM176 60h4v4h-4zM156 64h4v4h-4zM160 68h4v4h-4zM168 68h4v4h-4zM44 76h4v4h-4zM40 80h4v4h-4zM140 80h4v4h-4zM136 84h4v4h-4zM136 88h4v4h-4zM136 92h4v4h-4zM156 92h4v4h-4zM224 92h4v4h-4zM240 92h4v4h-4zM32 96h4v4h-4zM140 96h4v4h-4zM152 96h4v4h-4zM216 96h4v4h-4zM132 100h4v4h-4zM212 100h4v4h-4zM252 100h4v4h-4zM136 104h4v4h-4zM272 104h4v4h-4zM120 108h4v4h-4zM120 112h4v4h-4zM136 112h4v4h-4zM212 116h4v4h-4zM248 116h8v4h-8zM112 120h4v4h-4zM128 120h4v4h-4zM256 120h4v4h-4zM212 124h4v4h-4zM236 124h4v4h-4zM276 124h4v4h-4zM144 128h8v4h-8zM164 128h8v4h-8zM236 128h4v4h-4zM24 132h4v4h-4zM180 132h4v4h-4zM208 132h4v4h-4zM280 132h4v4h-4zM188 136h4v4h-4zM236 136h4v4h-4zM200 140h8v4h-8zM236 140h4v4h-4zM256 144h4v4h-4zM232 148h4v4h-4zM256 148h4v4h-4zM208 152h8v4h-8zM228 152h4v4h-4zM20 156h4v4h-4zM260 160h4v4h-4zM192 164h4v4h-4zM276 164h4v4h-4z"/><path fill="#0b0b0b" d="M108 0h4v4h-4zM136 0h4v4h-4zM200 0h4v4h-4zM232 0h4v4h-4zM60 4h4v4h-4zM144 4h4v4h-4zM164 4h8v4h-8zM240 4h4v4h-4zM72 8h4v4h-4zM92 8h4v4h-4zM244 8h4v4h-4zM12 12h4v4h-4zM248 12h4v4h-4zM248 24h4v4h-4zM144 28h8v4h-8zM8 32h4v4h-4zM240 32h4v4h-4zM184 36h8v4h-8zM196 36h4v4h-4zM64 40h4v4h-4zM216 40h8v4h-8zM100 48h4v4h-4zM92 52h4v4h-4zM156 56h4v4h-4zM156 60h4v4h-4zM172 64h4v4h-4zM92 68h4v4h-4zM108 68h4v4h-4zM164 68h4v4h-4zM96 72h4v4h-4zM104 72h4v4h-4zM152 80h4v4h-4zM72 84h4v4h-4zM156 84h4v4h-4zM36 88h4v4h-4zM228 92h12v4h-12zM144 96h8v4h-8zM244 96h4v4h-4zM128 100h4v4h-4zM248 100h4v4h-4zM256 100h4v4h-4zM268 100h4v4h-4zM212 104h4v4h-4zM136 108h4v4h-4zM212 108h4v4h-4zM272 108h4v4h-4zM212 112h4v4h-4zM248 112h4v4h-4zM244 116h4v4h-4zM216 120h4v4h-4zM240 120h4v4h-4zM216 124h4v4h-4zM152 128h12v4h-12zM212 128h4v4h-4zM232 128h4v4h-4zM260 128h4v4h-4zM136 132h4v4h-4zM176 132h4v4h-4zM128 136h4v4h-4zM208 136h4v4h-4zM196 140h4v4h-4zM200 144h8v4h-8zM232 144h4v4h-4zM204 148h8v4h-8zM204 152h4v4h-4zM216 152h12v4h-12zM200 156h4v4h-4zM280 156h4v4h-4zM20 160h4v4h-4zM196 160h4v4h-4zM144 164h4v4h-4zM188 164h4v4h-4zM264 164h4v4h-4zM140 168h4v4h-4zM140 172h4v4h-4z"/><path fill="#0d0d0d" d="M112 0h4v4h-4zM128 0h4v4h-4zM208 0h4v4h-4zM224 0h4v4h-4zM36 4h4v4h-4zM140 4h4v4h-4zM196 4h4v4h-4zM236 4h4v4h-4zM64 8h4v4h-4zM96 8h4v4h-4zM148 8h4v4h-4zM160 8h4v4h-4zM20 12h4v4h-4zM76 12h4v4h-4zM92 12h4v4h-4zM244 12h4v4h-4zM8 20h4v4h-4zM8 28h4v4h-4zM92 28h4v4h-4zM108 28h4v4h-4zM136 28h4v4h-4zM156 28h4v4h-4zM12 32h4v4h-4zM20 32h8v4h-8zM36 36h4v4h-4zM56 36h12v4h-12zM88 36h4v4h-4zM204 36h4v4h-4zM228 36h4v4h-4zM68 40h4v4h-4zM76 44h8v4h-8zM96 52h4v4h-4zM104 52h4v4h-4zM160 52h4v4h-4zM92 60h4v4h-4zM108 60h4v4h-4zM172 60h4v4h-4zM108 64h4v4h-4zM168 64h4v4h-4zM56 76h4v4h-4zM140 84h4v4h-4zM140 88h4v4h-4zM152 92h4v4h-4zM224 96h4v4h-4zM32 100h4v4h-4zM244 100h4v4h-4zM132 104h4v4h-4zM216 104h4v4h-4zM256 104h4v4h-4zM216 108h4v4h-4zM216 112h4v4h-4zM244 112h4v4h-4zM108 116h4v4h-4zM128 116h4v4h-4zM240 116h4v4h-4zM220 120h8v4h-8zM232 120h4v4h-4zM260 120h4v4h-4zM220 124h12v4h-12zM272 124h4v4h-4zM216 128h4v4h-4zM228 128h4v4h-4zM144 132h4v4h-4zM172 132h4v4h-4zM212 136h4v4h-4zM280 140h4v4h-4zM196 144h4v4h-4zM212 144h4v4h-4zM200 148h4v4h-4zM216 148h4v4h-4zM224 148h4v4h-4zM200 152h4v4h-4zM280 152h4v4h-4zM276 160h4v4h-4zM20 164h4v4h-4zM156 164h28v4h-28zM268 164h4v4h-4z"/><path fill="#0e0e0e" d="M116 0h12v4h-12zM212 0h12v4h-12zM40 4h16v4h-16zM104 4h4v4h-4zM28 8h4v4h-4zM144 8h4v4h-4zM240 8h4v4h-4zM72 12h4v4h-4zM12 16h4v4h-4zM84 16h8v4h-8zM8 24h4v4h-4zM92 24h8v4h-8zM148 24h4v4h-4zM244 24h4v4h-4zM112 28h4v4h-4zM132 28h4v4h-4zM240 28h4v4h-4zM16 32h4v4h-4zM28 32h4v4h-4zM88 32h4v4h-4zM164 32h4v4h-4zM192 32h4v4h-4zM236 32h4v4h-4zM40 36h16v4h-16zM208 36h4v4h-4zM224 36h4v4h-4zM84 40h4v4h-4zM100 52h4v4h-4zM164 52h8v4h-8zM160 56h4v4h-4zM172 56h4v4h-4zM160 60h4v4h-4zM164 64h4v4h-4zM96 68h4v4h-4zM104 68h4v4h-4zM152 84h4v4h-4zM152 88h4v4h-4zM144 92h8v4h-8zM228 96h12v4h-12zM220 100h4v4h-4zM128 104h4v4h-4zM244 104h4v4h-4zM268 104h4v4h-4zM124 108h4v4h-4zM244 108h4v4h-4zM256 108h4v4h-4zM104 112h4v4h-4zM124 112h4v4h-4zM132 112h4v4h-4zM256 112h4v4h-4zM220 116h4v4h-4zM236 116h4v4h-4zM228 120h4v4h-4zM268 120h4v4h-4zM264 124h4v4h-4zM220 128h8v4h-8zM120 132h4v4h-4zM148 132h4v4h-4zM168 132h4v4h-4zM216 132h4v4h-4zM228 132h4v4h-4zM136 136h4v4h-4zM180 136h4v4h-4zM260 136h4v4h-4zM24 140h4v4h-4zM188 140h4v4h-4zM212 140h4v4h-4zM228 144h4v4h-4zM280 144h4v4h-4zM220 148h4v4h-4zM280 148h4v4h-4zM260 152h4v4h-4zM196 156h4v4h-4zM192 160h4v4h-4zM264 160h4v4h-4z"/><path fill="#0c0c0c" d="M132 0h4v4h-4zM204 0h4v4h-4zM228 0h4v4h-4zM32 4h4v4h-4zM56 4h4v4h-4zM100 4h4v4h-4zM172 4h24v4h-24zM24 8h4v4h-4zM68 8h4v4h-4zM152 8h8v4h-8zM16 12h4v4h-4zM80 12h12v4h-12zM8 16h4v4h-4zM248 16h4v4h-4zM248 20h4v4h-4zM96 28h12v4h-12zM140 28h4v4h-4zM152 28h4v4h-4zM244 28h4v4h-4zM92 32h4v4h-4zM160 32h4v4h-4zM32 36h4v4h-4zM168 36h16v4h-16zM200 36h4v4h-4zM232 36h4v4h-4zM88 40h4v4h-4zM72 44h4v4h-4zM84 44h4v4h-4zM164 48h8v4h-8zM172 52h4v4h-4zM92 56h4v4h-4zM108 56h4v4h-4zM92 64h4v4h-4zM160 64h4v4h-4zM100 72h4v4h-4zM64 80h4v4h-4zM144 80h8v4h-8zM156 88h4v4h-4zM84 92h4v4h-4zM140 92h4v4h-4zM220 96h4v4h-4zM240 96h4v4h-4zM216 100h4v4h-4zM260 100h8v4h-8zM124 104h4v4h-4zM248 104h8v4h-8zM248 108h8v4h-8zM252 112h4v4h-4zM272 112h4v4h-4zM28 116h4v4h-4zM124 116h4v4h-4zM132 116h4v4h-4zM216 116h4v4h-4zM256 116h4v4h-4zM272 116h4v4h-4zM236 120h4v4h-4zM272 120h4v4h-4zM232 124h4v4h-4zM260 124h4v4h-4zM276 128h4v4h-4zM140 132h4v4h-4zM212 132h4v4h-4zM232 132h4v4h-4zM260 132h4v4h-4zM24 136h4v4h-4zM132 136h4v4h-4zM184 136h4v4h-4zM232 136h4v4h-4zM280 136h4v4h-4zM192 140h4v4h-4zM208 140h4v4h-4zM232 140h4v4h-4zM208 144h4v4h-4zM212 148h4v4h-4zM228 148h4v4h-4zM260 156h4v4h-4zM140 164h4v4h-4zM148 164h8v4h-8zM184 164h4v4h-4zM272 164h4v4h-4z"/><path fill="#101010" d="M108 4h4v4h-4zM204 4h4v4h-4zM32 8h4v4h-4zM168 8h4v4h-4zM188 8h8v4h-8zM236 8h4v4h-4zM240 12h4v4h-4zM20 16h4v4h-4zM72 16h4v4h-4zM96 16h4v4h-4zM148 16h8v4h-8zM12 20h4v4h-4zM84 20h4v4h-4zM96 20h4v4h-4zM148 20h8v4h-8zM104 24h4v4h-4zM140 24h4v4h-4zM156 24h4v4h-4zM240 24h4v4h-4zM12 28h16v4h-16zM120 28h4v4h-4zM32 32h4v4h-4zM60 32h8v4h-8zM168 32h4v4h-4zM180 32h8v4h-8zM200 32h4v4h-4zM232 32h4v4h-4zM84 36h4v4h-4zM76 40h8v4h-8zM100 56h4v4h-4zM164 56h8v4h-8zM96 60h4v4h-4zM104 60h4v4h-4zM164 60h4v4h-4zM96 64h4v4h-4zM104 64h4v4h-4zM48 76h4v4h-4zM40 84h4v4h-4zM68 84h4v4h-4zM144 88h8v4h-8zM36 92h4v4h-4zM88 96h4v4h-4zM224 100h4v4h-4zM236 100h4v4h-4zM32 104h4v4h-4zM96 104h4v4h-4zM240 104h4v4h-4zM264 104h4v4h-4zM128 108h4v4h-4zM220 108h4v4h-4zM240 108h4v4h-4zM268 108h4v4h-4zM128 112h4v4h-4zM224 112h4v4h-4zM236 112h4v4h-4zM268 112h4v4h-4zM268 128h4v4h-4zM264 132h4v4h-4zM140 136h4v4h-4zM220 136h8v4h-8zM184 140h4v4h-4zM216 140h12v4h-12zM24 144h4v4h-4zM192 144h4v4h-4zM220 144h4v4h-4zM196 152h4v4h-4zM276 156h4v4h-4zM148 160h4v4h-4zM188 160h4v4h-4zM268 160h8v4h-8z"/><path fill="#131313" d="M112 4h4v4h-4zM128 4h4v4h-4zM212 4h12v4h-12zM40 8h12v4h-12zM136 8h4v4h-4zM200 8h4v4h-4zM232 8h4v4h-4zM32 12h4v4h-4zM60 12h4v4h-4zM140 12h4v4h-4zM164 12h4v4h-4zM236 12h4v4h-4zM28 16h4v4h-4zM64 16h4v4h-4zM160 16h4v4h-4zM68 20h4v4h-4zM140 20h4v4h-4zM28 24h4v4h-4zM68 24h12v4h-12zM132 24h4v4h-4zM236 24h4v4h-4zM32 28h4v4h-4zM64 28h12v4h-12zM80 28h4v4h-4zM188 28h4v4h-4zM196 28h4v4h-4zM40 32h12v4h-12zM72 32h12v4h-12zM208 32h4v4h-4zM224 32h4v4h-4zM268 132h4v4h-4zM148 136h4v4h-4zM164 136h4v4h-4zM140 140h4v4h-4zM276 140h4v4h-4zM136 144h4v4h-4zM192 148h4v4h-4zM192 152h4v4h-4zM264 152h4v4h-4zM144 156h4v4h-4zM272 156h4v4h-4zM172 160h12v4h-12z"/><path fill="#141414" d="M116 4h4v4h-4zM124 4h4v4h-4zM204 8h4v4h-4zM188 12h8v4h-8zM140 16h4v4h-4zM28 20h4v4h-4zM64 20h4v4h-4zM104 20h4v4h-4zM160 20h4v4h-4zM64 24h4v4h-4zM112 24h4v4h-4zM128 24h4v4h-4zM60 28h4v4h-4zM76 28h4v4h-4zM168 28h4v4h-4zM184 28h4v4h-4zM200 28h4v4h-4zM232 28h4v4h-4zM212 32h12v4h-12zM72 88h4v4h-4zM32 108h4v4h-4zM104 116h4v4h-4zM152 136h12v4h-12zM176 140h4v4h-4zM264 140h4v4h-4zM132 144h4v4h-4zM276 144h4v4h-4zM136 148h4v4h-4zM276 148h4v4h-4zM24 152h4v4h-4zM140 152h4v4h-4zM148 156h4v4h-4zM188 156h4v4h-4zM268 156h4v4h-4zM136 160h4v4h-4zM136 164h4v4h-4z"/><path fill="#151515" d="M120 4h4v4h-4zM108 8h4v4h-4zM228 8h4v4h-4zM36 12h4v4h-4zM56 12h4v4h-4zM104 12h4v4h-4zM168 12h4v4h-4zM184 12h4v4h-4zM196 12h4v4h-4zM60 16h4v4h-4zM104 16h4v4h-4zM164 16h4v4h-4zM236 16h4v4h-4zM136 20h4v4h-4zM236 20h4v4h-4zM116 24h12v4h-12zM164 24h4v4h-4zM192 24h4v4h-4zM36 28h4v4h-4zM56 28h4v4h-4zM172 28h4v4h-4zM180 28h4v4h-4zM204 28h4v4h-4zM56 80h4v4h-4zM64 84h4v4h-4zM40 88h4v4h-4zM36 96h4v4h-4zM84 96h4v4h-4zM100 112h4v4h-4zM28 128h4v4h-4zM112 128h4v4h-4zM116 132h4v4h-4zM120 136h4v4h-4zM268 136h8v4h-8zM144 140h4v4h-4zM172 140h4v4h-4zM140 144h4v4h-4zM184 144h4v4h-4zM264 144h4v4h-4zM140 148h4v4h-4zM188 148h4v4h-4zM264 148h4v4h-4zM136 152h4v4h-4zM24 156h4v4h-4zM136 156h4v4h-4zM152 156h4v4h-4zM136 168h4v4h-4zM136 172h4v4h-4z"/><path fill="#111111" d="M132 4h4v4h-4zM228 4h4v4h-4zM36 8h4v4h-4zM56 8h4v4h-4zM140 8h4v4h-4zM172 8h4v4h-4zM180 8h8v4h-8zM196 8h4v4h-4zM28 12h4v4h-4zM64 12h4v4h-4zM144 12h4v4h-4zM160 12h4v4h-4zM24 16h4v4h-4zM68 16h4v4h-4zM156 16h4v4h-4zM16 20h8v4h-8zM76 20h8v4h-8zM100 20h4v4h-4zM144 20h4v4h-4zM156 20h4v4h-4zM12 24h4v4h-4zM20 24h4v4h-4zM84 24h4v4h-4zM136 24h4v4h-4zM28 28h4v4h-4zM84 28h4v4h-4zM236 28h4v4h-4zM36 32h4v4h-4zM56 32h4v4h-4zM68 32h4v4h-4zM84 32h4v4h-4zM172 32h8v4h-8zM204 32h4v4h-4zM72 36h4v4h-4zM100 64h4v4h-4zM52 76h4v4h-4zM60 80h4v4h-4zM92 100h4v4h-4zM228 100h8v4h-8zM224 104h4v4h-4zM236 104h4v4h-4zM224 108h4v4h-4zM236 108h4v4h-4zM260 108h4v4h-4zM228 112h8v4h-8zM260 112h4v4h-4zM264 116h4v4h-4zM112 124h4v4h-4zM144 136h4v4h-4zM172 136h4v4h-4zM276 136h4v4h-4zM128 140h4v4h-4zM136 140h4v4h-4zM264 156h4v4h-4zM152 160h4v4h-4zM20 172h4v4h-4z"/><path fill="#0f0f0f" d="M136 4h4v4h-4zM200 4h4v4h-4zM232 4h4v4h-4zM60 8h4v4h-4zM100 8h4v4h-4zM164 8h4v4h-4zM24 12h4v4h-4zM68 12h4v4h-4zM96 12h4v4h-4zM148 12h12v4h-12zM16 16h4v4h-4zM76 16h8v4h-8zM92 16h4v4h-4zM244 16h4v4h-4zM88 20h8v4h-8zM244 20h4v4h-4zM88 24h4v4h-4zM100 24h4v4h-4zM144 24h4v4h-4zM152 24h4v4h-4zM88 28h4v4h-4zM116 28h4v4h-4zM124 28h8v4h-8zM160 28h4v4h-4zM188 32h4v4h-4zM196 32h4v4h-4zM68 36h4v4h-4zM212 36h12v4h-12zM72 40h4v4h-4zM96 56h4v4h-4zM104 56h4v4h-4zM168 60h4v4h-4zM100 68h4v4h-4zM144 84h8v4h-8zM76 88h4v4h-4zM240 100h4v4h-4zM220 104h4v4h-4zM260 104h4v4h-4zM100 108h4v4h-4zM132 108h4v4h-4zM220 112h4v4h-4zM240 112h4v4h-4zM224 116h12v4h-12zM260 116h4v4h-4zM268 116h4v4h-4zM28 120h4v4h-4zM264 120h4v4h-4zM268 124h4v4h-4zM116 128h4v4h-4zM264 128h4v4h-4zM272 128h4v4h-4zM152 132h16v4h-16zM220 132h8v4h-8zM276 132h4v4h-4zM124 136h4v4h-4zM176 136h4v4h-4zM216 136h4v4h-4zM228 136h4v4h-4zM132 140h4v4h-4zM228 140h4v4h-4zM260 140h4v4h-4zM216 144h4v4h-4zM224 144h4v4h-4zM260 144h4v4h-4zM196 148h4v4h-4zM260 148h4v4h-4zM140 160h8v4h-8zM20 168h4v4h-4z"/><path fill="#121212" d="M208 4h4v4h-4zM224 4h4v4h-4zM52 8h4v4h-4zM104 8h4v4h-4zM176 8h4v4h-4zM100 12h4v4h-4zM100 16h4v4h-4zM144 16h4v4h-4zM240 16h4v4h-4zM24 20h4v4h-4zM72 20h4v4h-4zM240 20h4v4h-4zM16 24h4v4h-4zM24 24h4v4h-4zM80 24h4v4h-4zM108 24h4v4h-4zM160 24h4v4h-4zM164 28h4v4h-4zM192 28h4v4h-4zM52 32h4v4h-4zM228 32h4v4h-4zM76 36h8v4h-8zM100 60h4v4h-4zM44 80h4v4h-4zM80 92h4v4h-4zM228 104h8v4h-8zM228 108h8v4h-8zM264 108h4v4h-4zM264 112h4v4h-4zM108 120h4v4h-4zM28 124h4v4h-4zM272 132h4v4h-4zM168 136h4v4h-4zM264 136h4v4h-4zM180 140h4v4h-4zM188 144h4v4h-4zM24 148h4v4h-4zM276 152h4v4h-4zM140 156h4v4h-4zM192 156h4v4h-4zM156 160h16v4h-16zM184 160h4v4h-4z"/><path fill="#171717" d="M112 8h4v4h-4zM212 8h4v4h-4zM220 8h4v4h-4zM40 12h12v4h-12zM108 12h4v4h-4zM56 16h4v4h-4zM136 16h4v4h-4zM168 16h4v4h-4zM196 16h4v4h-4zM232 16h4v4h-4zM32 20h4v4h-4zM132 20h4v4h-4zM188 20h12v4h-12zM56 24h4v4h-4zM168 24h4v4h-4zM184 24h4v4h-4zM200 24h4v4h-4zM40 28h12v4h-12zM208 28h4v4h-4zM224 28h4v4h-4zM52 80h4v4h-4zM76 92h4v4h-4zM88 100h4v4h-4zM96 108h4v4h-4zM32 112h4v4h-4zM124 140h4v4h-4zM152 140h4v4h-4zM164 140h4v4h-4zM268 140h8v4h-8zM144 144h4v4h-4zM144 148h4v4h-4zM272 148h4v4h-4zM148 152h4v4h-4zM164 156h20v4h-20zM24 160h4v4h-4zM128 172h8v4h-8z"/><path fill="#191919" d="M116 8h12v4h-12zM132 12h4v4h-4zM208 12h4v4h-4zM40 16h4v4h-4zM52 16h4v4h-4zM132 16h4v4h-4zM172 16h12v4h-12zM204 16h4v4h-4zM36 20h4v4h-4zM116 20h4v4h-4zM124 20h8v4h-8zM180 20h4v4h-4zM40 24h4v4h-4zM52 24h4v4h-4zM176 24h4v4h-4zM228 24h4v4h-4zM68 88h4v4h-4zM108 128h4v4h-4zM152 144h4v4h-4zM168 144h4v4h-4zM132 148h4v4h-4zM148 148h4v4h-4zM180 148h4v4h-4zM156 152h12v4h-12zM180 152h4v4h-4zM24 164h4v4h-4zM124 164h4v4h-4zM124 168h4v4h-4zM132 168h4v4h-4zM124 172h4v4h-4z"/><path fill="#181818" d="M128 8h4v4h-4zM216 8h4v4h-4zM204 12h4v4h-4zM228 12h4v4h-4zM36 16h4v4h-4zM108 16h4v4h-4zM184 16h4v4h-4zM200 16h4v4h-4zM56 20h4v4h-4zM112 20h4v4h-4zM168 20h4v4h-4zM184 20h4v4h-4zM200 20h4v4h-4zM232 20h4v4h-4zM36 24h4v4h-4zM172 24h4v4h-4zM180 24h4v4h-4zM204 24h4v4h-4zM212 28h12v4h-12zM44 84h4v4h-4zM92 104h4v4h-4zM104 120h4v4h-4zM28 132h4v4h-4zM112 132h4v4h-4zM116 136h4v4h-4zM156 140h8v4h-8zM148 144h4v4h-4zM172 144h8v4h-8zM268 144h8v4h-8zM184 148h4v4h-4zM268 148h4v4h-4zM152 152h4v4h-4zM184 152h4v4h-4zM128 168h4v4h-4z"/><path fill="#161616" d="M132 8h4v4h-4zM208 8h4v4h-4zM224 8h4v4h-4zM52 12h4v4h-4zM136 12h4v4h-4zM172 12h12v4h-12zM200 12h4v4h-4zM232 12h4v4h-4zM32 16h4v4h-4zM188 16h8v4h-8zM60 20h4v4h-4zM108 20h4v4h-4zM164 20h4v4h-4zM32 24h4v4h-4zM60 24h4v4h-4zM188 24h4v4h-4zM196 24h4v4h-4zM232 24h4v4h-4zM52 28h4v4h-4zM176 28h4v4h-4zM228 28h4v4h-4zM48 80h4v4h-4zM108 124h4v4h-4zM148 140h4v4h-4zM168 140h4v4h-4zM180 144h4v4h-4zM144 152h4v4h-4zM188 152h4v4h-4zM268 152h8v4h-8zM156 156h8v4h-8zM184 156h4v4h-4z"/><path fill="#1a1a1a" d="M112 12h4v4h-4zM212 12h4v4h-4zM224 12h4v4h-4zM44 16h8v4h-8zM112 16h4v4h-4zM228 16h4v4h-4zM40 20h4v4h-4zM52 20h4v4h-4zM120 20h4v4h-4zM172 20h8v4h-8zM204 20h4v4h-4zM228 20h4v4h-4zM44 24h8v4h-8zM208 24h4v4h-4zM224 24h4v4h-4zM60 84h4v4h-4zM80 96h4v4h-4zM100 116h4v4h-4zM116 140h8v4h-8zM128 144h4v4h-4zM156 144h12v4h-12zM152 148h28v4h-28zM168 152h12v4h-12zM128 164h8v4h-8z"/><path fill="#1b1b1b" d="M116 12h4v4h-4zM128 12h4v4h-4zM216 12h8v4h-8zM116 16h4v4h-4zM128 16h4v4h-4zM208 16h4v4h-4zM224 16h4v4h-4zM44 20h8v4h-8zM208 20h4v4h-4zM224 20h4v4h-4zM212 24h12v4h-12zM40 92h4v4h-4zM36 100h4v4h-4zM32 116h4v4h-4zM28 136h4v4h-4zM112 136h4v4h-4zM124 160h4v4h-4zM132 160h4v4h-4zM24 168h4v4h-4z"/><path fill="#1c1c1c" d="M120 12h8v4h-8zM120 16h8v4h-8zM212 16h12v4h-12zM212 20h12v4h-12zM116 144h12v4h-12zM120 148h4v4h-4zM120 152h4v4h-4zM132 152h4v4h-4zM120 156h8v4h-8zM132 156h4v4h-4zM128 160h4v4h-4zM24 172h4v4h-4z"/><path fill="#1d1d1d" d="M48 84h4v4h-4zM72 92h4v4h-4zM28 140h4v4h-4zM124 152h4v4h-4zM120 160h4v4h-4z"/><path fill="#1f1f1f" d="M52 84h4v4h-4zM64 88h4v4h-4zM28 144h4v4h-4zM128 152h4v4h-4zM120 164h4v4h-4z"/><path fill="#1e1e1e" d="M56 84h4v4h-4zM84 100h4v4h-4zM96 112h4v4h-4zM104 124h4v4h-4zM108 132h4v4h-4zM124 148h8v4h-8zM128 156h4v4h-4z"/><path fill="#202020" d="M44 88h4v4h-4zM36 104h4v4h-4zM32 120h4v4h-4zM112 140h4v4h-4zM116 148h4v4h-4z"/><path fill="#292929" d="M48 88h4v4h-4zM40 100h4v4h-4zM28 160h4v4h-4z"/><path fill="#2c2c2c" d="M52 88h4v4h-4zM28 164h4v4h-4z"/><path fill="#2b2b2b" d="M56 88h4v4h-4zM64 92h4v4h-4zM36 112h4v4h-4z"/><path fill="#272727" d="M60 88h4v4h-4zM44 92h4v4h-4zM108 136h4v4h-4zM28 156h4v4h-4zM116 156h4v4h-4z"/><path fill="#2f2f2f" d="M48 92h4v4h-4zM32 132h4v4h-4z"/><path fill="#303030" d="M52 92h8v4h-8zM48 96h20v4h-20zM40 104h4v4h-4zM100 124h4v4h-4zM112 148h4v4h-4zM116 168h4v4h-4zM28 172h4v4h-4z"/><path fill="#2e2e2e" d="M60 92h4v4h-4zM68 96h4v4h-4zM116 164h4v4h-4zM28 168h4v4h-4z"/><path fill="#242424" d="M68 92h4v4h-4zM28 152h4v4h-4zM120 172h4v4h-4z"/><path fill="#222222" d="M40 96h4v4h-4zM76 96h4v4h-4zM88 104h4v4h-4zM92 108h4v4h-4zM28 148h4v4h-4zM120 168h4v4h-4z"/><path fill="#2d2d2d" d="M44 96h4v4h-4z"/><path fill="#2a2a2a" d="M72 96h4v4h-4zM80 100h4v4h-4zM96 116h4v4h-4zM32 128h4v4h-4zM116 160h4v4h-4z"/><path fill="#323232" d="M44 100h4v4h-4zM36 116h4v4h-4zM104 132h4v4h-4zM32 136h4v4h-4zM108 140h4v4h-4zM116 172h4v4h-4z"/><path fill="#373737" d="M48 100h4v4h-4zM76 100h4v4h-4zM88 108h4v4h-4z"/><path fill="#383838" d="M52 100h4v4h-4zM36 120h4v4h-4zM32 144h4v4h-4z"/><path fill="#393939" d="M56 100h4v4h-4zM40 108h4v4h-4zM112 156h4v4h-4z"/><path fill="#3a3a3a" d="M60 100h4v4h-4zM96 120h4v4h-4zM32 148h4v4h-4z"/><path fill="#3b3b3b" d="M64 100h4v4h-4zM112 160h4v4h-4z"/><path fill="#3c3c3c" d="M68 100h8v4h-8zM32 152h4v4h-4z"/><path fill="#404040" d="M44 104h4v4h-4zM32 160h4v4h-4zM112 168h4v4h-4z"/><path fill="#4e4e4e" d="M48 104h4v4h-4zM88 112h4v4h-4zM40 120h4v4h-4zM108 168h4v4h-4z"/><path fill="#515151" d="M52 104h4v4h-4zM36 160h4v4h-4z"/><path fill="#535353" d="M56 104h4v4h-4zM76 104h4v4h-4zM40 124h4v4h-4zM100 136h4v4h-4zM104 152h4v4h-4zM36 164h4v4h-4z"/><path fill="#545454" d="M60 104h4v4h-4zM36 168h4v4h-4z"/><path fill="#555555" d="M64 104h4v4h-4zM36 172h4v4h-4z"/><path fill="#575757" d="M68 104h8v4h-8zM96 128h4v4h-4z"/><path fill="#444444" d="M80 104h4v4h-4zM32 168h4v4h-4z"/><path fill="#313131" d="M84 104h4v4h-4z"/><path fill="#252525" d="M36 108h4v4h-4zM32 124h4v4h-4z"/><path fill="#505050" d="M44 108h4v4h-4zM104 148h4v4h-4zM36 156h4v4h-4zM108 172h4v4h-4z"/><path fill="#5f5f5f" d="M48 108h4v4h-4zM84 112h4v4h-4zM44 120h4v4h-4zM40 156h4v4h-4zM104 168h4v4h-4z"/><path fill="#636363" d="M52 108h4v4h-4zM96 132h4v4h-4z"/><path fill="#646464" d="M56 108h4v4h-4zM48 112h4v4h-4zM92 124h4v4h-4z"/><path fill="#656565" d="M60 108h8v4h-8zM76 108h4v4h-4zM100 148h4v4h-4z"/><path fill="#666666" d="M68 108h8v4h-8zM44 128h4v4h-4z"/><path fill="#5c5c5c" d="M80 108h4v4h-4zM44 116h4v4h-4zM40 144h4v4h-4zM104 164h4v4h-4z"/><path fill="#4b4b4b" d="M84 108h4v4h-4z"/><path fill="#434343" d="M40 112h4v4h-4zM36 128h4v4h-4zM108 148h4v4h-4z"/><path fill="#585858" d="M44 112h4v4h-4zM40 132h4v4h-4z"/><path fill="#6d6d6d" d="M52 112h4v4h-4zM84 116h4v4h-4zM96 136h4v4h-4zM44 156h4v4h-4zM100 156h4v4h-4zM44 160h4v4h-4zM44 164h4v4h-4zM44 168h4v4h-4z"/><path fill="#727272" d="M56 112h4v4h-4zM92 128h4v4h-4z"/><path fill="#737373" d="M60 112h8v4h-8zM76 112h4v4h-4zM100 164h4v4h-4z"/><path fill="#747474" d="M68 112h8v4h-8z"/><path fill="#6c6c6c" d="M80 112h4v4h-4zM48 120h4v4h-4zM44 148h4v4h-4zM44 152h4v4h-4z"/><path fill="#333333" d="M92 112h4v4h-4z"/><path fill="#4a4a4a" d="M40 116h4v4h-4zM100 132h4v4h-4zM36 140h4v4h-4zM108 160h4v4h-4z"/><path fill="#686868" d="M48 116h4v4h-4z"/><path fill="#757575" d="M52 116h4v4h-4zM48 128h4v4h-4zM96 140h4v4h-4zM100 168h4v4h-4z"/><path fill="#7b7b7b" d="M56 116h4v4h-4zM88 124h4v4h-4zM48 140h4v4h-4zM48 144h4v4h-4zM48 148h4v4h-4z"/><path fill="#7e7e7e" d="M60 116h4v4h-4z"/><path fill="#7f7f7f" d="M64 116h4v4h-4zM76 116h4v4h-4z"/><path fill="#808080" d="M68 116h8v4h-8zM92 132h4v4h-4z"/><path fill="#7a7a7a" d="M80 116h4v4h-4zM48 136h4v4h-4z"/><path fill="#5e5e5e" d="M88 116h4v4h-4zM40 152h4v4h-4z"/><path fill="#454545" d="M92 116h4v4h-4zM32 172h4v4h-4z"/><path fill="#797979" d="M52 120h4v4h-4zM48 132h4v4h-4z"/><path fill="#818181" d="M56 120h4v4h-4z"/><path fill="#8a8a8a" d="M60 120h4v4h-4zM52 136h4v4h-4z"/><path fill="#8e8e8e" d="M64 120h4v4h-4zM76 120h4v4h-4zM84 124h4v4h-4zM96 164h4v4h-4z"/><path fill="#8f8f8f" d="M68 120h8v4h-8z"/><path fill="#898989" d="M80 120h4v4h-4z"/><path fill="#7c7c7c" d="M84 120h4v4h-4zM48 152h4v4h-4zM48 156h4v4h-4zM48 160h4v4h-4zM48 164h4v4h-4z"/><path fill="#6b6b6b" d="M88 120h4v4h-4zM44 140h4v4h-4zM44 144h4v4h-4z"/><path fill="#565656" d="M92 120h4v4h-4zM40 128h4v4h-4zM104 156h4v4h-4z"/><path fill="#232323" d="M100 120h4v4h-4zM116 152h4v4h-4z"/><path fill="#3e3e3e" d="M36 124h4v4h-4zM100 128h4v4h-4zM112 164h4v4h-4z"/><path fill="#626262" d="M44 124h4v4h-4zM40 172h4v4h-4zM104 172h4v4h-4z"/><path fill="#707070" d="M48 124h4v4h-4zM100 160h4v4h-4z"/><path fill="#7d7d7d" d="M52 124h4v4h-4zM96 144h4v4h-4zM48 168h4v4h-4zM48 172h4v4h-4z"/><path fill="#888888" d="M56 124h4v4h-4zM52 132h4v4h-4zM96 156h4v4h-4z"/><path fill="#939393" d="M60 124h4v4h-4zM96 172h4v4h-4z"/><path fill="#9a9a9a" d="M64 124h4v4h-4zM56 136h4v4h-4zM56 140h4v4h-4z"/><path fill="#a0a0a0" d="M68 124h4v4h-4z"/><path fill="#a3a3a3" d="M72 124h4v4h-4zM92 156h4v4h-4z"/><path fill="#a2a2a2" d="M76 124h4v4h-4zM92 152h4v4h-4z"/><path fill="#9d9d9d" d="M80 124h4v4h-4zM88 132h4v4h-4z"/><path fill="#494949" d="M96 124h4v4h-4zM36 136h4v4h-4z"/><path fill="#828282" d="M52 128h4v4h-4zM96 148h4v4h-4z"/><path fill="#909090" d="M56 128h4v4h-4zM96 168h4v4h-4z"/><path fill="#9c9c9c" d="M60 128h4v4h-4zM56 164h4v4h-4zM56 168h4v4h-4zM56 172h4v4h-4z"/><path fill="#a8a8a8" d="M64 128h4v4h-4zM92 172h4v4h-4z"/><path fill="#b2b2b2" d="M68 128h4v4h-4zM76 164h4v4h-4z"/><path fill="#b7b7b7" d="M72 128h8v4h-8zM88 144h4v4h-4zM88 148h4v4h-4zM72 160h4v4h-4zM80 160h4v4h-4z"/><path fill="#b3b3b3" d="M80 128h4v4h-4zM64 132h4v4h-4zM88 140h4v4h-4zM64 156h4v4h-4zM68 160h4v4h-4zM84 160h4v4h-4z"/><path fill="#a5a5a5" d="M84 128h4v4h-4zM92 160h4v4h-4z"/><path fill="#8c8c8c" d="M88 128h4v4h-4zM52 156h4v4h-4zM52 160h4v4h-4zM52 164h4v4h-4z"/><path fill="#262626" d="M104 128h4v4h-4z"/><path fill="#474747" d="M36 132h4v4h-4z"/><path fill="#696969" d="M44 132h4v4h-4zM100 152h4v4h-4z"/><path fill="#979797" d="M56 132h4v4h-4zM92 140h4v4h-4z"/><path fill="#a6a6a6" d="M60 132h4v4h-4zM92 164h4v4h-4z"/><path fill="#bbbbbb" d="M68 132h4v4h-4z"/><path fill="#c1c1c1" d="M72 132h4v4h-4zM84 148h4v4h-4z"/><path fill="#c4c4c4" d="M76 132h4v4h-4zM68 144h4v4h-4z"/><path fill="#c0c0c0" d="M80 132h4v4h-4zM68 136h4v4h-4zM76 156h4v4h-4z"/><path fill="#b5b5b5" d="M84 132h4v4h-4z"/><path fill="#5a5a5a" d="M40 136h4v4h-4zM100 140h4v4h-4z"/><path fill="#6a6a6a" d="M44 136h4v4h-4z"/><path fill="#aaaaaa" d="M60 136h4v4h-4zM60 156h4v4h-4zM60 160h4v4h-4zM60 164h4v4h-4zM60 168h4v4h-4z"/><path fill="#b8b8b8" d="M64 136h4v4h-4zM84 156h4v4h-4zM76 160h4v4h-4z"/><path fill="#c8c8c8" d="M72 136h4v4h-4zM80 136h4v4h-4zM76 152h4v4h-4z"/><path fill="#cccccc" d="M76 136h4v4h-4zM72 140h4v4h-4zM80 140h4v4h-4z"/><path fill="#bebebe" d="M84 136h4v4h-4zM68 152h4v4h-4zM72 156h4v4h-4zM80 156h4v4h-4z"/><path fill="#ababab" d="M88 136h4v4h-4zM60 152h4v4h-4zM60 172h4v4h-4z"/><path fill="#8d8d8d" d="M92 136h4v4h-4zM52 168h4v4h-4zM52 172h4v4h-4z"/><path fill="#3d3d3d" d="M104 136h4v4h-4zM108 144h4v4h-4z"/><path fill="#353535" d="M32 140h4v4h-4zM112 152h4v4h-4z"/><path fill="#5b5b5b" d="M40 140h4v4h-4z"/><path fill="#8b8b8b" d="M52 140h4v4h-4zM52 144h4v4h-4zM52 148h4v4h-4zM52 152h4v4h-4zM96 160h4v4h-4z"/><path fill="#acacac" d="M60 140h4v4h-4zM60 144h4v4h-4zM60 148h4v4h-4z"/><path fill="#bababa" d="M64 140h4v4h-4zM64 144h4v4h-4z"/><path fill="#c3c3c3" d="M68 140h4v4h-4zM84 144h4v4h-4z"/><path fill="#d0d0d0" d="M76 140h4v4h-4z"/><path fill="#c2c2c2" d="M84 140h4v4h-4zM68 148h4v4h-4z"/><path fill="#464646" d="M104 140h4v4h-4zM108 152h4v4h-4z"/><path fill="#4c4c4c" d="M36 144h4v4h-4zM104 144h4v4h-4zM108 164h4v4h-4z"/><path fill="#9b9b9b" d="M56 144h4v4h-4zM56 148h4v4h-4zM56 152h4v4h-4zM56 156h4v4h-4zM56 160h4v4h-4z"/><path fill="#cdcdcd" d="M72 144h4v4h-4zM80 144h4v4h-4z"/><path fill="#d1d1d1" d="M76 144h4v4h-4z"/><path fill="#9e9e9e" d="M92 144h4v4h-4z"/><path fill="#606060" d="M100 144h4v4h-4zM40 160h4v4h-4z"/><path fill="#282828" d="M112 144h4v4h-4z"/><path fill="#4d4d4d" d="M36 148h4v4h-4z"/><path fill="#5d5d5d" d="M40 148h4v4h-4z"/><path fill="#b9b9b9" d="M64 148h4v4h-4zM68 156h4v4h-4z"/><path fill="#cbcbcb" d="M72 148h4v4h-4zM80 148h4v4h-4z"/><path fill="#cfcfcf" d="M76 148h4v4h-4z"/><path fill="#a1a1a1" d="M92 148h4v4h-4z"/><path fill="#4f4f4f" d="M36 152h4v4h-4z"/><path fill="#b6b6b6" d="M64 152h4v4h-4z"/><path fill="#c5c5c5" d="M72 152h4v4h-4zM80 152h4v4h-4z"/><path fill="#bdbdbd" d="M84 152h4v4h-4z"/><path fill="#b4b4b4" d="M88 152h4v4h-4z"/><path fill="#858585" d="M96 152h4v4h-4z"/><path fill="#3f3f3f" d="M32 156h4v4h-4z"/><path fill="#b1b1b1" d="M88 156h4v4h-4zM72 164h4v4h-4zM80 164h4v4h-4z"/><path fill="#484848" d="M108 156h4v4h-4z"/><path fill="#b0b0b0" d="M64 160h4v4h-4zM68 164h4v4h-4zM84 164h4v4h-4z"/><path fill="#afafaf" d="M88 160h4v4h-4zM64 164h4v4h-4zM88 164h4v4h-4zM64 168h28v4h-28zM64 172h28v4h-28z"/><path fill="#595959" d="M104 160h4v4h-4z"/><path fill="#424242" d="M32 164h4v4h-4z"/><path fill="#616161" d="M40 164h4v4h-4zM40 168h4v4h-4z"/><path fill="#a7a7a7" d="M92 168h4v4h-4z"/><path fill="#6e6e6e" d="M44 172h4v4h-4z"/><path fill="#787878" d="M100 172h4v4h-4z"/><path fill="#414141" d="M112 172h4v4h-4z"/></g></g><rect x="0" y="0" width="278.4" height="164.0" fill="none" stroke="#1a1a40" stroke-width="0.6"/></g>
<g transform="translate(424.2 290.0)"><clipPath id="hc01"><rect x="0" y="0" width="278.7" height="163.8"/></clipPath><g clip-path="url(#hc01)"><g filter="url(#hb)"><rect x="-12" y="-12" width="303" height="188" fill="#040404"/><path fill="#030303" d="M-12 -12h36v4h-36zM44 -12h88v4h-88zM160 -12h52v4h-52zM272 -12h16v4h-16zM-12 -8h28v4h-28zM52 -8h76v4h-76zM160 -8h36v4h-36zM-12 -4h24v4h-24zM164 -4h20v4h-20zM-12 0h24v4h-24zM168 0h8v4h-8zM-12 4h20v4h-20zM-12 8h20v4h-20zM-12 12h20v4h-20zM-12 16h16v4h-16zM-12 20h16v4h-16zM-12 24h16v4h-16zM-12 28h16v4h-16zM284 28h4v4h-4zM-12 32h16v4h-16zM276 32h12v4h-12zM-12 36h20v4h-20zM276 36h12v4h-12zM-12 40h20v4h-20zM276 40h12v4h-12zM-12 44h20v4h-20zM280 44h8v4h-8zM-12 48h20v4h-20zM280 48h8v4h-8zM-12 52h20v4h-20zM284 52h4v4h-4zM-12 56h20v4h-20zM284 56h4v4h-4zM-12 60h20v4h-20zM284 60h4v4h-4zM-12 64h20v4h-20zM280 64h8v4h-8zM-12 68h24v4h-24zM280 68h8v4h-8zM-12 72h24v4h-24zM276 72h12v4h-12zM-12 76h32v4h-32zM272 76h16v4h-16zM-12 80h52v4h-52zM236 80h8v4h-8zM264 80h24v4h-24zM-12 84h16v4h-16zM24 84h28v4h-28zM236 84h52v4h-52zM-12 88h12v4h-12zM28 88h24v4h-24zM236 88h52v4h-52zM-12 92h12v4h-12zM32 92h16v4h-16zM68 92h44v4h-44zM236 92h52v4h-52zM-12 96h12v4h-12zM32 96h12v4h-12zM72 96h40v4h-40zM192 96h4v4h-4zM236 96h52v4h-52zM-12 100h12v4h-12zM32 100h8v4h-8zM76 100h32v4h-32zM192 100h4v4h-4zM236 100h52v4h-52zM-12 104h12v4h-12zM28 104h12v4h-12zM80 104h28v4h-28zM236 104h52v4h-52zM-12 108h16v4h-16zM28 108h12v4h-12zM80 108h28v4h-28zM232 108h56v4h-56zM-12 112h24v4h-24zM20 112h16v4h-16zM84 112h28v4h-28zM232 112h56v4h-56zM-12 116h48v4h-48zM88 116h24v4h-24zM228 116h60v4h-60zM-12 120h44v4h-44zM92 120h20v4h-20zM196 120h8v4h-8zM228 120h60v4h-60zM-12 124h44v4h-44zM96 124h20v4h-20zM184 124h24v4h-24zM224 124h64v4h-64zM-12 128h44v4h-44zM96 128h24v4h-24zM180 128h108v4h-108zM-12 132h44v4h-44zM100 132h24v4h-24zM172 132h116v4h-116zM-12 136h40v4h-40zM104 136h28v4h-28zM164 136h124v4h-124zM-12 140h40v4h-40zM108 140h180v4h-180zM-12 144h40v4h-40zM112 144h176v4h-176zM-12 148h40v4h-40zM112 148h176v4h-176zM-12 152h40v4h-40zM116 152h172v4h-172zM-12 156h36v4h-36zM116 156h172v4h-172zM-12 160h36v4h-36zM116 160h172v4h-172zM-12 164h36v4h-36zM120 164h168v4h-168zM-12 168h36v4h-36zM120 168h168v4h-168zM-12 172h36v4h-36zM124 172h164v4h-164z"/><path fill="#050505" d="M136 -8h16v4h-16zM220 -8h44v4h-44zM20 -4h8v4h-8zM40 -4h8v4h-8zM132 -4h4v4h-4zM152 -4h4v4h-4zM204 -4h8v4h-8zM272 -4h8v4h-8zM16 0h4v4h-4zM48 0h4v4h-4zM128 0h4v4h-4zM156 0h4v4h-4zM192 0h8v4h-8zM280 0h8v4h-8zM52 4h60v4h-60zM128 4h4v4h-4zM188 4h8v4h-8zM12 8h4v4h-4zM112 8h16v4h-16zM160 8h4v4h-4zM184 8h8v4h-8zM12 12h4v4h-4zM160 12h4v4h-4zM180 12h12v4h-12zM164 16h24v4h-24zM284 16h4v4h-4zM168 20h8v4h-8zM280 20h8v4h-8zM12 24h4v4h-4zM268 24h8v4h-8zM12 28h4v4h-4zM244 28h16v4h-16zM236 32h16v4h-16zM16 36h4v4h-4zM236 36h20v4h-20zM20 40h4v4h-4zM260 40h8v4h-8zM20 44h8v4h-8zM268 44h4v4h-4zM24 48h4v4h-4zM272 48h4v4h-4zM20 52h12v4h-12zM272 52h4v4h-4zM12 60h4v4h-4zM32 60h4v4h-4zM224 60h8v4h-8zM12 64h4v4h-4zM32 64h12v4h-12zM220 64h16v4h-16zM272 64h4v4h-4zM12 68h4v4h-4zM28 68h4v4h-4zM40 68h8v4h-8zM132 68h12v4h-12zM220 68h8v4h-8zM232 68h8v4h-8zM20 72h8v4h-8zM48 72h8v4h-8zM120 72h32v4h-32zM220 72h8v4h-8zM240 72h4v4h-4zM264 72h4v4h-4zM56 76h16v4h-16zM104 76h20v4h-20zM140 76h16v4h-16zM224 76h4v4h-4zM248 76h12v4h-12zM72 80h28v4h-28zM136 80h20v4h-20zM188 80h16v4h-16zM224 80h4v4h-4zM128 84h12v4h-12zM184 84h4v4h-4zM200 84h4v4h-4zM4 88h4v4h-4zM20 88h4v4h-4zM124 88h8v4h-8zM184 88h4v4h-4zM200 88h4v4h-4zM228 88h4v4h-4zM24 92h4v4h-4zM48 92h4v4h-4zM120 92h8v4h-8zM184 92h4v4h-4zM200 92h4v4h-4zM228 92h4v4h-4zM24 96h4v4h-4zM120 96h4v4h-4zM184 96h4v4h-4zM200 96h4v4h-4zM228 96h4v4h-4zM24 100h4v4h-4zM120 100h4v4h-4zM184 100h4v4h-4zM200 100h4v4h-4zM228 100h4v4h-4zM4 104h4v4h-4zM40 104h4v4h-4zM116 104h4v4h-4zM184 104h8v4h-8zM200 104h4v4h-4zM8 108h12v4h-12zM116 108h4v4h-4zM224 108h4v4h-4zM80 112h4v4h-4zM120 112h4v4h-4zM204 112h4v4h-4zM224 112h4v4h-4zM120 116h4v4h-4zM180 116h4v4h-4zM192 116h4v4h-4zM208 116h16v4h-16zM124 120h4v4h-4zM176 120h4v4h-4zM128 124h4v4h-4zM168 124h4v4h-4zM132 128h8v4h-8zM156 128h8v4h-8zM96 132h4v4h-4zM100 136h4v4h-4zM28 144h4v4h-4zM112 156h4v4h-4zM24 164h4v4h-4z"/><path fill="#060606" d="M28 -4h12v4h-12zM136 -4h4v4h-4zM148 -4h4v4h-4zM212 -4h8v4h-8zM264 -4h8v4h-8zM20 0h4v4h-4zM44 0h4v4h-4zM132 0h4v4h-4zM152 0h4v4h-4zM200 0h8v4h-8zM276 0h4v4h-4zM16 4h4v4h-4zM48 4h4v4h-4zM156 4h4v4h-4zM196 4h4v4h-4zM284 4h4v4h-4zM52 8h24v4h-24zM100 8h12v4h-12zM128 8h4v4h-4zM192 8h4v4h-4zM284 8h4v4h-4zM116 12h12v4h-12zM192 12h4v4h-4zM284 12h4v4h-4zM12 16h4v4h-4zM160 16h4v4h-4zM188 16h8v4h-8zM280 16h4v4h-4zM12 20h4v4h-4zM164 20h4v4h-4zM176 20h24v4h-24zM272 20h8v4h-8zM256 24h12v4h-12zM16 28h4v4h-4zM236 28h8v4h-8zM16 32h4v4h-4zM232 32h4v4h-4zM20 36h4v4h-4zM228 36h8v4h-8zM24 40h4v4h-4zM228 40h32v4h-32zM28 44h4v4h-4zM228 44h12v4h-12zM264 44h4v4h-4zM28 48h8v4h-8zM228 48h8v4h-8zM268 48h4v4h-4zM32 52h4v4h-4zM224 52h8v4h-8zM16 56h4v4h-4zM28 56h12v4h-12zM220 56h12v4h-12zM272 56h4v4h-4zM28 60h4v4h-4zM36 60h8v4h-8zM216 60h8v4h-8zM232 60h4v4h-4zM272 60h4v4h-4zM44 64h4v4h-4zM132 64h12v4h-12zM212 64h8v4h-8zM48 68h8v4h-8zM120 68h12v4h-12zM144 68h4v4h-4zM208 68h12v4h-12zM268 68h4v4h-4zM56 72h12v4h-12zM108 72h12v4h-12zM152 72h4v4h-4zM204 72h16v4h-16zM244 72h4v4h-4zM260 72h4v4h-4zM72 76h32v4h-32zM156 76h4v4h-4zM192 76h16v4h-16zM220 76h4v4h-4zM156 80h8v4h-8zM180 80h8v4h-8zM204 80h4v4h-4zM140 84h16v4h-16zM180 84h4v4h-4zM224 84h4v4h-4zM8 88h4v4h-4zM132 88h4v4h-4zM180 88h4v4h-4zM4 92h4v4h-4zM128 92h4v4h-4zM124 96h4v4h-4zM20 104h4v4h-4zM120 104h4v4h-4zM224 104h4v4h-4zM76 108h4v4h-4zM120 108h4v4h-4zM192 108h4v4h-4zM204 108h4v4h-4zM180 112h4v4h-4zM208 112h4v4h-4zM220 112h4v4h-4zM36 116h4v4h-4zM124 116h4v4h-4zM176 116h4v4h-4zM184 116h4v4h-4zM128 120h4v4h-4zM168 120h8v4h-8zM132 124h4v4h-4zM160 124h8v4h-8zM32 128h4v4h-4zM92 128h4v4h-4zM140 128h16v4h-16zM28 148h4v4h-4zM108 148h4v4h-4zM24 168h4v4h-4zM116 168h4v4h-4z"/><path fill="#070707" d="M140 -4h8v4h-8zM220 -4h8v4h-8zM256 -4h8v4h-8zM24 0h4v4h-4zM40 0h4v4h-4zM136 0h4v4h-4zM208 0h4v4h-4zM272 0h4v4h-4zM132 4h4v4h-4zM200 4h4v4h-4zM280 4h4v4h-4zM16 8h4v4h-4zM48 8h4v4h-4zM76 8h24v4h-24zM156 8h4v4h-4zM196 8h4v4h-4zM280 8h4v4h-4zM52 12h16v4h-16zM108 12h8v4h-8zM128 12h4v4h-4zM196 12h4v4h-4zM280 12h4v4h-4zM120 16h8v4h-8zM196 16h8v4h-8zM276 16h4v4h-4zM160 20h4v4h-4zM200 20h4v4h-4zM268 20h4v4h-4zM16 24h4v4h-4zM164 24h44v4h-44zM244 24h12v4h-12zM200 28h8v4h-8zM20 32h4v4h-4zM24 36h4v4h-4zM224 36h4v4h-4zM28 40h4v4h-4zM220 40h8v4h-8zM32 44h4v4h-4zM220 44h8v4h-8zM240 44h4v4h-4zM260 44h4v4h-4zM220 48h8v4h-8zM236 48h4v4h-4zM36 52h4v4h-4zM216 52h8v4h-8zM232 52h4v4h-4zM20 56h8v4h-8zM40 56h4v4h-4zM216 56h4v4h-4zM232 56h4v4h-4zM44 60h4v4h-4zM132 60h12v4h-12zM212 60h4v4h-4zM28 64h4v4h-4zM48 64h4v4h-4zM124 64h8v4h-8zM144 64h4v4h-4zM208 64h4v4h-4zM236 64h4v4h-4zM268 64h4v4h-4zM16 68h4v4h-4zM56 68h4v4h-4zM116 68h4v4h-4zM148 68h4v4h-4zM204 68h4v4h-4zM240 68h4v4h-4zM264 68h4v4h-4zM68 72h12v4h-12zM96 72h12v4h-12zM156 72h4v4h-4zM200 72h4v4h-4zM248 72h12v4h-12zM160 76h4v4h-4zM188 76h4v4h-4zM208 76h12v4h-12zM164 80h4v4h-4zM176 80h4v4h-4zM220 80h4v4h-4zM156 84h8v4h-8zM176 84h4v4h-4zM204 84h4v4h-4zM12 88h8v4h-8zM136 88h4v4h-4zM204 88h4v4h-4zM224 88h4v4h-4zM60 92h4v4h-4zM180 92h4v4h-4zM224 92h4v4h-4zM4 96h4v4h-4zM4 100h4v4h-4zM124 100h4v4h-4zM224 100h4v4h-4zM8 104h4v4h-4zM72 104h4v4h-4zM124 104h4v4h-4zM180 104h4v4h-4zM204 104h4v4h-4zM40 108h4v4h-4zM124 108h4v4h-4zM180 108h4v4h-4zM124 112h4v4h-4zM176 112h4v4h-4zM212 112h8v4h-8zM172 116h4v4h-4zM188 116h4v4h-4zM164 120h4v4h-4zM88 124h4v4h-4zM136 124h8v4h-8zM156 124h4v4h-4zM32 132h4v4h-4zM28 152h4v4h-4zM112 160h4v4h-4zM24 172h4v4h-4z"/><path fill="#080808" d="M228 -4h28v4h-28zM28 0h4v4h-4zM36 0h4v4h-4zM140 0h4v4h-4zM148 0h4v4h-4zM212 0h4v4h-4zM268 0h4v4h-4zM20 4h4v4h-4zM44 4h4v4h-4zM152 4h4v4h-4zM204 4h4v4h-4zM276 4h4v4h-4zM132 8h4v4h-4zM200 8h4v4h-4zM16 12h4v4h-4zM68 12h8v4h-8zM100 12h8v4h-8zM156 12h4v4h-4zM200 12h4v4h-4zM276 12h4v4h-4zM16 16h4v4h-4zM56 16h4v4h-4zM116 16h4v4h-4zM272 16h4v4h-4zM16 20h4v4h-4zM204 20h4v4h-4zM264 20h4v4h-4zM160 24h4v4h-4zM240 24h4v4h-4zM192 28h8v4h-8zM208 28h4v4h-4zM232 28h4v4h-4zM204 32h12v4h-12zM228 32h4v4h-4zM208 36h16v4h-16zM32 40h4v4h-4zM212 40h8v4h-8zM36 44h4v4h-4zM216 44h4v4h-4zM244 44h4v4h-4zM256 44h4v4h-4zM36 48h4v4h-4zM216 48h4v4h-4zM264 48h4v4h-4zM40 52h4v4h-4zM212 52h4v4h-4zM236 52h4v4h-4zM268 52h4v4h-4zM44 56h4v4h-4zM212 56h4v4h-4zM236 56h4v4h-4zM268 56h4v4h-4zM16 60h4v4h-4zM48 60h4v4h-4zM128 60h4v4h-4zM144 60h4v4h-4zM208 60h4v4h-4zM236 60h4v4h-4zM268 60h4v4h-4zM52 64h4v4h-4zM120 64h4v4h-4zM148 64h4v4h-4zM204 64h4v4h-4zM24 68h4v4h-4zM60 68h8v4h-8zM108 68h8v4h-8zM152 68h4v4h-4zM200 68h4v4h-4zM80 72h16v4h-16zM196 72h4v4h-4zM164 76h4v4h-4zM184 76h4v4h-4zM168 80h8v4h-8zM208 80h4v4h-4zM164 84h4v4h-4zM172 84h4v4h-4zM140 88h16v4h-16zM176 88h4v4h-4zM20 92h4v4h-4zM52 92h8v4h-8zM132 92h4v4h-4zM204 92h4v4h-4zM128 96h4v4h-4zM180 96h4v4h-4zM204 96h4v4h-4zM224 96h4v4h-4zM20 100h4v4h-4zM44 100h4v4h-4zM68 100h4v4h-4zM180 100h4v4h-4zM204 100h4v4h-4zM16 104h4v4h-4zM184 108h4v4h-4zM208 108h4v4h-4zM220 108h4v4h-4zM192 112h4v4h-4zM128 116h4v4h-4zM36 120h4v4h-4zM84 120h4v4h-4zM132 120h4v4h-4zM160 120h4v4h-4zM144 124h12v4h-12zM104 144h4v4h-4zM116 172h4v4h-4z"/><path fill="#090909" d="M32 0h4v4h-4zM144 0h4v4h-4zM216 0h4v4h-4zM264 0h4v4h-4zM136 4h4v4h-4zM272 4h4v4h-4zM152 8h4v4h-4zM204 8h4v4h-4zM276 8h4v4h-4zM48 12h4v4h-4zM76 12h24v4h-24zM204 12h4v4h-4zM52 16h4v4h-4zM60 16h4v4h-4zM108 16h8v4h-8zM128 16h4v4h-4zM156 16h4v4h-4zM204 16h4v4h-4zM120 20h8v4h-8zM156 20h4v4h-4zM260 20h4v4h-4zM208 24h4v4h-4zM236 24h4v4h-4zM20 28h4v4h-4zM160 28h32v4h-32zM212 28h4v4h-4zM24 32h4v4h-4zM196 32h8v4h-8zM216 32h12v4h-12zM28 36h4v4h-4zM204 36h4v4h-4zM36 40h4v4h-4zM208 40h4v4h-4zM212 44h4v4h-4zM248 44h8v4h-8zM40 48h4v4h-4zM212 48h4v4h-4zM240 48h4v4h-4zM128 56h20v4h-20zM208 56h4v4h-4zM24 60h4v4h-4zM52 60h4v4h-4zM124 60h4v4h-4zM148 60h4v4h-4zM16 64h4v4h-4zM56 64h4v4h-4zM116 64h4v4h-4zM240 64h4v4h-4zM20 68h4v4h-4zM68 68h8v4h-8zM100 68h8v4h-8zM156 68h4v4h-4zM244 68h4v4h-4zM260 68h4v4h-4zM160 72h4v4h-4zM192 72h4v4h-4zM168 76h16v4h-16zM212 80h8v4h-8zM168 84h4v4h-4zM208 84h4v4h-4zM220 84h4v4h-4zM156 88h8v4h-8zM136 92h4v4h-4zM20 96h4v4h-4zM64 96h4v4h-4zM132 96h4v4h-4zM128 100h4v4h-4zM12 104h4v4h-4zM128 104h4v4h-4zM220 104h4v4h-4zM128 108h4v4h-4zM188 108h4v4h-4zM212 108h8v4h-8zM128 112h4v4h-4zM184 112h4v4h-4zM80 116h4v4h-4zM132 116h4v4h-4zM168 116h4v4h-4zM136 120h4v4h-4zM156 120h4v4h-4zM32 136h4v4h-4zM100 140h4v4h-4zM108 152h4v4h-4zM28 156h4v4h-4z"/><path fill="#0a0a0a" d="M220 0h4v4h-4zM260 0h4v4h-4zM24 4h4v4h-4zM40 4h4v4h-4zM148 4h4v4h-4zM208 4h4v4h-4zM20 8h4v4h-4zM44 8h4v4h-4zM272 8h4v4h-4zM132 12h4v4h-4zM272 12h4v4h-4zM48 16h4v4h-4zM64 16h8v4h-8zM104 16h4v4h-4zM268 16h4v4h-4zM52 20h8v4h-8zM116 20h4v4h-4zM128 20h4v4h-4zM208 20h4v4h-4zM252 20h8v4h-8zM124 24h4v4h-4zM156 24h4v4h-4zM228 28h4v4h-4zM192 32h4v4h-4zM32 36h4v4h-4zM200 36h4v4h-4zM40 40h4v4h-4zM204 40h4v4h-4zM40 44h4v4h-4zM208 44h4v4h-4zM208 48h4v4h-4zM44 52h4v4h-4zM132 52h12v4h-12zM208 52h4v4h-4zM240 52h4v4h-4zM48 56h4v4h-4zM124 56h4v4h-4zM120 60h4v4h-4zM204 60h4v4h-4zM24 64h4v4h-4zM60 64h4v4h-4zM112 64h4v4h-4zM152 64h4v4h-4zM200 64h4v4h-4zM264 64h4v4h-4zM76 68h24v4h-24zM196 68h4v4h-4zM164 72h4v4h-4zM188 72h4v4h-4zM220 88h4v4h-4zM8 92h4v4h-4zM140 92h4v4h-4zM176 92h4v4h-4zM48 96h4v4h-4zM8 100h4v4h-4zM208 104h4v4h-4zM176 108h4v4h-4zM172 112h4v4h-4zM164 116h4v4h-4zM140 120h4v4h-4zM152 120h4v4h-4zM96 136h4v4h-4z"/><path fill="#0b0b0b" d="M224 0h4v4h-4zM256 0h4v4h-4zM140 4h8v4h-8zM212 4h4v4h-4zM268 4h4v4h-4zM136 8h4v4h-4zM208 8h4v4h-4zM20 12h4v4h-4zM152 12h4v4h-4zM72 16h4v4h-4zM100 16h4v4h-4zM132 16h4v4h-4zM208 16h4v4h-4zM264 16h4v4h-4zM48 20h4v4h-4zM60 20h4v4h-4zM112 20h4v4h-4zM244 20h8v4h-8zM20 24h4v4h-4zM120 24h4v4h-4zM128 24h4v4h-4zM212 24h4v4h-4zM232 24h4v4h-4zM156 28h4v4h-4zM216 28h4v4h-4zM28 32h4v4h-4zM160 32h8v4h-8zM188 32h4v4h-4zM36 36h8v4h-8zM44 44h4v4h-4zM204 44h4v4h-4zM44 48h4v4h-4zM132 48h8v4h-8zM244 48h4v4h-4zM260 48h4v4h-4zM48 52h4v4h-4zM128 52h4v4h-4zM144 52h4v4h-4zM264 52h4v4h-4zM52 56h4v4h-4zM148 56h4v4h-4zM204 56h4v4h-4zM20 60h4v4h-4zM56 60h4v4h-4zM116 60h4v4h-4zM152 60h4v4h-4zM240 60h4v4h-4zM64 64h4v4h-4zM108 64h4v4h-4zM160 68h4v4h-4zM248 68h4v4h-4zM256 68h4v4h-4zM168 72h4v4h-4zM212 84h8v4h-8zM164 88h4v4h-4zM172 88h4v4h-4zM208 88h4v4h-4zM16 92h4v4h-4zM144 92h16v4h-16zM220 92h4v4h-4zM136 96h4v4h-4zM220 96h4v4h-4zM132 100h4v4h-4zM208 100h4v4h-4zM220 100h4v4h-4zM176 104h4v4h-4zM40 112h4v4h-4zM76 112h4v4h-4zM132 112h4v4h-4zM136 116h4v4h-4zM160 116h4v4h-4zM144 120h8v4h-8zM32 140h4v4h-4zM28 160h4v4h-4zM112 164h4v4h-4z"/><path fill="#0c0c0c" d="M228 0h4v4h-4zM248 0h8v4h-8zM28 4h12v4h-12zM264 4h4v4h-4zM148 8h4v4h-4zM268 8h4v4h-4zM44 12h4v4h-4zM208 12h4v4h-4zM268 12h4v4h-4zM20 16h4v4h-4zM76 16h24v4h-24zM152 16h4v4h-4zM260 16h4v4h-4zM20 20h4v4h-4zM64 20h4v4h-4zM108 20h4v4h-4zM132 20h4v4h-4zM240 20h4v4h-4zM48 24h8v4h-8zM116 24h4v4h-4zM24 28h4v4h-4zM124 28h8v4h-8zM224 28h4v4h-4zM32 32h4v4h-4zM156 32h4v4h-4zM168 32h20v4h-20zM44 36h4v4h-4zM196 36h4v4h-4zM44 40h4v4h-4zM200 40h4v4h-4zM132 44h8v4h-8zM48 48h4v4h-4zM128 48h4v4h-4zM140 48h8v4h-8zM204 48h4v4h-4zM248 48h4v4h-4zM124 52h4v4h-4zM148 52h4v4h-4zM204 52h4v4h-4zM120 56h4v4h-4zM240 56h4v4h-4zM264 56h4v4h-4zM60 60h4v4h-4zM112 60h4v4h-4zM200 60h4v4h-4zM264 60h4v4h-4zM20 64h4v4h-4zM68 64h8v4h-8zM100 64h8v4h-8zM156 64h4v4h-4zM244 64h4v4h-4zM192 68h4v4h-4zM252 68h4v4h-4zM172 72h4v4h-4zM184 72h4v4h-4zM168 88h4v4h-4zM12 92h4v4h-4zM160 92h4v4h-4zM208 92h4v4h-4zM8 96h4v4h-4zM176 96h4v4h-4zM208 96h4v4h-4zM16 100h4v4h-4zM176 100h4v4h-4zM132 104h4v4h-4zM212 104h8v4h-8zM132 108h4v4h-4zM168 112h4v4h-4zM188 112h4v4h-4zM156 116h4v4h-4zM36 124h4v4h-4zM92 132h4v4h-4z"/><path fill="#0d0d0d" d="M232 0h16v4h-16zM216 4h4v4h-4zM260 4h4v4h-4zM24 8h4v4h-4zM40 8h4v4h-4zM140 8h4v4h-4zM212 8h4v4h-4zM136 12h4v4h-4zM264 12h4v4h-4zM44 16h4v4h-4zM256 16h4v4h-4zM68 20h4v4h-4zM104 20h4v4h-4zM152 20h4v4h-4zM212 20h4v4h-4zM236 20h4v4h-4zM56 24h4v4h-4zM132 24h4v4h-4zM44 28h12v4h-12zM120 28h4v4h-4zM220 28h4v4h-4zM36 32h16v4h-16zM124 32h8v4h-8zM128 36h4v4h-4zM156 36h8v4h-8zM192 36h4v4h-4zM128 40h8v4h-8zM48 44h4v4h-4zM128 44h4v4h-4zM140 44h8v4h-8zM200 44h4v4h-4zM124 48h4v4h-4zM148 48h4v4h-4zM252 48h8v4h-8zM52 52h4v4h-4zM56 56h4v4h-4zM116 56h4v4h-4zM152 56h4v4h-4zM64 60h4v4h-4zM108 60h4v4h-4zM76 64h4v4h-4zM96 64h4v4h-4zM196 64h4v4h-4zM260 64h4v4h-4zM176 72h8v4h-8zM212 88h8v4h-8zM16 96h4v4h-4zM140 96h4v4h-4zM12 100h4v4h-4zM136 100h4v4h-4zM44 104h4v4h-4zM72 108h4v4h-4zM172 108h4v4h-4zM136 112h4v4h-4zM164 112h4v4h-4zM140 116h8v4h-8zM152 116h4v4h-4zM88 128h4v4h-4zM32 144h4v4h-4zM108 156h4v4h-4z"/><path fill="#0e0e0e" d="M220 4h4v4h-4zM144 8h4v4h-4zM264 8h4v4h-4zM148 12h4v4h-4zM212 16h4v4h-4zM252 16h4v4h-4zM44 20h4v4h-4zM72 20h4v4h-4zM100 20h4v4h-4zM24 24h4v4h-4zM44 24h4v4h-4zM60 24h4v4h-4zM112 24h4v4h-4zM152 24h4v4h-4zM228 24h4v4h-4zM28 28h4v4h-4zM40 28h4v4h-4zM116 28h4v4h-4zM132 28h4v4h-4zM152 28h4v4h-4zM120 32h4v4h-4zM132 32h4v4h-4zM152 32h4v4h-4zM48 36h4v4h-4zM124 36h4v4h-4zM132 36h4v4h-4zM152 36h4v4h-4zM164 36h4v4h-4zM188 36h4v4h-4zM48 40h4v4h-4zM124 40h4v4h-4zM136 40h8v4h-8zM148 40h12v4h-12zM196 40h4v4h-4zM124 44h4v4h-4zM148 44h8v4h-8zM152 48h4v4h-4zM200 48h4v4h-4zM120 52h4v4h-4zM152 52h4v4h-4zM244 52h4v4h-4zM260 52h4v4h-4zM200 56h4v4h-4zM156 60h4v4h-4zM80 64h16v4h-16zM164 68h4v4h-4zM164 92h4v4h-4zM172 92h4v4h-4zM216 92h4v4h-4zM144 96h16v4h-16zM212 100h8v4h-8zM136 104h4v4h-4zM136 108h4v4h-4zM160 112h4v4h-4zM148 116h4v4h-4zM104 148h4v4h-4zM28 164h4v4h-4z"/><path fill="#101010" d="M224 4h4v4h-4zM252 4h4v4h-4zM32 8h4v4h-4zM216 8h4v4h-4zM140 12h8v4h-8zM256 12h4v4h-4zM148 16h4v4h-4zM240 16h8v4h-8zM24 20h4v4h-4zM80 20h16v4h-16zM136 20h4v4h-4zM40 24h4v4h-4zM104 24h4v4h-4zM136 24h4v4h-4zM60 28h4v4h-4zM112 28h4v4h-4zM136 28h4v4h-4zM56 32h4v4h-4zM116 32h4v4h-4zM136 32h4v4h-4zM148 32h4v4h-4zM120 36h4v4h-4zM140 36h8v4h-8zM172 36h4v4h-4zM180 36h8v4h-8zM52 40h4v4h-4zM120 40h4v4h-4zM160 40h4v4h-4zM192 40h4v4h-4zM52 44h4v4h-4zM120 44h4v4h-4zM156 44h4v4h-4zM196 44h4v4h-4zM248 52h4v4h-4zM64 56h4v4h-4zM108 56h4v4h-4zM156 56h4v4h-4zM72 60h4v4h-4zM100 60h4v4h-4zM196 60h4v4h-4zM260 60h4v4h-4zM192 64h4v4h-4zM252 64h8v4h-8zM168 68h4v4h-4zM172 96h4v4h-4zM64 100h4v4h-4zM144 100h16v4h-16zM172 100h4v4h-4zM140 104h4v4h-4zM140 108h4v4h-4zM156 108h12v4h-12zM144 112h12v4h-12zM100 144h4v4h-4zM32 148h4v4h-4zM28 168h4v4h-4z"/><path fill="#111111" d="M228 4h8v4h-8zM244 4h8v4h-8zM256 8h4v4h-4zM24 16h4v4h-4zM40 16h4v4h-4zM236 16h4v4h-4zM40 20h4v4h-4zM148 20h4v4h-4zM216 20h4v4h-4zM28 24h4v4h-4zM68 24h4v4h-4zM148 24h4v4h-4zM220 24h8v4h-8zM148 28h4v4h-4zM140 32h4v4h-4zM176 36h4v4h-4zM164 40h4v4h-4zM56 48h4v4h-4zM116 48h4v4h-4zM156 48h4v4h-4zM60 52h4v4h-4zM112 52h4v4h-4zM156 52h4v4h-4zM256 52h4v4h-4zM196 56h4v4h-4zM260 56h4v4h-4zM76 60h8v4h-8zM92 60h8v4h-8zM172 68h4v4h-4zM184 68h4v4h-4zM52 96h4v4h-4zM164 96h4v4h-4zM48 100h4v4h-4zM160 100h4v4h-4zM144 104h4v4h-4zM152 104h20v4h-20zM144 108h4v4h-4zM152 108h4v4h-4zM80 120h4v4h-4zM108 160h4v4h-4z"/><path fill="#121212" d="M236 4h8v4h-8zM220 8h4v4h-4zM252 8h4v4h-4zM28 12h4v4h-4zM36 12h4v4h-4zM216 12h4v4h-4zM252 12h4v4h-4zM140 16h8v4h-8zM216 16h4v4h-4zM232 16h4v4h-4zM228 20h4v4h-4zM36 24h4v4h-4zM72 24h4v4h-4zM100 24h4v4h-4zM64 28h4v4h-4zM108 28h4v4h-4zM140 28h4v4h-4zM60 32h4v4h-4zM112 32h4v4h-4zM144 32h4v4h-4zM56 36h4v4h-4zM116 36h4v4h-4zM56 40h4v4h-4zM116 40h4v4h-4zM188 40h4v4h-4zM56 44h4v4h-4zM116 44h4v4h-4zM160 44h4v4h-4zM196 48h4v4h-4zM196 52h4v4h-4zM252 52h4v4h-4zM68 56h4v4h-4zM104 56h4v4h-4zM84 60h8v4h-8zM160 60h4v4h-4zM248 60h4v4h-4zM164 64h4v4h-4zM176 68h8v4h-8zM56 96h4v4h-4zM168 96h4v4h-4zM164 100h8v4h-8zM148 104h4v4h-4zM44 108h4v4h-4zM148 108h4v4h-4zM36 132h4v4h-4zM96 140h4v4h-4zM32 152h4v4h-4zM104 152h4v4h-4zM28 172h4v4h-4zM112 172h4v4h-4z"/><path fill="#0f0f0f" d="M256 4h4v4h-4zM28 8h4v4h-4zM36 8h4v4h-4zM260 8h4v4h-4zM24 12h4v4h-4zM40 12h4v4h-4zM212 12h4v4h-4zM260 12h4v4h-4zM136 16h4v4h-4zM248 16h4v4h-4zM76 20h4v4h-4zM96 20h4v4h-4zM232 20h4v4h-4zM64 24h4v4h-4zM108 24h4v4h-4zM216 24h4v4h-4zM32 28h8v4h-8zM56 28h4v4h-4zM52 32h4v4h-4zM52 36h4v4h-4zM136 36h4v4h-4zM148 36h4v4h-4zM168 36h4v4h-4zM144 40h4v4h-4zM52 48h4v4h-4zM120 48h4v4h-4zM56 52h4v4h-4zM116 52h4v4h-4zM200 52h4v4h-4zM60 56h4v4h-4zM112 56h4v4h-4zM244 56h4v4h-4zM68 60h4v4h-4zM104 60h4v4h-4zM244 60h4v4h-4zM160 64h4v4h-4zM248 64h4v4h-4zM188 68h4v4h-4zM168 92h4v4h-4zM212 92h4v4h-4zM12 96h4v4h-4zM60 96h4v4h-4zM160 96h4v4h-4zM212 96h8v4h-8zM140 100h4v4h-4zM68 104h4v4h-4zM172 104h4v4h-4zM168 108h4v4h-4zM140 112h4v4h-4zM156 112h4v4h-4zM40 116h4v4h-4zM84 124h4v4h-4zM36 128h4v4h-4zM112 168h4v4h-4z"/><path fill="#131313" d="M224 8h4v4h-4zM248 8h4v4h-4zM32 12h4v4h-4zM244 12h8v4h-8zM28 20h4v4h-4zM36 20h4v4h-4zM140 20h8v4h-8zM32 24h4v4h-4zM76 24h4v4h-4zM92 24h8v4h-8zM140 24h8v4h-8zM104 28h4v4h-4zM144 28h4v4h-4zM168 40h4v4h-4zM192 44h4v4h-4zM60 48h4v4h-4zM112 48h4v4h-4zM64 52h4v4h-4zM108 52h4v4h-4zM72 56h4v4h-4zM100 56h4v4h-4zM248 56h4v4h-4zM256 56h4v4h-4zM256 60h4v4h-4zM76 116h4v4h-4zM40 120h4v4h-4zM92 136h4v4h-4z"/><path fill="#141414" d="M228 8h20v4h-20zM220 12h4v4h-4zM232 12h12v4h-12zM28 16h4v4h-4zM36 16h4v4h-4zM228 16h4v4h-4zM32 20h4v4h-4zM220 20h8v4h-8zM80 24h12v4h-12zM68 28h4v4h-4zM64 32h4v4h-4zM108 32h4v4h-4zM60 36h4v4h-4zM112 36h4v4h-4zM60 40h4v4h-4zM112 40h4v4h-4zM172 40h4v4h-4zM184 40h4v4h-4zM60 44h4v4h-4zM112 44h4v4h-4zM164 44h4v4h-4zM160 48h4v4h-4zM160 52h4v4h-4zM76 56h4v4h-4zM96 56h4v4h-4zM160 56h4v4h-4zM252 56h4v4h-4zM192 60h4v4h-4zM252 60h4v4h-4zM168 64h4v4h-4zM188 64h4v4h-4zM88 132h4v4h-4zM32 156h4v4h-4zM108 164h4v4h-4z"/><path fill="#151515" d="M224 12h8v4h-8zM32 16h4v4h-4zM220 16h8v4h-8zM72 28h4v4h-4zM100 28h4v4h-4zM176 40h8v4h-8zM188 44h4v4h-4zM64 48h4v4h-4zM108 48h4v4h-4zM192 48h4v4h-4zM68 52h4v4h-4zM104 52h4v4h-4zM80 56h16v4h-16zM192 56h4v4h-4zM164 60h4v4h-4zM72 112h4v4h-4zM36 136h4v4h-4zM100 148h4v4h-4zM104 156h4v4h-4zM108 168h4v4h-4z"/><path fill="#161616" d="M76 28h4v4h-4zM96 28h4v4h-4zM68 32h4v4h-4zM104 32h4v4h-4zM64 36h4v4h-4zM108 36h4v4h-4zM108 40h4v4h-4zM64 44h4v4h-4zM108 44h4v4h-4zM72 52h4v4h-4zM100 52h4v4h-4zM192 52h4v4h-4zM172 64h4v4h-4zM60 100h4v4h-4zM48 104h4v4h-4zM68 108h4v4h-4zM84 128h4v4h-4zM32 160h4v4h-4zM104 160h4v4h-4zM108 172h4v4h-4z"/><path fill="#171717" d="M80 28h16v4h-16zM100 32h4v4h-4zM64 40h4v4h-4zM168 44h4v4h-4zM184 44h4v4h-4zM68 48h4v4h-4zM104 48h4v4h-4zM164 48h4v4h-4zM76 52h4v4h-4zM96 52h4v4h-4zM164 52h4v4h-4zM164 56h4v4h-4zM52 100h4v4h-4zM64 104h4v4h-4zM44 112h4v4h-4zM40 124h4v4h-4zM36 140h4v4h-4zM96 144h4v4h-4zM100 152h4v4h-4zM104 164h4v4h-4z"/><path fill="#181818" d="M72 32h4v4h-4zM68 36h4v4h-4zM104 36h4v4h-4zM68 40h4v4h-4zM104 40h4v4h-4zM68 44h4v4h-4zM104 44h4v4h-4zM172 44h4v4h-4zM72 48h4v4h-4zM100 48h4v4h-4zM188 48h4v4h-4zM80 52h16v4h-16zM168 60h4v4h-4zM188 60h4v4h-4zM176 64h4v4h-4zM184 64h4v4h-4zM80 124h4v4h-4zM100 156h4v4h-4z"/><path fill="#191919" d="M76 32h8v4h-8zM92 32h8v4h-8zM72 36h4v4h-4zM100 36h4v4h-4zM100 44h4v4h-4zM176 44h8v4h-8zM76 48h4v4h-4zM96 48h4v4h-4zM168 48h4v4h-4zM188 52h4v4h-4zM180 64h4v4h-4zM56 100h4v4h-4zM32 164h4v4h-4zM104 168h4v4h-4z"/><path fill="#1a1a1a" d="M84 32h8v4h-8zM76 36h4v4h-4zM96 36h4v4h-4zM72 40h4v4h-4zM100 40h4v4h-4zM72 44h4v4h-4zM80 48h4v4h-4zM88 48h8v4h-8zM184 48h4v4h-4zM168 52h4v4h-4zM168 56h4v4h-4zM188 56h4v4h-4zM172 60h4v4h-4zM76 120h4v4h-4zM92 140h4v4h-4zM36 144h4v4h-4zM96 148h4v4h-4z"/><path fill="#1b1b1b" d="M80 36h16v4h-16zM76 40h4v4h-4zM96 40h4v4h-4zM76 44h8v4h-8zM92 44h8v4h-8zM84 48h4v4h-4zM172 48h12v4h-12zM172 56h4v4h-4zM100 160h4v4h-4zM32 168h4v4h-4zM104 172h4v4h-4z"/><path fill="#1c1c1c" d="M80 40h16v4h-16zM84 44h8v4h-8zM172 52h4v4h-4zM184 52h4v4h-4zM176 60h4v4h-4zM184 60h4v4h-4zM44 116h4v4h-4zM40 128h4v4h-4zM88 136h4v4h-4zM36 148h4v4h-4z"/><path fill="#1d1d1d" d="M176 52h8v4h-8zM176 56h4v4h-4zM184 56h4v4h-4zM180 60h4v4h-4zM72 116h4v4h-4zM32 172h4v4h-4z"/><path fill="#1e1e1e" d="M180 56h4v4h-4zM52 104h4v4h-4zM60 104h4v4h-4zM48 108h4v4h-4zM84 132h4v4h-4zM96 152h4v4h-4z"/><path fill="#232323" d="M56 104h4v4h-4zM96 156h4v4h-4zM100 168h4v4h-4z"/><path fill="#292929" d="M52 108h4v4h-4z"/><path fill="#2e2e2e" d="M56 108h4v4h-4zM76 128h4v4h-4z"/><path fill="#2a2a2a" d="M60 108h4v4h-4zM68 116h4v4h-4zM40 144h4v4h-4zM36 168h4v4h-4z"/><path fill="#202020" d="M64 108h4v4h-4zM40 132h4v4h-4z"/><path fill="#252525" d="M48 112h4v4h-4zM88 140h4v4h-4zM36 160h4v4h-4z"/><path fill="#313131" d="M52 112h4v4h-4zM72 124h4v4h-4zM44 132h4v4h-4zM84 140h4v4h-4z"/><path fill="#363636" d="M56 112h4v4h-4z"/><path fill="#343434" d="M60 112h4v4h-4zM68 120h4v4h-4zM80 136h4v4h-4zM88 148h4v4h-4zM92 156h4v4h-4z"/><path fill="#2b2b2b" d="M64 112h4v4h-4zM80 132h4v4h-4z"/><path fill="#1f1f1f" d="M68 112h4v4h-4zM36 152h4v4h-4zM100 164h4v4h-4z"/><path fill="#2c2c2c" d="M48 116h4v4h-4zM44 128h4v4h-4z"/><path fill="#393939" d="M52 116h4v4h-4z"/><path fill="#3f3f3f" d="M56 116h4v4h-4zM52 120h4v4h-4zM44 156h4v4h-4z"/><path fill="#3d3d3d" d="M60 116h4v4h-4zM64 120h4v4h-4z"/><path fill="#353535" d="M64 116h4v4h-4zM44 136h4v4h-4zM40 160h4v4h-4z"/><path fill="#212121" d="M44 120h4v4h-4zM80 128h4v4h-4zM92 144h4v4h-4z"/><path fill="#333333" d="M48 120h4v4h-4zM40 156h4v4h-4zM96 172h4v4h-4z"/><path fill="#424242" d="M56 120h8v4h-8zM64 124h4v4h-4zM52 128h4v4h-4zM72 136h4v4h-4zM76 140h4v4h-4zM48 144h4v4h-4zM48 148h4v4h-4zM44 168h4v4h-4zM44 172h4v4h-4z"/><path fill="#272727" d="M72 120h4v4h-4zM44 124h4v4h-4zM40 140h4v4h-4zM92 148h4v4h-4z"/><path fill="#383838" d="M48 124h4v4h-4zM44 140h4v4h-4z"/><path fill="#414141" d="M52 124h4v4h-4zM68 128h4v4h-4zM48 140h4v4h-4zM44 164h4v4h-4z"/><path fill="#434343" d="M56 124h8v4h-8zM56 128h12v4h-12zM52 132h20v4h-20zM52 136h20v4h-20zM52 140h24v4h-24zM52 144h28v4h-28zM52 148h24v4h-24zM80 148h4v4h-4zM48 152h20v4h-20zM48 156h20v4h-20zM48 160h16v4h-16zM48 164h20v4h-20zM48 168h20v4h-20zM48 172h28v4h-28zM88 172h4v4h-4z"/><path fill="#3c3c3c" d="M68 124h4v4h-4zM44 148h4v4h-4zM88 152h4v4h-4zM92 164h4v4h-4zM92 168h4v4h-4z"/><path fill="#242424" d="M76 124h4v4h-4zM40 136h4v4h-4z"/><path fill="#3b3b3b" d="M48 128h4v4h-4zM80 140h4v4h-4zM40 172h4v4h-4z"/><path fill="#3a3a3a" d="M72 128h4v4h-4zM44 144h4v4h-4zM92 160h4v4h-4zM40 168h4v4h-4z"/><path fill="#3e3e3e" d="M48 132h4v4h-4zM76 136h4v4h-4zM84 148h4v4h-4zM44 152h4v4h-4zM92 172h4v4h-4z"/><path fill="#404040" d="M72 132h4v4h-4zM48 136h4v4h-4zM80 144h4v4h-4zM44 160h4v4h-4z"/><path fill="#373737" d="M76 132h4v4h-4zM84 144h4v4h-4zM40 164h4v4h-4z"/><path fill="#282828" d="M84 136h4v4h-4zM96 160h4v4h-4zM36 164h4v4h-4zM100 172h4v4h-4z"/><path fill="#2d2d2d" d="M88 144h4v4h-4zM40 148h4v4h-4zM92 152h4v4h-4zM96 164h4v4h-4zM36 172h4v4h-4z"/><path fill="#444444" d="M76 148h4v4h-4zM68 152h4v4h-4zM64 160h4v4h-4zM68 168h4v4h-4zM76 172h12v4h-12z"/><path fill="#303030" d="M40 152h4v4h-4zM96 168h4v4h-4z"/><path fill="#474747" d="M72 152h4v4h-4zM68 156h4v4h-4zM68 164h4v4h-4z"/><path fill="#4a4a4a" d="M76 152h4v4h-4z"/><path fill="#4b4b4b" d="M80 152h4v4h-4zM80 168h4v4h-4z"/><path fill="#484848" d="M84 152h4v4h-4zM88 156h4v4h-4z"/><path fill="#222222" d="M36 156h4v4h-4z"/><path fill="#4f4f4f" d="M72 156h4v4h-4z"/><path fill="#535353" d="M76 156h4v4h-4zM76 164h4v4h-4zM84 164h4v4h-4z"/><path fill="#545454" d="M80 156h4v4h-4zM80 164h4v4h-4z"/><path fill="#525252" d="M84 156h4v4h-4zM72 160h4v4h-4z"/><path fill="#494949" d="M68 160h4v4h-4zM76 168h4v4h-4zM84 168h4v4h-4z"/><path fill="#565656" d="M76 160h8v4h-8z"/><path fill="#555555" d="M84 160h4v4h-4z"/><path fill="#4e4e4e" d="M88 160h4v4h-4zM72 164h4v4h-4z"/><path fill="#4c4c4c" d="M88 164h4v4h-4z"/><path fill="#464646" d="M72 168h4v4h-4z"/><path fill="#454545" d="M88 168h4v4h-4z"/></g></g><rect x="0" y="0" width="278.7" height="163.8" fill="none" stroke="#1a1a40" stroke-width="0.6"/></g>
<g transform="translate(814.3 290.0)"><clipPath id="hc11"><rect x="0" y="0" width="278.4" height="163.8"/></clipPath><g clip-path="url(#hc11)"><g filter="url(#hb)"><rect x="-12" y="-12" width="302" height="188" fill="#040404"/><path fill="#030303" d="M-12 -12h300v4h-300zM-12 -8h176v4h-176zM180 -8h108v4h-108zM-12 -4h56v4h-56zM52 -4h104v4h-104zM184 -4h104v4h-104zM-12 0h48v4h-48zM64 0h88v4h-88zM188 0h44v4h-44zM264 0h24v4h-24zM-12 4h44v4h-44zM68 4h44v4h-44zM196 4h24v4h-24zM272 4h16v4h-16zM-12 8h40v4h-40zM280 8h8v4h-8zM-12 12h36v4h-36zM284 12h4v4h-4zM-12 16h32v4h-32zM-12 20h32v4h-32zM-12 24h28v4h-28zM-12 28h20v4h-20zM-12 32h12v4h-12zM-12 36h4v4h-4zM-12 64h4v4h-4zM-12 68h8v4h-8zM-12 72h8v4h-8zM-12 76h8v4h-8zM-12 80h12v4h-12zM-12 84h12v4h-12zM32 84h12v4h-12zM-12 88h12v4h-12zM32 88h32v4h-32zM-12 92h16v4h-16zM28 92h48v4h-48zM-12 96h16v4h-16zM32 96h12v4h-12zM72 96h12v4h-12zM-12 100h12v4h-12zM32 100h8v4h-8zM-12 104h12v4h-12zM-12 108h12v4h-12zM-12 112h12v4h-12zM-12 116h16v4h-16zM-12 120h16v4h-16zM-12 124h24v4h-24zM24 124h4v4h-4zM-12 128h40v4h-40zM-12 132h36v4h-36zM-12 136h36v4h-36zM-12 140h36v4h-36zM108 140h8v4h-8zM284 140h4v4h-4zM-12 144h36v4h-36zM108 144h16v4h-16zM268 144h20v4h-20zM-12 148h36v4h-36zM112 148h52v4h-52zM256 148h32v4h-32zM-12 152h32v4h-32zM112 152h64v4h-64zM232 152h56v4h-56zM-12 156h32v4h-32zM112 156h68v4h-68zM228 156h60v4h-60zM-12 160h32v4h-32zM112 160h72v4h-72zM224 160h64v4h-64zM-12 164h32v4h-32zM112 164h76v4h-76zM220 164h68v4h-68zM-12 168h32v4h-32zM112 168h80v4h-80zM216 168h72v4h-72zM-12 172h32v4h-32zM112 172h84v4h-84zM212 172h76v4h-76z"/><path fill="#050505" d="M168 -4h8v4h-8zM160 0h4v4h-4zM176 0h4v4h-4zM40 4h16v4h-16zM156 4h4v4h-4zM180 4h4v4h-4zM36 8h4v4h-4zM56 8h4v4h-4zM152 8h4v4h-4zM184 8h4v4h-4zM236 8h24v4h-24zM32 12h4v4h-4zM64 12h4v4h-4zM116 12h36v4h-36zM188 12h4v4h-4zM228 12h8v4h-8zM260 12h8v4h-8zM28 16h4v4h-4zM76 16h8v4h-8zM100 16h16v4h-16zM188 16h40v4h-40zM268 16h8v4h-8zM28 20h4v4h-4zM84 20h20v4h-20zM204 20h16v4h-16zM272 20h8v4h-8zM24 24h4v4h-4zM276 24h8v4h-8zM24 28h4v4h-4zM280 28h8v4h-8zM24 32h4v4h-4zM284 32h4v4h-4zM24 36h4v4h-4zM284 36h4v4h-4zM20 40h4v4h-4zM16 44h8v4h-8zM12 48h4v4h-4zM8 52h4v4h-4zM4 56h4v4h-4zM0 64h4v4h-4zM0 68h4v4h-4zM40 68h28v4h-28zM284 68h4v4h-4zM0 72h4v4h-4zM28 72h8v4h-8zM52 72h20v4h-20zM284 72h4v4h-4zM0 76h4v4h-4zM68 76h8v4h-8zM284 76h4v4h-4zM24 80h4v4h-4zM76 80h4v4h-4zM24 84h4v4h-4zM80 84h8v4h-8zM4 88h4v4h-4zM88 88h8v4h-8zM8 92h4v4h-4zM20 92h4v4h-4zM96 92h8v4h-8zM280 92h4v4h-4zM24 96h4v4h-4zM100 96h4v4h-4zM280 96h4v4h-4zM4 100h4v4h-4zM40 100h4v4h-4zM76 100h4v4h-4zM280 100h4v4h-4zM36 104h4v4h-4zM280 104h8v4h-8zM4 108h4v4h-4zM32 108h4v4h-4zM88 108h4v4h-4zM96 108h4v4h-4zM280 108h8v4h-8zM4 112h4v4h-4zM92 112h4v4h-4zM280 112h8v4h-8zM24 116h4v4h-4zM100 116h4v4h-4zM280 116h8v4h-8zM12 120h8v4h-8zM96 120h4v4h-4zM104 120h4v4h-4zM276 120h12v4h-12zM28 124h4v4h-4zM108 124h4v4h-4zM272 124h12v4h-12zM112 128h4v4h-4zM268 128h12v4h-12zM116 132h8v4h-8zM264 132h8v4h-8zM124 136h8v4h-8zM156 136h12v4h-12zM256 136h8v4h-8zM24 140h4v4h-4zM104 140h4v4h-4zM140 140h12v4h-12zM168 140h12v4h-12zM244 140h12v4h-12zM24 144h4v4h-4zM180 144h4v4h-4zM224 144h8v4h-8zM184 148h4v4h-4zM184 152h4v4h-4zM220 152h4v4h-4zM188 156h4v4h-4zM108 160h4v4h-4zM192 160h4v4h-4zM216 160h4v4h-4zM20 164h4v4h-4zM108 164h4v4h-4zM196 164h4v4h-4zM208 164h8v4h-8z"/><path fill="#060606" d="M164 0h4v4h-4zM172 0h4v4h-4zM160 4h4v4h-4zM40 8h16v4h-16zM156 8h4v4h-4zM36 12h4v4h-4zM60 12h4v4h-4zM152 12h4v4h-4zM184 12h4v4h-4zM236 12h24v4h-24zM32 16h4v4h-4zM64 16h12v4h-12zM116 16h12v4h-12zM228 16h8v4h-8zM264 16h4v4h-4zM80 20h4v4h-4zM104 20h8v4h-8zM192 20h12v4h-12zM220 20h8v4h-8zM268 20h4v4h-4zM28 24h4v4h-4zM88 24h16v4h-16zM208 24h12v4h-12zM272 24h4v4h-4zM276 28h4v4h-4zM280 32h4v4h-4zM280 36h4v4h-4zM24 40h4v4h-4zM284 40h4v4h-4zM24 44h4v4h-4zM284 44h4v4h-4zM16 48h4v4h-4zM284 48h4v4h-4zM284 52h4v4h-4zM284 56h4v4h-4zM4 60h4v4h-4zM284 60h4v4h-4zM44 64h28v4h-28zM284 64h4v4h-4zM36 68h4v4h-4zM68 68h8v4h-8zM72 72h4v4h-4zM24 76h4v4h-4zM76 76h4v4h-4zM80 80h4v4h-4zM280 80h4v4h-4zM4 84h4v4h-4zM88 84h4v4h-4zM148 84h20v4h-20zM280 84h4v4h-4zM8 88h4v4h-4zM20 88h4v4h-4zM96 88h8v4h-8zM116 88h56v4h-56zM280 88h4v4h-4zM104 92h4v4h-4zM8 96h4v4h-4zM24 100h4v4h-4zM72 100h4v4h-4zM100 100h4v4h-4zM4 104h4v4h-4zM100 104h4v4h-4zM276 104h4v4h-4zM276 108h4v4h-4zM24 112h4v4h-4zM100 112h4v4h-4zM276 112h4v4h-4zM8 116h4v4h-4zM20 116h4v4h-4zM272 116h8v4h-8zM272 120h4v4h-4zM96 124h4v4h-4zM112 124h4v4h-4zM268 124h4v4h-4zM116 128h4v4h-4zM264 128h4v4h-4zM100 132h4v4h-4zM124 132h4v4h-4zM260 132h4v4h-4zM132 136h24v4h-24zM168 136h8v4h-8zM252 136h4v4h-4zM180 140h4v4h-4zM224 140h20v4h-20zM104 144h4v4h-4zM184 144h4v4h-4zM220 144h4v4h-4zM220 148h4v4h-4zM188 152h4v4h-4zM216 156h4v4h-4zM212 160h4v4h-4zM200 164h8v4h-8zM20 168h4v4h-4zM108 168h4v4h-4z"/><path fill="#070707" d="M168 0h4v4h-4zM176 4h4v4h-4zM180 8h4v4h-4zM56 12h4v4h-4zM156 12h4v4h-4zM60 16h4v4h-4zM128 16h28v4h-28zM184 16h4v4h-4zM236 16h4v4h-4zM256 16h8v4h-8zM32 20h4v4h-4zM76 20h4v4h-4zM112 20h8v4h-8zM188 20h4v4h-4zM228 20h4v4h-4zM264 20h4v4h-4zM84 24h4v4h-4zM104 24h4v4h-4zM196 24h12v4h-12zM220 24h4v4h-4zM268 24h4v4h-4zM28 28h4v4h-4zM88 28h12v4h-12zM272 28h4v4h-4zM28 32h4v4h-4zM276 32h4v4h-4zM28 36h4v4h-4zM28 40h4v4h-4zM280 40h4v4h-4zM280 44h4v4h-4zM280 48h4v4h-4zM12 52h4v4h-4zM8 56h4v4h-4zM280 56h4v4h-4zM52 60h24v4h-24zM280 60h4v4h-4zM4 64h4v4h-4zM40 64h4v4h-4zM72 64h4v4h-4zM280 64h4v4h-4zM32 68h4v4h-4zM76 68h4v4h-4zM280 68h4v4h-4zM24 72h4v4h-4zM76 72h4v4h-4zM280 72h4v4h-4zM80 76h4v4h-4zM280 76h4v4h-4zM4 80h4v4h-4zM84 80h4v4h-4zM20 84h4v4h-4zM120 84h28v4h-28zM168 84h8v4h-8zM16 88h4v4h-4zM104 88h12v4h-12zM172 88h4v4h-4zM12 92h8v4h-8zM108 92h28v4h-28zM148 92h24v4h-24zM20 96h4v4h-4zM104 96h4v4h-4zM276 100h4v4h-4zM24 104h4v4h-4zM80 104h4v4h-4zM24 108h4v4h-4zM100 108h4v4h-4zM272 108h4v4h-4zM32 112h4v4h-4zM272 112h4v4h-4zM12 116h8v4h-8zM92 116h4v4h-4zM104 116h4v4h-4zM268 116h4v4h-4zM108 120h4v4h-4zM268 120h4v4h-4zM116 124h4v4h-4zM264 124h4v4h-4zM28 128h4v4h-4zM120 128h4v4h-4zM260 128h4v4h-4zM128 132h4v4h-4zM156 132h16v4h-16zM256 132h4v4h-4zM176 136h4v4h-4zM244 136h8v4h-8zM24 148h4v4h-4zM216 152h4v4h-4zM192 156h4v4h-4zM196 160h4v4h-4zM208 160h4v4h-4zM20 172h4v4h-4zM108 172h4v4h-4z"/><path fill="#080808" d="M164 4h4v4h-4zM160 8h4v4h-4zM40 12h4v4h-4zM52 12h4v4h-4zM180 12h4v4h-4zM36 16h4v4h-4zM240 16h16v4h-16zM64 20h12v4h-12zM120 20h4v4h-4zM184 20h4v4h-4zM232 20h4v4h-4zM260 20h4v4h-4zM80 24h4v4h-4zM108 24h4v4h-4zM192 24h4v4h-4zM224 24h4v4h-4zM84 28h4v4h-4zM100 28h4v4h-4zM204 28h20v4h-20zM88 32h12v4h-12zM272 32h4v4h-4zM276 36h4v4h-4zM276 40h4v4h-4zM28 44h4v4h-4zM20 48h4v4h-4zM280 52h4v4h-4zM60 56h16v4h-16zM44 60h8v4h-8zM76 60h4v4h-4zM36 64h4v4h-4zM76 64h4v4h-4zM4 68h4v4h-4zM28 68h4v4h-4zM4 72h4v4h-4zM80 72h4v4h-4zM4 76h4v4h-4zM132 80h40v4h-40zM8 84h4v4h-4zM92 84h4v4h-4zM116 84h4v4h-4zM176 84h4v4h-4zM12 88h4v4h-4zM176 88h4v4h-4zM136 92h12v4h-12zM172 92h4v4h-4zM12 96h8v4h-8zM156 96h16v4h-16zM276 96h4v4h-4zM8 100h4v4h-4zM68 100h4v4h-4zM272 104h4v4h-4zM84 108h4v4h-4zM268 108h4v4h-4zM8 112h4v4h-4zM268 112h4v4h-4zM112 120h4v4h-4zM264 120h4v4h-4zM260 124h4v4h-4zM124 128h4v4h-4zM256 128h4v4h-4zM132 132h4v4h-4zM148 132h8v4h-8zM172 132h4v4h-4zM252 132h4v4h-4zM100 136h4v4h-4zM180 136h4v4h-4zM224 136h20v4h-20zM184 140h4v4h-4zM220 140h4v4h-4zM104 148h4v4h-4zM188 148h4v4h-4zM216 148h4v4h-4zM24 152h4v4h-4zM212 156h4v4h-4zM200 160h8v4h-8z"/><path fill="#0a0a0a" d="M168 4h4v4h-4zM176 8h4v4h-4zM40 16h4v4h-4zM180 16h4v4h-4zM36 20h4v4h-4zM132 20h12v4h-12zM156 20h4v4h-4zM240 20h4v4h-4zM252 20h4v4h-4zM64 24h8v4h-8zM76 24h4v4h-4zM116 24h4v4h-4zM184 24h4v4h-4zM232 24h4v4h-4zM32 28h4v4h-4zM80 28h4v4h-4zM108 28h4v4h-4zM196 28h4v4h-4zM100 32h4v4h-4zM204 32h4v4h-4zM220 32h4v4h-4zM84 36h4v4h-4zM96 36h4v4h-4zM272 36h4v4h-4zM32 40h4v4h-4zM88 40h8v4h-8zM32 44h4v4h-4zM88 44h4v4h-4zM28 48h4v4h-4zM84 48h4v4h-4zM72 52h16v4h-16zM276 52h4v4h-4zM44 56h8v4h-8zM80 56h4v4h-4zM276 56h4v4h-4zM276 60h4v4h-4zM32 64h4v4h-4zM276 64h4v4h-4zM276 68h4v4h-4zM148 76h20v4h-20zM120 80h4v4h-4zM176 80h4v4h-4zM12 84h8v4h-8zM244 84h12v4h-12zM244 88h4v4h-4zM276 88h4v4h-4zM180 92h4v4h-4zM248 92h4v4h-4zM112 96h4v4h-4zM120 96h4v4h-4zM132 96h8v4h-8zM144 96h8v4h-8zM252 96h4v4h-4zM44 100h4v4h-4zM64 100h4v4h-4zM160 100h12v4h-12zM256 100h8v4h-8zM104 104h4v4h-4zM260 104h8v4h-8zM260 116h4v4h-4zM92 120h4v4h-4zM116 120h4v4h-4zM260 120h4v4h-4zM256 124h4v4h-4zM96 128h4v4h-4zM128 128h4v4h-4zM156 128h4v4h-4zM172 128h4v4h-4zM252 128h4v4h-4zM244 132h4v4h-4zM184 136h4v4h-4zM216 140h4v4h-4zM104 152h4v4h-4zM212 152h4v4h-4zM24 156h4v4h-4zM196 156h4v4h-4zM208 156h4v4h-4z"/><path fill="#090909" d="M172 4h4v4h-4zM44 12h8v4h-8zM56 16h4v4h-4zM156 16h4v4h-4zM60 20h4v4h-4zM124 20h8v4h-8zM144 20h12v4h-12zM236 20h4v4h-4zM256 20h4v4h-4zM32 24h4v4h-4zM112 24h4v4h-4zM188 24h4v4h-4zM228 24h4v4h-4zM264 24h4v4h-4zM104 28h4v4h-4zM200 28h4v4h-4zM224 28h4v4h-4zM268 28h4v4h-4zM84 32h4v4h-4zM208 32h12v4h-12zM88 36h8v4h-8zM276 44h4v4h-4zM24 48h4v4h-4zM276 48h4v4h-4zM16 52h4v4h-4zM60 52h12v4h-12zM12 56h4v4h-4zM52 56h8v4h-8zM76 56h4v4h-4zM8 60h4v4h-4zM40 60h4v4h-4zM80 60h4v4h-4zM80 64h4v4h-4zM24 68h4v4h-4zM80 68h4v4h-4zM84 76h4v4h-4zM20 80h4v4h-4zM88 80h4v4h-4zM124 80h8v4h-8zM172 80h4v4h-4zM96 84h20v4h-20zM180 84h4v4h-4zM180 88h4v4h-4zM248 88h12v4h-12zM176 92h4v4h-4zM252 92h8v4h-8zM276 92h4v4h-4zM108 96h4v4h-4zM124 96h8v4h-8zM152 96h4v4h-4zM172 96h4v4h-4zM256 96h4v4h-4zM20 100h4v4h-4zM104 100h4v4h-4zM272 100h4v4h-4zM8 104h4v4h-4zM268 104h4v4h-4zM8 108h4v4h-4zM264 108h4v4h-4zM20 112h4v4h-4zM88 112h4v4h-4zM104 112h4v4h-4zM264 112h4v4h-4zM32 116h4v4h-4zM108 116h4v4h-4zM264 116h4v4h-4zM120 124h4v4h-4zM160 128h12v4h-12zM28 132h4v4h-4zM136 132h12v4h-12zM176 132h4v4h-4zM248 132h4v4h-4zM220 136h4v4h-4zM188 144h4v4h-4zM216 144h4v4h-4zM192 152h4v4h-4z"/><path fill="#0c0c0c" d="M164 8h4v4h-4zM44 16h8v4h-8zM160 16h4v4h-4zM124 24h4v4h-4zM148 24h8v4h-8zM180 24h4v4h-4zM236 24h4v4h-4zM256 24h4v4h-4zM64 28h4v4h-4zM112 28h4v4h-4zM188 28h4v4h-4zM80 32h4v4h-4zM200 32h4v4h-4zM268 36h4v4h-4zM212 40h8v4h-8zM80 44h4v4h-4zM96 44h4v4h-4zM272 44h4v4h-4zM36 48h4v4h-4zM68 48h12v4h-12zM92 48h4v4h-4zM272 48h4v4h-4zM20 52h4v4h-4zM36 52h8v4h-8zM52 52h4v4h-4zM88 52h4v4h-4zM272 52h4v4h-4zM16 56h4v4h-4zM36 56h4v4h-4zM12 60h4v4h-4zM84 64h4v4h-4zM84 68h4v4h-4zM20 72h4v4h-4zM88 76h4v4h-4zM124 76h8v4h-8zM172 76h4v4h-4zM112 80h4v4h-4zM184 80h4v4h-4zM244 80h8v4h-8zM256 80h4v4h-4zM236 84h4v4h-4zM236 88h4v4h-4zM184 92h4v4h-4zM240 92h4v4h-4zM260 92h4v4h-4zM16 100h4v4h-4zM60 100h4v4h-4zM128 100h4v4h-4zM152 100h4v4h-4zM252 100h4v4h-4zM40 104h4v4h-4zM160 104h4v4h-4zM168 104h4v4h-4zM256 104h4v4h-4zM112 116h4v4h-4zM32 120h4v4h-4zM120 120h4v4h-4zM256 120h4v4h-4zM156 124h4v4h-4zM132 128h4v4h-4zM148 128h4v4h-4zM176 128h4v4h-4zM248 128h4v4h-4zM220 132h4v4h-4zM232 132h8v4h-8zM216 136h4v4h-4zM100 140h4v4h-4zM212 148h4v4h-4zM200 156h8v4h-8zM24 160h4v4h-4z"/><path fill="#0e0e0e" d="M168 8h4v4h-4zM176 16h4v4h-4zM40 20h4v4h-4zM52 20h4v4h-4zM160 20h4v4h-4zM56 24h4v4h-4zM136 24h4v4h-4zM244 24h8v4h-8zM68 28h8v4h-8zM180 28h4v4h-4zM64 32h4v4h-4zM192 32h4v4h-4zM60 40h8v4h-8zM268 40h4v4h-4zM68 44h4v4h-4zM76 44h4v4h-4zM100 44h4v4h-4zM220 44h4v4h-4zM40 48h4v4h-4zM96 48h4v4h-4zM212 48h8v4h-8zM24 52h4v4h-4zM32 52h4v4h-4zM216 52h4v4h-4zM212 56h12v4h-12zM88 60h4v4h-4zM212 60h4v4h-4zM220 60h4v4h-4zM24 64h4v4h-4zM212 64h4v4h-4zM220 64h4v4h-4zM272 64h4v4h-4zM220 68h4v4h-4zM8 72h4v4h-4zM88 72h4v4h-4zM148 72h4v4h-4zM168 72h4v4h-4zM92 76h4v4h-4zM180 76h4v4h-4zM248 76h8v4h-8zM12 80h4v4h-4zM100 80h8v4h-8zM188 80h4v4h-4zM232 84h4v4h-4zM232 88h4v4h-4zM188 92h4v4h-4zM232 92h4v4h-4zM272 92h4v4h-4zM240 96h4v4h-4zM268 96h4v4h-4zM120 100h4v4h-4zM136 100h4v4h-4zM144 100h4v4h-4zM248 100h4v4h-4zM12 104h8v4h-8zM76 104h4v4h-4zM252 104h4v4h-4zM12 108h8v4h-8zM160 108h4v4h-4zM164 112h8v4h-8zM256 112h4v4h-4zM164 116h8v4h-8zM124 120h4v4h-4zM152 124h4v4h-4zM180 128h4v4h-4zM244 128h4v4h-4zM96 132h4v4h-4zM212 144h4v4h-4zM208 152h4v4h-4zM24 164h4v4h-4zM104 164h4v4h-4z"/><path fill="#0d0d0d" d="M172 8h4v4h-4zM176 12h4v4h-4zM36 24h4v4h-4zM128 24h8v4h-8zM140 24h8v4h-8zM156 24h4v4h-4zM240 24h4v4h-4zM252 24h4v4h-4zM60 28h4v4h-4zM76 28h4v4h-4zM116 28h4v4h-4zM184 28h4v4h-4zM232 28h4v4h-4zM260 28h4v4h-4zM108 32h4v4h-4zM196 32h4v4h-4zM228 32h4v4h-4zM264 32h4v4h-4zM80 36h4v4h-4zM104 36h4v4h-4zM204 36h4v4h-4zM224 36h4v4h-4zM80 40h4v4h-4zM100 40h4v4h-4zM208 40h4v4h-4zM220 40h4v4h-4zM36 44h4v4h-4zM60 44h8v4h-8zM212 44h8v4h-8zM56 48h4v4h-4zM44 52h8v4h-8zM92 52h4v4h-4zM88 56h4v4h-4zM272 56h4v4h-4zM216 60h4v4h-4zM272 60h4v4h-4zM28 64h4v4h-4zM216 64h4v4h-4zM8 68h4v4h-4zM20 68h4v4h-4zM152 72h16v4h-16zM8 76h4v4h-4zM120 76h4v4h-4zM176 76h4v4h-4zM16 80h4v4h-4zM96 80h4v4h-4zM108 80h4v4h-4zM236 80h8v4h-8zM188 84h4v4h-4zM188 88h4v4h-4zM260 88h4v4h-4zM236 92h4v4h-4zM180 96h4v4h-4zM244 96h4v4h-4zM264 96h4v4h-4zM48 100h12v4h-12zM108 100h4v4h-4zM124 100h4v4h-4zM132 100h4v4h-4zM148 100h4v4h-4zM176 100h4v4h-4zM156 104h4v4h-4zM172 104h4v4h-4zM164 108h8v4h-8zM256 108h4v4h-4zM108 112h4v4h-4zM116 116h4v4h-4zM256 116h4v4h-4zM160 120h12v4h-12zM128 124h4v4h-4zM172 124h4v4h-4zM252 124h4v4h-4zM136 128h12v4h-12zM184 132h4v4h-4zM216 132h4v4h-4zM188 136h4v4h-4zM28 140h4v4h-4zM192 144h4v4h-4zM196 152h4v4h-4zM104 160h4v4h-4z"/><path fill="#0b0b0b" d="M160 12h4v4h-4zM52 16h4v4h-4zM56 20h4v4h-4zM180 20h4v4h-4zM244 20h8v4h-8zM60 24h4v4h-4zM72 24h4v4h-4zM120 24h4v4h-4zM260 24h4v4h-4zM192 28h4v4h-4zM228 28h4v4h-4zM264 28h4v4h-4zM32 32h4v4h-4zM104 32h4v4h-4zM224 32h4v4h-4zM268 32h4v4h-4zM32 36h4v4h-4zM100 36h4v4h-4zM208 36h16v4h-16zM84 40h4v4h-4zM96 40h4v4h-4zM272 40h4v4h-4zM84 44h4v4h-4zM92 44h4v4h-4zM32 48h4v4h-4zM60 48h8v4h-8zM80 48h4v4h-4zM88 48h4v4h-4zM56 52h4v4h-4zM40 56h4v4h-4zM84 56h4v4h-4zM36 60h4v4h-4zM84 60h4v4h-4zM8 64h4v4h-4zM84 72h4v4h-4zM276 72h4v4h-4zM20 76h4v4h-4zM132 76h16v4h-16zM168 76h4v4h-4zM276 76h4v4h-4zM8 80h4v4h-4zM92 80h4v4h-4zM116 80h4v4h-4zM180 80h4v4h-4zM252 80h4v4h-4zM276 80h4v4h-4zM184 84h4v4h-4zM240 84h4v4h-4zM256 84h4v4h-4zM276 84h4v4h-4zM184 88h4v4h-4zM240 88h4v4h-4zM244 92h4v4h-4zM116 96h4v4h-4zM140 96h4v4h-4zM176 96h4v4h-4zM248 96h4v4h-4zM260 96h4v4h-4zM272 96h4v4h-4zM12 100h4v4h-4zM156 100h4v4h-4zM172 100h4v4h-4zM264 100h8v4h-8zM20 104h4v4h-4zM164 104h4v4h-4zM20 108h4v4h-4zM36 108h4v4h-4zM104 108h4v4h-4zM260 108h4v4h-4zM12 112h8v4h-8zM260 112h4v4h-4zM124 124h4v4h-4zM160 124h12v4h-12zM152 128h4v4h-4zM180 132h4v4h-4zM224 132h8v4h-8zM240 132h4v4h-4zM28 136h4v4h-4zM188 140h4v4h-4zM192 148h4v4h-4zM104 156h4v4h-4z"/><path fill="#0f0f0f" d="M164 12h4v4h-4zM176 20h4v4h-4zM160 24h4v4h-4zM176 24h4v4h-4zM36 28h4v4h-4zM120 28h4v4h-4zM156 28h4v4h-4zM236 28h4v4h-4zM256 28h4v4h-4zM60 32h4v4h-4zM112 32h4v4h-4zM232 32h4v4h-4zM60 36h8v4h-8zM200 36h4v4h-4zM228 36h4v4h-4zM264 36h4v4h-4zM36 40h4v4h-4zM104 40h4v4h-4zM204 40h4v4h-4zM224 40h4v4h-4zM56 44h4v4h-4zM72 44h4v4h-4zM208 44h4v4h-4zM268 44h4v4h-4zM52 48h4v4h-4zM220 48h4v4h-4zM28 52h4v4h-4zM96 52h4v4h-4zM212 52h4v4h-4zM220 52h4v4h-4zM92 56h4v4h-4zM16 60h4v4h-4zM32 60h4v4h-4zM224 60h4v4h-4zM12 64h4v4h-4zM20 64h4v4h-4zM88 64h4v4h-4zM208 64h4v4h-4zM224 64h4v4h-4zM88 68h4v4h-4zM212 68h8v4h-8zM224 68h4v4h-4zM272 68h4v4h-4zM132 72h16v4h-16zM228 72h4v4h-4zM116 76h4v4h-4zM184 76h4v4h-4zM232 76h16v4h-16zM256 76h4v4h-4zM192 80h4v4h-4zM232 80h4v4h-4zM192 84h4v4h-4zM260 84h4v4h-4zM192 88h4v4h-4zM264 92h4v4h-4zM184 96h4v4h-4zM236 96h4v4h-4zM112 100h4v4h-4zM140 100h4v4h-4zM152 104h4v4h-4zM172 108h4v4h-4zM160 112h4v4h-4zM88 116h4v4h-4zM120 116h4v4h-4zM160 116h4v4h-4zM156 120h4v4h-4zM172 120h4v4h-4zM252 120h4v4h-4zM92 124h4v4h-4zM176 124h4v4h-4zM220 128h8v4h-8zM240 128h4v4h-4zM192 140h4v4h-4zM212 140h4v4h-4zM28 144h4v4h-4z"/><path fill="#111111" d="M168 12h4v4h-4zM164 16h4v4h-4zM164 20h4v4h-4zM40 24h4v4h-4zM52 24h4v4h-4zM164 24h4v4h-4zM128 28h4v4h-4zM148 28h4v4h-4zM164 28h4v4h-4zM244 28h12v4h-12zM72 32h4v4h-4zM116 32h4v4h-4zM180 32h4v4h-4zM68 36h4v4h-4zM76 36h4v4h-4zM196 36h4v4h-4zM56 40h4v4h-4zM72 40h4v4h-4zM228 40h4v4h-4zM264 40h4v4h-4zM40 44h4v4h-4zM104 44h4v4h-4zM204 44h4v4h-4zM224 48h4v4h-4zM224 52h4v4h-4zM20 60h4v4h-4zM92 60h4v4h-4zM268 60h4v4h-4zM204 64h4v4h-4zM12 68h4v4h-4zM152 68h16v4h-16zM204 68h4v4h-4zM232 68h4v4h-4zM16 72h4v4h-4zM120 72h4v4h-4zM176 72h4v4h-4zM216 72h4v4h-4zM240 72h4v4h-4zM252 72h8v4h-8zM272 72h4v4h-4zM12 76h4v4h-4zM96 76h4v4h-4zM112 76h4v4h-4zM192 76h4v4h-4zM260 76h4v4h-4zM228 80h4v4h-4zM228 84h4v4h-4zM268 92h4v4h-4zM188 96h4v4h-4zM228 96h4v4h-4zM132 104h4v4h-4zM148 104h4v4h-4zM248 104h4v4h-4zM80 108h4v4h-4zM84 112h4v4h-4zM156 112h4v4h-4zM252 112h4v4h-4zM124 116h4v4h-4zM156 116h4v4h-4zM252 116h4v4h-4zM128 120h4v4h-4zM152 120h4v4h-4zM176 120h4v4h-4zM136 124h4v4h-4zM144 124h4v4h-4zM184 128h4v4h-4zM212 132h4v4h-4zM208 148h4v4h-4zM104 172h4v4h-4z"/><path fill="#101010" d="M172 12h4v4h-4zM44 20h8v4h-8zM56 28h4v4h-4zM124 28h4v4h-4zM152 28h4v4h-4zM160 28h4v4h-4zM176 28h4v4h-4zM240 28h4v4h-4zM36 32h4v4h-4zM68 32h4v4h-4zM76 32h4v4h-4zM184 32h8v4h-8zM260 32h4v4h-4zM36 36h4v4h-4zM108 36h4v4h-4zM68 40h4v4h-4zM76 40h4v4h-4zM224 44h4v4h-4zM44 48h8v4h-8zM100 48h4v4h-4zM208 48h4v4h-4zM268 48h4v4h-4zM208 52h4v4h-4zM268 52h4v4h-4zM20 56h4v4h-4zM32 56h4v4h-4zM208 56h4v4h-4zM224 56h4v4h-4zM268 56h4v4h-4zM208 60h4v4h-4zM16 64h4v4h-4zM228 64h4v4h-4zM16 68h4v4h-4zM208 68h4v4h-4zM228 68h4v4h-4zM124 72h8v4h-8zM172 72h4v4h-4zM220 72h8v4h-8zM232 72h8v4h-8zM16 76h4v4h-4zM188 76h4v4h-4zM228 76h4v4h-4zM260 80h4v4h-4zM228 88h4v4h-4zM272 88h4v4h-4zM192 92h4v4h-4zM228 92h4v4h-4zM232 96h4v4h-4zM116 100h4v4h-4zM180 100h4v4h-4zM244 100h4v4h-4zM108 104h4v4h-4zM124 104h8v4h-8zM176 104h4v4h-4zM108 108h4v4h-4zM156 108h4v4h-4zM252 108h4v4h-4zM112 112h4v4h-4zM172 112h4v4h-4zM172 116h4v4h-4zM32 124h4v4h-4zM132 124h4v4h-4zM148 124h4v4h-4zM248 124h4v4h-4zM216 128h4v4h-4zM228 128h12v4h-12zM188 132h4v4h-4zM192 136h4v4h-4zM212 136h4v4h-4zM100 144h4v4h-4zM196 148h4v4h-4zM200 152h8v4h-8zM24 168h4v4h-4zM104 168h4v4h-4z"/><path fill="#131313" d="M168 16h8v4h-8zM172 20h4v4h-4zM44 24h8v4h-8zM168 24h4v4h-4zM40 28h4v4h-4zM120 32h4v4h-4zM156 32h4v4h-4zM164 32h12v4h-12zM192 36h4v4h-4zM40 40h4v4h-4zM44 44h8v4h-8zM228 44h4v4h-4zM264 44h4v4h-4zM204 48h4v4h-4zM228 48h4v4h-4zM264 48h4v4h-4zM228 52h4v4h-4zM24 56h8v4h-8zM204 56h4v4h-4zM228 56h4v4h-4zM264 60h4v4h-4zM92 64h4v4h-4zM232 64h4v4h-4zM264 64h4v4h-4zM92 68h4v4h-4zM144 68h4v4h-4zM168 68h4v4h-4zM200 68h4v4h-4zM236 68h4v4h-4zM260 68h4v4h-4zM268 68h4v4h-4zM116 72h4v4h-4zM184 72h16v4h-16zM100 76h8v4h-8zM200 76h4v4h-4zM220 76h4v4h-4zM224 80h4v4h-4zM224 88h4v4h-4zM192 96h4v4h-4zM220 96h4v4h-4zM216 100h24v4h-24zM112 104h4v4h-4zM136 104h12v4h-12zM180 104h4v4h-4zM120 108h4v4h-4zM128 108h4v4h-4zM248 108h4v4h-4zM36 112h4v4h-4zM176 112h4v4h-4zM128 116h4v4h-4zM152 116h4v4h-4zM176 116h4v4h-4zM132 120h4v4h-4zM248 120h4v4h-4zM216 124h4v4h-4zM224 124h4v4h-4zM32 128h4v4h-4zM188 128h4v4h-4zM196 140h4v4h-4zM208 144h4v4h-4zM200 148h8v4h-8z"/><path fill="#141414" d="M168 20h4v4h-4zM52 28h4v4h-4zM40 32h4v4h-4zM152 32h4v4h-4zM240 32h4v4h-4zM252 32h4v4h-4zM40 36h4v4h-4zM188 36h4v4h-4zM52 40h4v4h-4zM232 40h4v4h-4zM108 44h4v4h-4zM104 52h4v4h-4zM204 52h4v4h-4zM264 52h4v4h-4zM100 56h4v4h-4zM264 56h4v4h-4zM96 60h4v4h-4zM232 60h4v4h-4zM160 64h4v4h-4zM200 64h4v4h-4zM124 68h20v4h-20zM172 68h4v4h-4zM240 68h4v4h-4zM252 68h8v4h-8zM264 68h4v4h-4zM264 72h4v4h-4zM204 76h4v4h-4zM200 80h4v4h-4zM224 84h4v4h-4zM264 84h4v4h-4zM268 88h4v4h-4zM200 92h4v4h-4zM220 92h4v4h-4zM196 96h4v4h-4zM216 96h4v4h-4zM188 100h4v4h-4zM212 100h4v4h-4zM116 104h4v4h-4zM220 104h4v4h-4zM244 104h4v4h-4zM112 108h8v4h-8zM128 112h4v4h-4zM152 112h4v4h-4zM248 116h4v4h-4zM148 120h4v4h-4zM180 120h4v4h-4zM184 124h4v4h-4zM212 124h4v4h-4zM228 124h4v4h-4zM240 124h4v4h-4zM92 128h4v4h-4zM208 132h4v4h-4zM196 136h4v4h-4zM208 136h4v4h-4zM208 140h4v4h-4zM28 152h4v4h-4zM100 152h4v4h-4z"/><path fill="#121212" d="M172 24h4v4h-4zM132 28h16v4h-16zM168 28h8v4h-8zM56 32h4v4h-4zM160 32h4v4h-4zM176 32h4v4h-4zM236 32h4v4h-4zM256 32h4v4h-4zM56 36h4v4h-4zM72 36h4v4h-4zM112 36h4v4h-4zM232 36h4v4h-4zM260 36h4v4h-4zM108 40h4v4h-4zM200 40h4v4h-4zM52 44h4v4h-4zM104 48h4v4h-4zM100 52h4v4h-4zM96 56h4v4h-4zM24 60h8v4h-8zM204 60h4v4h-4zM228 60h4v4h-4zM268 64h4v4h-4zM148 68h4v4h-4zM12 72h4v4h-4zM92 72h4v4h-4zM180 72h4v4h-4zM200 72h16v4h-16zM244 72h8v4h-8zM260 72h4v4h-4zM108 76h4v4h-4zM196 76h4v4h-4zM224 76h4v4h-4zM272 76h4v4h-4zM196 80h4v4h-4zM272 80h4v4h-4zM196 84h4v4h-4zM272 84h4v4h-4zM196 88h4v4h-4zM264 88h4v4h-4zM196 92h4v4h-4zM224 92h4v4h-4zM224 96h4v4h-4zM184 100h4v4h-4zM240 100h4v4h-4zM120 104h4v4h-4zM124 108h4v4h-4zM152 108h4v4h-4zM176 108h4v4h-4zM116 112h12v4h-12zM140 124h4v4h-4zM180 124h4v4h-4zM220 124h4v4h-4zM244 124h4v4h-4zM212 128h4v4h-4zM192 132h4v4h-4zM96 136h4v4h-4zM196 144h4v4h-4zM28 148h4v4h-4zM100 148h4v4h-4zM24 172h4v4h-4z"/><path fill="#161616" d="M44 28h8v4h-8zM128 32h4v4h-4zM144 32h4v4h-4zM156 36h4v4h-4zM44 40h8v4h-8zM232 44h4v4h-4zM260 44h4v4h-4zM108 52h4v4h-4zM104 56h4v4h-4zM232 56h4v4h-4zM100 60h4v4h-4zM200 60h4v4h-4zM260 60h4v4h-4zM96 64h4v4h-4zM152 64h4v4h-4zM256 64h4v4h-4zM96 68h4v4h-4zM116 68h4v4h-4zM176 68h4v4h-4zM192 68h4v4h-4zM100 72h4v4h-4zM108 72h4v4h-4zM268 76h4v4h-4zM204 80h4v4h-4zM220 80h4v4h-4zM268 80h4v4h-4zM220 84h4v4h-4zM268 84h4v4h-4zM220 88h4v4h-4zM204 92h12v4h-12zM192 100h4v4h-4zM204 100h8v4h-8zM44 104h4v4h-4zM212 104h4v4h-4zM228 104h4v4h-4zM240 104h4v4h-4zM136 108h4v4h-4zM144 108h4v4h-4zM216 108h8v4h-8zM244 108h4v4h-4zM132 112h4v4h-4zM148 112h4v4h-4zM180 112h4v4h-4zM132 116h4v4h-4zM148 116h4v4h-4zM180 116h4v4h-4zM140 120h4v4h-4zM212 120h4v4h-4zM224 120h4v4h-4zM32 132h4v4h-4zM204 132h4v4h-4zM200 136h8v4h-8zM200 140h8v4h-8zM204 144h4v4h-4zM28 156h4v4h-4zM100 160h4v4h-4z"/><path fill="#171717" d="M44 32h8v4h-8zM132 32h12v4h-12zM44 36h8v4h-8zM120 36h4v4h-4zM240 36h4v4h-4zM252 36h4v4h-4zM192 40h4v4h-4zM236 40h4v4h-4zM112 44h4v4h-4zM200 48h4v4h-4zM232 48h4v4h-4zM260 48h4v4h-4zM200 52h4v4h-4zM232 52h4v4h-4zM260 52h4v4h-4zM108 56h4v4h-4zM200 56h4v4h-4zM260 56h4v4h-4zM236 60h4v4h-4zM148 64h4v4h-4zM168 64h4v4h-4zM196 64h4v4h-4zM240 64h4v4h-4zM252 64h4v4h-4zM180 68h4v4h-4zM188 68h4v4h-4zM104 72h4v4h-4zM216 80h4v4h-4zM204 84h4v4h-4zM204 88h4v4h-4zM216 88h4v4h-4zM196 100h8v4h-8zM208 104h4v4h-4zM232 104h8v4h-8zM40 108h4v4h-4zM140 108h4v4h-4zM212 108h4v4h-4zM224 108h4v4h-4zM216 112h8v4h-8zM216 116h8v4h-8zM244 116h4v4h-4zM184 120h4v4h-4zM228 120h4v4h-4zM240 120h4v4h-4zM188 124h4v4h-4zM208 124h4v4h-4zM196 128h4v4h-4zM204 128h4v4h-4zM200 132h4v4h-4zM100 164h4v4h-4z"/><path fill="#151515" d="M52 32h4v4h-4zM124 32h4v4h-4zM148 32h4v4h-4zM244 32h8v4h-8zM52 36h4v4h-4zM116 36h4v4h-4zM160 36h28v4h-28zM236 36h4v4h-4zM256 36h4v4h-4zM112 40h4v4h-4zM196 40h4v4h-4zM260 40h4v4h-4zM200 44h4v4h-4zM108 48h4v4h-4zM156 64h4v4h-4zM164 64h4v4h-4zM236 64h4v4h-4zM260 64h4v4h-4zM120 68h4v4h-4zM196 68h4v4h-4zM244 68h8v4h-8zM96 72h4v4h-4zM112 72h4v4h-4zM268 72h4v4h-4zM208 76h12v4h-12zM264 76h4v4h-4zM264 80h4v4h-4zM200 84h4v4h-4zM200 88h4v4h-4zM216 92h4v4h-4zM200 96h16v4h-16zM72 104h4v4h-4zM184 104h4v4h-4zM216 104h4v4h-4zM224 104h4v4h-4zM132 108h4v4h-4zM148 108h4v4h-4zM180 108h4v4h-4zM248 112h4v4h-4zM88 120h4v4h-4zM136 120h4v4h-4zM144 120h4v4h-4zM216 120h8v4h-8zM244 120h4v4h-4zM232 124h8v4h-8zM192 128h4v4h-4zM208 128h4v4h-4zM196 132h4v4h-4zM96 140h4v4h-4zM200 144h4v4h-4zM100 156h4v4h-4z"/><path fill="#191919" d="M124 36h4v4h-4zM148 36h4v4h-4zM156 40h4v4h-4zM176 40h4v4h-4zM188 40h4v4h-4zM240 40h4v4h-4zM236 44h4v4h-4zM256 44h4v4h-4zM112 52h4v4h-4zM112 56h4v4h-4zM236 56h4v4h-4zM108 60h8v4h-8zM152 60h4v4h-4zM196 60h4v4h-4zM240 60h4v4h-4zM104 64h12v4h-12zM132 64h8v4h-8zM104 68h8v4h-8zM208 84h8v4h-8zM192 104h4v4h-4zM200 104h4v4h-4zM208 108h4v4h-4zM232 108h8v4h-8zM140 112h4v4h-4zM184 112h4v4h-4zM184 116h4v4h-4zM228 116h4v4h-4zM240 116h4v4h-4zM192 124h4v4h-4zM204 124h4v4h-4zM32 136h4v4h-4zM28 160h4v4h-4zM100 168h4v4h-4z"/><path fill="#1a1a1a" d="M128 36h4v4h-4zM120 40h4v4h-4zM180 40h8v4h-8zM244 40h4v4h-4zM252 40h4v4h-4zM116 44h4v4h-4zM160 44h12v4h-12zM196 48h4v4h-4zM236 48h4v4h-4zM256 48h4v4h-4zM236 52h4v4h-4zM256 52h4v4h-4zM160 56h8v4h-8zM256 56h4v4h-4zM116 60h8v4h-8zM168 60h4v4h-4zM252 60h4v4h-4zM176 64h4v4h-4zM192 64h4v4h-4zM196 104h4v4h-4zM188 108h4v4h-4zM204 108h4v4h-4zM208 112h4v4h-4zM228 112h4v4h-4zM240 112h4v4h-4zM84 116h4v4h-4zM208 116h4v4h-4zM232 116h8v4h-8zM188 120h4v4h-4zM204 120h4v4h-4zM88 124h4v4h-4zM196 124h8v4h-8zM96 148h4v4h-4zM100 172h4v4h-4z"/><path fill="#1b1b1b" d="M132 36h4v4h-4zM140 36h8v4h-8zM152 40h4v4h-4zM248 40h4v4h-4zM156 44h4v4h-4zM172 44h4v4h-4zM192 44h4v4h-4zM240 44h4v4h-4zM252 44h4v4h-4zM116 48h4v4h-4zM160 48h8v4h-8zM116 52h4v4h-4zM160 52h8v4h-8zM196 52h4v4h-4zM116 56h4v4h-4zM156 56h4v4h-4zM196 56h4v4h-4zM240 56h4v4h-4zM252 56h4v4h-4zM124 60h4v4h-4zM148 60h4v4h-4zM244 60h8v4h-8zM188 64h4v4h-4zM64 104h4v4h-4zM188 112h4v4h-4zM204 112h4v4h-4zM232 112h8v4h-8zM188 116h4v4h-4zM204 116h4v4h-4zM192 120h4v4h-4zM200 120h4v4h-4zM92 136h4v4h-4zM96 152h4v4h-4zM28 164h4v4h-4z"/><path fill="#1c1c1c" d="M136 36h4v4h-4zM124 40h4v4h-4zM120 44h4v4h-4zM244 44h8v4h-8zM156 48h4v4h-4zM168 48h4v4h-4zM240 48h4v4h-4zM252 48h4v4h-4zM156 52h4v4h-4zM168 52h4v4h-4zM240 52h4v4h-4zM252 52h4v4h-4zM120 56h4v4h-4zM152 56h4v4h-4zM168 56h4v4h-4zM244 56h8v4h-8zM128 60h4v4h-4zM140 60h8v4h-8zM172 60h4v4h-4zM192 60h4v4h-4zM180 64h8v4h-8zM48 104h4v4h-4zM60 104h4v4h-4zM192 108h12v4h-12zM36 120h4v4h-4zM196 120h4v4h-4zM32 140h4v4h-4z"/><path fill="#181818" d="M152 36h4v4h-4zM244 36h8v4h-8zM116 40h4v4h-4zM160 40h16v4h-16zM256 40h4v4h-4zM196 44h4v4h-4zM112 48h4v4h-4zM104 60h4v4h-4zM156 60h12v4h-12zM256 60h4v4h-4zM100 64h4v4h-4zM116 64h16v4h-16zM140 64h8v4h-8zM172 64h4v4h-4zM244 64h8v4h-8zM100 68h4v4h-4zM112 68h4v4h-4zM184 68h4v4h-4zM208 80h8v4h-8zM216 84h4v4h-4zM208 88h8v4h-8zM68 104h4v4h-4zM188 104h4v4h-4zM204 104h4v4h-4zM184 108h4v4h-4zM228 108h4v4h-4zM240 108h4v4h-4zM136 112h4v4h-4zM144 112h4v4h-4zM212 112h4v4h-4zM224 112h4v4h-4zM244 112h4v4h-4zM36 116h4v4h-4zM136 116h12v4h-12zM212 116h4v4h-4zM224 116h4v4h-4zM208 120h4v4h-4zM232 120h8v4h-8zM200 128h4v4h-4zM92 132h4v4h-4zM96 144h4v4h-4z"/><path fill="#1e1e1e" d="M128 40h8v4h-8zM144 40h4v4h-4zM124 44h4v4h-4zM148 44h4v4h-4zM152 48h4v4h-4zM172 52h4v4h-4zM192 52h4v4h-4zM128 56h4v4h-4zM144 56h4v4h-4zM192 56h4v4h-4zM188 60h4v4h-4zM52 104h4v4h-4zM96 156h4v4h-4z"/><path fill="#1f1f1f" d="M136 40h8v4h-8zM128 44h4v4h-4zM124 48h4v4h-4zM148 48h4v4h-4zM176 48h8v4h-8zM188 48h4v4h-4zM124 52h4v4h-4zM148 52h4v4h-4zM176 52h4v4h-4zM132 56h12v4h-12zM176 56h4v4h-4zM180 60h8v4h-8zM76 108h4v4h-4zM88 128h4v4h-4zM32 144h4v4h-4zM28 172h4v4h-4z"/><path fill="#1d1d1d" d="M148 40h4v4h-4zM152 44h4v4h-4zM176 44h16v4h-16zM120 48h4v4h-4zM172 48h4v4h-4zM192 48h4v4h-4zM244 48h8v4h-8zM120 52h4v4h-4zM152 52h4v4h-4zM244 52h8v4h-8zM124 56h4v4h-4zM148 56h4v4h-4zM172 56h4v4h-4zM132 60h8v4h-8zM176 60h4v4h-4zM56 104h4v4h-4zM80 112h4v4h-4zM192 112h12v4h-12zM192 116h12v4h-12zM28 168h4v4h-4z"/><path fill="#202020" d="M132 44h4v4h-4zM140 44h8v4h-8zM128 48h4v4h-4zM144 48h4v4h-4zM184 48h4v4h-4zM128 52h4v4h-4zM144 52h4v4h-4zM180 52h4v4h-4zM188 52h4v4h-4zM180 56h12v4h-12zM36 124h4v4h-4zM92 140h4v4h-4zM96 160h4v4h-4z"/><path fill="#212121" d="M136 44h4v4h-4zM132 48h12v4h-12zM132 52h12v4h-12zM184 52h4v4h-4zM32 148h4v4h-4z"/><path fill="#232323" d="M44 108h4v4h-4zM96 164h4v4h-4z"/><path fill="#2b2b2b" d="M48 108h4v4h-4zM68 108h4v4h-4zM76 112h4v4h-4zM36 136h4v4h-4zM92 152h4v4h-4z"/><path fill="#2d2d2d" d="M52 108h8v4h-8zM44 112h4v4h-4z"/><path fill="#2c2c2c" d="M60 108h8v4h-8zM32 164h4v4h-4z"/><path fill="#292929" d="M72 108h4v4h-4zM40 116h4v4h-4zM84 124h4v4h-4zM32 160h4v4h-4z"/><path fill="#222222" d="M40 112h4v4h-4zM84 120h4v4h-4z"/><path fill="#333333" d="M48 112h4v4h-4zM72 112h4v4h-4zM44 116h4v4h-4zM84 132h4v4h-4zM88 144h4v4h-4zM36 148h4v4h-4z"/><path fill="#373737" d="M52 112h12v4h-12zM88 148h4v4h-4zM36 156h4v4h-4zM92 172h4v4h-4z"/><path fill="#363636" d="M64 112h8v4h-8zM92 168h4v4h-4z"/><path fill="#3c3c3c" d="M48 116h4v4h-4zM40 140h4v4h-4zM88 152h4v4h-4zM36 168h4v4h-4z"/><path fill="#404040" d="M52 116h4v4h-4zM64 116h8v4h-8zM40 152h4v4h-4z"/><path fill="#414141" d="M56 116h8v4h-8zM72 120h4v4h-4zM80 136h4v4h-4zM84 148h4v4h-4zM40 156h4v4h-4zM88 156h4v4h-4zM40 160h4v4h-4zM88 164h4v4h-4zM88 168h4v4h-4zM88 172h4v4h-4z"/><path fill="#3b3b3b" d="M72 116h4v4h-4zM80 128h4v4h-4zM84 140h4v4h-4z"/><path fill="#323232" d="M76 116h4v4h-4zM40 124h4v4h-4zM92 160h4v4h-4z"/><path fill="#272727" d="M80 116h4v4h-4zM92 148h4v4h-4zM32 156h4v4h-4z"/><path fill="#2e2e2e" d="M40 120h4v4h-4zM84 128h4v4h-4zM36 140h4v4h-4zM32 168h4v4h-4z"/><path fill="#3a3a3a" d="M44 120h4v4h-4zM40 136h4v4h-4zM36 164h4v4h-4z"/><path fill="#424242" d="M48 120h4v4h-4zM44 128h4v4h-4zM76 128h4v4h-4zM80 140h4v4h-4zM88 160h4v4h-4zM40 164h4v4h-4zM40 168h4v4h-4zM40 172h4v4h-4z"/><path fill="#464646" d="M52 120h4v4h-4zM60 120h4v4h-4zM64 124h4v4h-4zM64 140h4v4h-4zM52 144h4v4h-4zM60 144h4v4h-4zM84 152h4v4h-4z"/><path fill="#474747" d="M56 120h4v4h-4zM48 124h4v4h-4zM48 140h4v4h-4zM56 144h4v4h-4zM76 152h8v4h-8zM76 164h12v4h-12z"/><path fill="#444444" d="M64 120h4v4h-4zM68 128h4v4h-4zM44 132h4v4h-4zM44 136h4v4h-4zM68 136h4v4h-4zM48 144h4v4h-4zM64 144h4v4h-4zM76 148h8v4h-8zM68 152h4v4h-4zM68 164h4v4h-4zM76 168h12v4h-12z"/><path fill="#434343" d="M68 120h4v4h-4zM68 124h8v4h-8zM72 128h4v4h-4zM72 132h8v4h-8zM72 136h8v4h-8zM44 140h4v4h-4zM68 140h12v4h-12zM44 144h4v4h-4zM68 144h16v4h-16zM44 148h32v4h-32zM44 152h24v4h-24zM44 156h24v4h-24zM44 160h24v4h-24zM44 164h24v4h-24zM44 168h32v4h-32zM44 172h44v4h-44z"/><path fill="#393939" d="M76 120h4v4h-4z"/><path fill="#2f2f2f" d="M80 120h4v4h-4zM88 140h4v4h-4zM92 156h4v4h-4z"/><path fill="#3f3f3f" d="M44 124h4v4h-4zM80 132h4v4h-4zM40 148h4v4h-4z"/><path fill="#4c4c4c" d="M52 124h4v4h-4zM48 132h4v4h-4zM52 140h4v4h-4z"/><path fill="#4e4e4e" d="M56 124h4v4h-4zM60 136h4v4h-4z"/><path fill="#4b4b4b" d="M60 124h4v4h-4zM48 128h4v4h-4zM64 132h4v4h-4zM48 136h4v4h-4zM60 140h4v4h-4z"/><path fill="#3e3e3e" d="M76 124h4v4h-4zM40 144h4v4h-4zM84 144h4v4h-4z"/><path fill="#353535" d="M80 124h4v4h-4zM40 128h4v4h-4zM36 152h4v4h-4z"/><path fill="#242424" d="M36 128h4v4h-4zM88 132h4v4h-4zM92 144h4v4h-4zM32 152h4v4h-4z"/><path fill="#4f4f4f" d="M52 128h4v4h-4zM60 128h4v4h-4zM52 132h4v4h-4zM60 132h4v4h-4zM52 136h4v4h-4z"/><path fill="#505050" d="M56 128h4v4h-4zM56 132h4v4h-4zM56 136h4v4h-4z"/><path fill="#494949" d="M64 128h4v4h-4zM64 136h4v4h-4zM76 156h8v4h-8zM76 160h12v4h-12z"/><path fill="#282828" d="M36 132h4v4h-4zM96 172h4v4h-4z"/><path fill="#383838" d="M40 132h4v4h-4zM84 136h4v4h-4zM36 160h4v4h-4z"/><path fill="#454545" d="M68 132h4v4h-4zM72 152h4v4h-4zM68 156h4v4h-4zM68 160h4v4h-4zM72 164h4v4h-4z"/><path fill="#2a2a2a" d="M88 136h4v4h-4z"/><path fill="#4d4d4d" d="M56 140h4v4h-4z"/><path fill="#303030" d="M36 144h4v4h-4zM32 172h4v4h-4z"/><path fill="#484848" d="M72 156h4v4h-4zM84 156h4v4h-4zM72 160h4v4h-4z"/><path fill="#343434" d="M92 164h4v4h-4z"/><path fill="#262626" d="M96 168h4v4h-4z"/><path fill="#3d3d3d" d="M36 172h4v4h-4z"/></g></g><rect x="0" y="0" width="278.4" height="163.8" fill="none" stroke="#1a1a40" stroke-width="0.6"/></g>
<g transform="translate(424.2 496.0)"><clipPath id="hc02"><rect x="0" y="0" width="278.7" height="163.8"/></clipPath><g clip-path="url(#hc02)"><g filter="url(#hb)"><rect x="-12" y="-12" width="303" height="188" fill="#040404"/><path fill="#030303" d="M-12 -12h24v4h-24zM40 -12h100v4h-100zM152 -12h16v4h-16zM184 -12h104v4h-104zM-12 -8h16v4h-16zM48 -8h88v4h-88zM192 -8h96v4h-96zM-12 -4h12v4h-12zM52 -4h80v4h-80zM196 -4h92v4h-92zM-12 0h8v4h-8zM56 0h76v4h-76zM200 0h88v4h-88zM-12 4h8v4h-8zM56 4h76v4h-76zM200 4h88v4h-88zM-12 8h8v4h-8zM56 8h76v4h-76zM200 8h88v4h-88zM-12 12h12v4h-12zM52 12h80v4h-80zM200 12h88v4h-88zM-12 16h12v4h-12zM52 16h84v4h-84zM204 16h84v4h-84zM-12 20h20v4h-20zM48 20h96v4h-96zM148 20h24v4h-24zM208 20h80v4h-80zM-12 24h28v4h-28zM60 24h124v4h-124zM212 24h76v4h-76zM-12 28h36v4h-36zM72 28h112v4h-112zM212 28h76v4h-76zM-12 32h32v4h-32zM80 32h100v4h-100zM212 32h76v4h-76zM-12 36h28v4h-28zM84 36h96v4h-96zM212 36h76v4h-76zM-12 40h24v4h-24zM88 40h92v4h-92zM212 40h76v4h-76zM-12 44h20v4h-20zM92 44h76v4h-76zM212 44h76v4h-76zM-12 48h20v4h-20zM92 48h64v4h-64zM212 48h76v4h-76zM-12 52h16v4h-16zM96 52h56v4h-56zM212 52h76v4h-76zM-12 56h16v4h-16zM96 56h52v4h-52zM212 56h76v4h-76zM-12 60h16v4h-16zM96 60h52v4h-52zM208 60h80v4h-80zM-12 64h16v4h-16zM96 64h24v4h-24zM212 64h76v4h-76zM-12 68h20v4h-20zM100 68h8v4h-8zM224 68h64v4h-64zM-12 72h20v4h-20zM248 72h40v4h-40zM-12 76h20v4h-20zM268 76h20v4h-20zM-12 80h20v4h-20zM280 80h8v4h-8zM-12 84h20v4h-20zM-12 88h20v4h-20zM-12 92h20v4h-20zM-12 96h16v4h-16zM-12 100h16v4h-16zM-12 104h16v4h-16zM-12 108h16v4h-16zM-12 112h16v4h-16zM-12 116h16v4h-16zM-12 120h20v4h-20zM-12 124h20v4h-20zM284 124h4v4h-4zM-12 128h20v4h-20zM272 128h16v4h-16zM-12 132h20v4h-20zM268 132h20v4h-20zM-12 136h20v4h-20zM268 136h20v4h-20zM-12 140h20v4h-20zM156 140h4v4h-4zM268 140h20v4h-20zM-12 144h24v4h-24zM152 144h24v4h-24zM208 144h4v4h-4zM268 144h20v4h-20zM-12 148h24v4h-24zM152 148h32v4h-32zM200 148h16v4h-16zM268 148h20v4h-20zM-12 152h28v4h-28zM152 152h64v4h-64zM268 152h20v4h-20zM-12 156h28v4h-28zM152 156h64v4h-64zM244 156h4v4h-4zM264 156h24v4h-24zM-12 160h32v4h-32zM152 160h64v4h-64zM244 160h12v4h-12zM260 160h28v4h-28zM-12 164h32v4h-32zM148 164h72v4h-72zM240 164h48v4h-48zM-12 168h32v4h-32zM144 168h80v4h-80zM240 168h48v4h-48zM-12 172h32v4h-32zM140 172h148v4h-148z"/><path fill="#050505" d="M12 -8h8v4h-8zM32 -8h8v4h-8zM140 -8h12v4h-12zM168 -8h16v4h-16zM8 -4h4v4h-4zM40 -4h4v4h-4zM136 -4h4v4h-4zM156 -4h8v4h-8zM188 -4h4v4h-4zM4 0h4v4h-4zM44 0h4v4h-4zM192 0h4v4h-4zM132 4h4v4h-4zM192 4h4v4h-4zM192 8h4v4h-4zM4 12h4v4h-4zM44 12h4v4h-4zM136 12h4v4h-4zM156 12h8v4h-8zM188 12h4v4h-4zM8 16h4v4h-4zM40 16h4v4h-4zM144 16h8v4h-8zM172 16h12v4h-12zM16 20h20v4h-20zM192 20h12v4h-12zM188 24h4v4h-4zM204 24h4v4h-4zM184 28h4v4h-4zM32 32h16v4h-16zM52 32h16v4h-16zM184 32h4v4h-4zM28 36h4v4h-4zM68 36h8v4h-8zM208 36h4v4h-4zM20 40h8v4h-8zM76 40h4v4h-4zM208 40h4v4h-4zM16 44h8v4h-8zM80 44h4v4h-4zM16 48h4v4h-4zM80 48h4v4h-4zM168 48h16v4h-16zM12 52h4v4h-4zM84 52h4v4h-4zM160 52h4v4h-4zM204 52h4v4h-4zM12 56h4v4h-4zM84 56h4v4h-4zM156 56h4v4h-4zM12 60h4v4h-4zM84 60h4v4h-4zM196 60h8v4h-8zM12 64h4v4h-4zM84 64h4v4h-4zM156 64h4v4h-4zM196 64h4v4h-4zM80 68h8v4h-8zM128 68h12v4h-12zM156 68h4v4h-4zM196 68h8v4h-8zM16 72h4v4h-4zM84 72h4v4h-4zM116 72h4v4h-4zM148 72h16v4h-16zM204 72h8v4h-8zM16 76h4v4h-4zM88 76h4v4h-4zM108 76h4v4h-4zM216 76h16v4h-16zM12 80h4v4h-4zM96 80h12v4h-12zM240 80h8v4h-8zM12 84h4v4h-4zM252 84h4v4h-4zM256 88h8v4h-8zM260 92h8v4h-8zM260 96h12v4h-12zM8 100h4v4h-4zM260 100h16v4h-16zM8 104h4v4h-4zM260 104h16v4h-16zM8 108h4v4h-4zM256 108h16v4h-16zM8 112h4v4h-4zM252 112h16v4h-16zM8 116h4v4h-4zM92 116h4v4h-4zM244 116h16v4h-16zM96 120h4v4h-4zM240 120h8v4h-8zM240 124h4v4h-4zM144 128h12v4h-12zM240 128h4v4h-4zM248 128h8v4h-8zM260 128h4v4h-4zM12 132h4v4h-4zM144 132h4v4h-4zM160 132h12v4h-12zM212 132h8v4h-8zM12 136h4v4h-4zM144 136h4v4h-4zM172 136h8v4h-8zM208 136h4v4h-4zM216 136h4v4h-4zM244 136h4v4h-4zM264 136h4v4h-4zM16 140h4v4h-4zM180 140h4v4h-4zM200 140h4v4h-4zM216 140h4v4h-4zM244 140h4v4h-4zM264 140h4v4h-4zM16 144h4v4h-4zM188 144h8v4h-8zM216 144h4v4h-4zM244 144h4v4h-4zM264 144h4v4h-4zM240 148h4v4h-4zM240 152h4v4h-4zM248 152h4v4h-4zM260 152h4v4h-4zM144 156h4v4h-4zM220 156h4v4h-4zM256 156h4v4h-4zM236 160h4v4h-4zM140 164h4v4h-4zM228 164h8v4h-8zM120 168h4v4h-4zM116 172h4v4h-4z"/><path fill="#060606" d="M20 -8h12v4h-12zM164 -4h4v4h-4zM156 0h8v4h-8zM4 4h4v4h-4zM44 4h4v4h-4zM4 8h4v4h-4zM44 8h4v4h-4zM156 8h8v4h-8zM188 8h4v4h-4zM8 12h4v4h-4zM40 12h4v4h-4zM152 12h4v4h-4zM164 12h4v4h-4zM184 12h4v4h-4zM12 16h4v4h-4zM36 16h4v4h-4zM200 24h4v4h-4zM204 28h4v4h-4zM48 32h4v4h-4zM32 36h4v4h-4zM64 36h4v4h-4zM184 36h4v4h-4zM72 40h4v4h-4zM184 40h4v4h-4zM76 44h4v4h-4zM184 44h4v4h-4zM20 48h4v4h-4zM184 48h4v4h-4zM204 48h4v4h-4zM16 52h4v4h-4zM80 52h4v4h-4zM16 56h4v4h-4zM80 56h4v4h-4zM200 56h4v4h-4zM16 60h4v4h-4zM80 60h4v4h-4zM156 60h4v4h-4zM192 60h4v4h-4zM16 64h4v4h-4zM80 64h4v4h-4zM192 64h4v4h-4zM16 68h4v4h-4zM160 68h4v4h-4zM188 68h8v4h-8zM80 72h4v4h-4zM120 72h8v4h-8zM140 72h8v4h-8zM164 72h8v4h-8zM196 72h8v4h-8zM20 76h4v4h-4zM112 76h4v4h-4zM152 76h16v4h-16zM208 76h8v4h-8zM16 80h4v4h-4zM92 80h4v4h-4zM108 80h4v4h-4zM232 80h8v4h-8zM96 84h12v4h-12zM244 84h8v4h-8zM12 88h4v4h-4zM252 88h4v4h-4zM12 92h4v4h-4zM256 92h4v4h-4zM256 96h4v4h-4zM256 100h4v4h-4zM252 104h8v4h-8zM88 108h4v4h-4zM248 108h8v4h-8zM88 112h8v4h-8zM240 112h12v4h-12zM96 116h8v4h-8zM240 116h4v4h-4zM92 120h4v4h-4zM100 120h4v4h-4zM124 120h20v4h-20zM96 124h8v4h-8zM120 124h32v4h-32zM12 128h4v4h-4zM124 128h20v4h-20zM156 128h8v4h-8zM212 128h8v4h-8zM256 128h4v4h-4zM140 132h4v4h-4zM172 132h4v4h-4zM208 132h4v4h-4zM240 132h4v4h-4zM248 132h4v4h-4zM260 132h4v4h-4zM16 136h4v4h-4zM204 136h4v4h-4zM240 136h4v4h-4zM144 140h4v4h-4zM184 140h4v4h-4zM240 140h4v4h-4zM240 144h4v4h-4zM20 148h4v4h-4zM248 148h4v4h-4zM20 152h4v4h-4zM144 152h4v4h-4zM220 152h4v4h-4zM252 152h4v4h-4zM20 156h4v4h-4zM236 156h4v4h-4zM20 160h4v4h-4zM224 160h12v4h-12zM20 164h4v4h-4zM124 164h16v4h-16zM116 168h4v4h-4z"/><path fill="#070707" d="M12 -4h4v4h-4zM36 -4h4v4h-4zM152 -4h4v4h-4zM184 -4h4v4h-4zM8 0h4v4h-4zM40 0h4v4h-4zM136 0h4v4h-4zM188 0h4v4h-4zM156 4h8v4h-8zM188 4h4v4h-4zM136 8h4v4h-4zM140 12h4v4h-4zM168 12h4v4h-4zM16 16h4v4h-4zM32 16h4v4h-4zM192 24h8v4h-8zM188 28h4v4h-4zM204 32h4v4h-4zM36 36h8v4h-8zM56 36h8v4h-8zM28 40h4v4h-4zM68 40h4v4h-4zM24 44h4v4h-4zM72 44h4v4h-4zM76 48h4v4h-4zM20 52h4v4h-4zM76 52h4v4h-4zM164 52h4v4h-4zM184 52h4v4h-4zM200 52h4v4h-4zM160 56h4v4h-4zM192 56h8v4h-8zM188 60h4v4h-4zM20 64h4v4h-4zM76 64h4v4h-4zM160 64h4v4h-4zM188 64h4v4h-4zM20 68h4v4h-4zM76 68h4v4h-4zM164 68h4v4h-4zM184 68h4v4h-4zM20 72h4v4h-4zM76 72h4v4h-4zM128 72h12v4h-12zM172 72h24v4h-24zM24 76h4v4h-4zM84 76h4v4h-4zM116 76h4v4h-4zM148 76h4v4h-4zM168 76h8v4h-8zM204 76h4v4h-4zM20 80h4v4h-4zM216 80h16v4h-16zM16 84h4v4h-4zM92 84h4v4h-4zM96 88h8v4h-8zM248 88h4v4h-4zM96 92h4v4h-4zM252 92h4v4h-4zM12 96h4v4h-4zM252 96h4v4h-4zM12 100h4v4h-4zM252 100h4v4h-4zM88 104h8v4h-8zM248 104h4v4h-4zM84 108h4v4h-4zM92 108h8v4h-8zM244 108h4v4h-4zM96 112h4v4h-4zM236 112h4v4h-4zM88 116h4v4h-4zM128 116h12v4h-12zM236 116h4v4h-4zM12 120h4v4h-4zM104 120h8v4h-8zM116 120h8v4h-8zM144 120h4v4h-4zM236 120h4v4h-4zM12 124h4v4h-4zM104 124h4v4h-4zM116 124h4v4h-4zM152 124h4v4h-4zM212 124h12v4h-12zM236 124h4v4h-4zM100 128h4v4h-4zM120 128h4v4h-4zM164 128h8v4h-8zM208 128h4v4h-4zM16 132h4v4h-4zM124 132h8v4h-8zM176 132h4v4h-4zM180 136h4v4h-4zM248 136h4v4h-4zM188 140h12v4h-12zM20 144h4v4h-4zM144 144h4v4h-4zM144 148h4v4h-4zM220 148h4v4h-4zM260 148h4v4h-4zM236 152h4v4h-4zM256 152h4v4h-4zM224 156h4v4h-4zM124 160h4v4h-4zM140 160h4v4h-4zM120 164h4v4h-4zM20 168h4v4h-4zM20 172h4v4h-4zM112 172h4v4h-4z"/><path fill="#080808" d="M16 -4h4v4h-4zM32 -4h4v4h-4zM140 -4h4v4h-4zM168 -4h4v4h-4zM8 4h4v4h-4zM40 4h4v4h-4zM136 4h4v4h-4zM8 8h4v4h-4zM40 8h4v4h-4zM164 8h4v4h-4zM12 12h4v4h-4zM36 12h4v4h-4zM148 12h4v4h-4zM172 12h4v4h-4zM180 12h4v4h-4zM20 16h12v4h-12zM44 36h12v4h-12zM204 36h4v4h-4zM32 40h4v4h-4zM64 40h4v4h-4zM204 40h4v4h-4zM28 44h4v4h-4zM204 44h4v4h-4zM24 48h4v4h-4zM72 48h4v4h-4zM188 48h4v4h-4zM168 52h4v4h-4zM180 52h4v4h-4zM188 52h4v4h-4zM20 56h4v4h-4zM76 56h4v4h-4zM188 56h4v4h-4zM20 60h4v4h-4zM76 60h4v4h-4zM160 60h4v4h-4zM24 68h4v4h-4zM72 68h4v4h-4zM168 68h4v4h-4zM180 68h4v4h-4zM24 72h4v4h-4zM72 72h4v4h-4zM64 76h12v4h-12zM80 76h4v4h-4zM120 76h4v4h-4zM176 76h4v4h-4zM196 76h8v4h-8zM24 80h4v4h-4zM64 80h4v4h-4zM88 80h4v4h-4zM112 80h4v4h-4zM156 80h12v4h-12zM208 80h8v4h-8zM20 84h4v4h-4zM108 84h4v4h-4zM240 84h4v4h-4zM16 88h4v4h-4zM92 88h4v4h-4zM104 88h4v4h-4zM100 92h4v4h-4zM92 96h8v4h-8zM92 100h8v4h-8zM12 104h4v4h-4zM84 104h4v4h-4zM96 104h4v4h-4zM12 108h4v4h-4zM240 108h4v4h-4zM12 112h4v4h-4zM84 112h4v4h-4zM100 112h4v4h-4zM232 112h4v4h-4zM12 116h4v4h-4zM104 116h4v4h-4zM124 116h4v4h-4zM140 116h8v4h-8zM220 116h16v4h-16zM112 120h4v4h-4zM148 120h4v4h-4zM216 120h8v4h-8zM232 120h4v4h-4zM108 124h8v4h-8zM156 124h4v4h-4zM96 128h4v4h-4zM172 128h4v4h-4zM220 128h4v4h-4zM236 128h4v4h-4zM120 132h4v4h-4zM132 132h8v4h-8zM204 132h4v4h-4zM220 132h4v4h-4zM252 132h8v4h-8zM140 136h4v4h-4zM200 136h4v4h-4zM260 136h4v4h-4zM20 140h4v4h-4zM248 140h4v4h-4zM220 144h4v4h-4zM248 144h4v4h-4zM232 156h4v4h-4zM128 160h4v4h-4zM112 168h4v4h-4z"/><path fill="#090909" d="M20 -4h12v4h-12zM148 -4h4v4h-4zM180 -4h4v4h-4zM12 0h4v4h-4zM36 0h4v4h-4zM164 0h4v4h-4zM152 8h4v4h-4zM184 8h4v4h-4zM144 12h4v4h-4zM176 12h4v4h-4zM200 28h4v4h-4zM188 32h4v4h-4zM36 40h4v4h-4zM60 40h4v4h-4zM68 44h4v4h-4zM24 52h4v4h-4zM172 52h8v4h-8zM192 52h8v4h-8zM184 56h4v4h-4zM164 64h4v4h-4zM184 64h4v4h-4zM172 68h8v4h-8zM28 72h4v4h-4zM68 72h4v4h-4zM60 76h4v4h-4zM76 76h4v4h-4zM144 76h4v4h-4zM180 76h16v4h-16zM68 80h4v4h-4zM152 80h4v4h-4zM168 80h4v4h-4zM204 80h4v4h-4zM24 84h4v4h-4zM236 84h4v4h-4zM20 88h4v4h-4zM244 88h4v4h-4zM16 92h4v4h-4zM92 92h4v4h-4zM248 92h4v4h-4zM100 96h4v4h-4zM248 96h4v4h-4zM88 100h4v4h-4zM248 100h4v4h-4zM80 104h4v4h-4zM244 104h4v4h-4zM100 108h4v4h-4zM236 108h4v4h-4zM128 112h16v4h-16zM224 112h8v4h-8zM108 116h4v4h-4zM116 116h8v4h-8zM216 116h4v4h-4zM152 120h4v4h-4zM212 120h4v4h-4zM224 120h8v4h-8zM92 124h4v4h-4zM160 124h4v4h-4zM208 124h4v4h-4zM16 128h4v4h-4zM104 128h4v4h-4zM116 128h4v4h-4zM100 132h4v4h-4zM236 132h4v4h-4zM20 136h4v4h-4zM124 136h4v4h-4zM184 136h4v4h-4zM220 136h4v4h-4zM220 140h4v4h-4zM260 144h4v4h-4zM236 148h4v4h-4zM224 152h4v4h-4zM124 156h4v4h-4zM140 156h4v4h-4zM228 156h4v4h-4zM120 160h4v4h-4zM132 160h8v4h-8zM116 164h4v4h-4z"/><path fill="#0a0a0a" d="M144 -4h4v4h-4zM172 -4h8v4h-8zM152 0h4v4h-4zM184 0h4v4h-4zM164 4h4v4h-4zM192 28h4v4h-4zM188 36h4v4h-4zM40 40h4v4h-4zM56 40h4v4h-4zM188 40h4v4h-4zM32 44h4v4h-4zM188 44h4v4h-4zM200 48h4v4h-4zM72 52h4v4h-4zM24 56h4v4h-4zM72 56h4v4h-4zM164 56h4v4h-4zM24 60h4v4h-4zM72 60h4v4h-4zM184 60h4v4h-4zM24 64h4v4h-4zM72 64h4v4h-4zM28 68h4v4h-4zM68 68h4v4h-4zM64 72h4v4h-4zM28 76h4v4h-4zM124 76h4v4h-4zM140 76h4v4h-4zM116 80h4v4h-4zM148 80h4v4h-4zM172 80h4v4h-4zM112 84h4v4h-4zM156 84h8v4h-8zM232 84h4v4h-4zM108 88h4v4h-4zM104 92h4v4h-4zM16 96h4v4h-4zM100 100h4v4h-4zM100 104h4v4h-4zM132 108h12v4h-12zM232 108h4v4h-4zM104 112h4v4h-4zM124 112h4v4h-4zM144 112h4v4h-4zM220 112h4v4h-4zM112 116h4v4h-4zM148 116h4v4h-4zM16 124h4v4h-4zM164 124h8v4h-8zM224 124h4v4h-4zM232 124h4v4h-4zM108 128h8v4h-8zM176 128h4v4h-4zM204 128h4v4h-4zM20 132h4v4h-4zM180 132h4v4h-4zM120 136h4v4h-4zM128 136h4v4h-4zM196 136h4v4h-4zM236 136h4v4h-4zM124 140h4v4h-4zM140 140h4v4h-4zM236 140h4v4h-4zM260 140h4v4h-4zM236 144h4v4h-4zM252 148h8v4h-8zM232 152h4v4h-4zM128 156h4v4h-4z"/><path fill="#0c0c0c" d="M16 0h4v4h-4zM32 0h4v4h-4zM140 0h4v4h-4zM168 0h4v4h-4zM180 8h4v4h-4zM20 12h4v4h-4zM28 12h4v4h-4zM36 44h4v4h-4zM60 44h4v4h-4zM200 44h4v4h-4zM192 48h4v4h-4zM28 52h4v4h-4zM168 56h4v4h-4zM28 64h4v4h-4zM68 64h4v4h-4zM176 64h4v4h-4zM60 72h4v4h-4zM56 76h4v4h-4zM28 80h4v4h-4zM120 80h4v4h-4zM144 80h4v4h-4zM180 80h4v4h-4zM196 80h4v4h-4zM168 84h4v4h-4zM244 96h4v4h-4zM80 100h4v4h-4zM16 104h4v4h-4zM132 104h16v4h-16zM236 104h4v4h-4zM220 108h8v4h-8zM108 112h4v4h-4zM120 112h4v4h-4zM16 116h4v4h-4zM152 116h4v4h-4zM156 120h4v4h-4zM232 128h4v4h-4zM200 132h4v4h-4zM192 136h4v4h-4zM256 136h4v4h-4zM120 140h4v4h-4zM128 140h4v4h-4zM140 144h4v4h-4zM124 148h4v4h-4zM140 148h4v4h-4zM224 148h4v4h-4zM228 152h4v4h-4zM132 156h8v4h-8zM116 160h4v4h-4z"/><path fill="#0e0e0e" d="M20 0h12v4h-12zM148 0h4v4h-4zM16 4h4v4h-4zM32 4h4v4h-4zM140 4h4v4h-4zM168 4h4v4h-4zM16 8h4v4h-4zM32 8h4v4h-4zM144 8h4v4h-4zM172 8h8v4h-8zM196 32h4v4h-4zM200 40h4v4h-4zM40 44h4v4h-4zM56 44h4v4h-4zM192 44h4v4h-4zM68 56h4v4h-4zM168 60h4v4h-4zM56 72h4v4h-4zM124 80h4v4h-4zM28 84h4v4h-4zM200 84h4v4h-4zM68 88h4v4h-4zM160 88h4v4h-4zM236 88h4v4h-4zM240 92h4v4h-4zM20 100h4v4h-4zM76 100h4v4h-4zM140 100h8v4h-8zM240 100h4v4h-4zM148 104h4v4h-4zM232 104h4v4h-4zM112 112h8v4h-8zM84 116h4v4h-4zM20 120h4v4h-4zM160 120h4v4h-4zM232 132h4v4h-4zM104 136h4v4h-4zM116 136h4v4h-4zM224 136h4v4h-4zM136 140h4v4h-4zM224 140h4v4h-4zM256 140h4v4h-4zM24 144h4v4h-4zM128 144h4v4h-4zM256 144h4v4h-4zM24 148h4v4h-4zM120 148h4v4h-4zM128 148h4v4h-4zM228 148h4v4h-4zM24 152h4v4h-4zM24 156h4v4h-4zM112 160h4v4h-4z"/><path fill="#0f0f0f" d="M144 0h4v4h-4zM172 0h8v4h-8zM180 4h4v4h-4zM192 36h4v4h-4zM44 44h12v4h-12zM32 52h4v4h-4zM172 60h8v4h-8zM32 64h4v4h-4zM64 64h4v4h-4zM60 68h4v4h-4zM140 80h4v4h-4zM84 84h4v4h-4zM176 84h4v4h-4zM116 88h4v4h-4zM148 88h4v4h-4zM164 88h4v4h-4zM208 88h8v4h-8zM152 92h4v4h-4zM24 96h4v4h-4zM84 96h4v4h-4zM148 96h4v4h-4zM240 96h4v4h-4zM104 100h4v4h-4zM132 100h8v4h-8zM148 100h4v4h-4zM20 104h4v4h-4zM76 104h4v4h-4zM104 104h4v4h-4zM228 104h4v4h-4zM212 108h4v4h-4zM152 112h4v4h-4zM208 112h4v4h-4zM20 116h4v4h-4zM164 120h12v4h-12zM204 120h4v4h-4zM200 128h4v4h-4zM24 136h4v4h-4zM232 136h4v4h-4zM24 140h4v4h-4zM132 140h4v4h-4zM232 144h4v4h-4zM136 152h4v4h-4zM116 156h4v4h-4zM24 160h4v4h-4zM24 164h4v4h-4zM108 164h4v4h-4zM24 168h4v4h-4zM108 168h4v4h-4zM24 172h4v4h-4z"/><path fill="#0d0d0d" d="M180 0h4v4h-4zM148 8h4v4h-4zM24 12h4v4h-4zM192 32h4v4h-4zM200 36h4v4h-4zM32 48h4v4h-4zM64 48h4v4h-4zM196 48h4v4h-4zM68 52h4v4h-4zM28 56h4v4h-4zM172 56h8v4h-8zM28 60h4v4h-4zM68 60h4v4h-4zM180 60h4v4h-4zM172 64h4v4h-4zM32 68h4v4h-4zM64 68h4v4h-4zM32 72h4v4h-4zM76 80h8v4h-8zM184 80h12v4h-12zM116 84h4v4h-4zM148 84h4v4h-4zM172 84h4v4h-4zM204 84h4v4h-4zM88 88h4v4h-4zM112 88h4v4h-4zM152 88h8v4h-8zM24 92h4v4h-4zM88 92h4v4h-4zM108 92h4v4h-4zM20 96h4v4h-4zM104 96h4v4h-4zM128 104h4v4h-4zM16 108h4v4h-4zM104 108h4v4h-4zM124 108h4v4h-4zM148 108h4v4h-4zM216 108h4v4h-4zM16 112h4v4h-4zM212 112h4v4h-4zM208 116h4v4h-4zM20 124h4v4h-4zM176 124h4v4h-4zM204 124h4v4h-4zM180 128h4v4h-4zM228 128h4v4h-4zM96 132h4v4h-4zM108 132h8v4h-8zM184 132h4v4h-4zM224 132h4v4h-4zM100 136h4v4h-4zM252 140h4v4h-4zM120 144h4v4h-4zM224 144h4v4h-4zM252 144h4v4h-4zM232 148h4v4h-4zM120 152h4v4h-4zM128 152h4v4h-4z"/><path fill="#0b0b0b" d="M12 4h4v4h-4zM36 4h4v4h-4zM152 4h4v4h-4zM184 4h4v4h-4zM12 8h4v4h-4zM36 8h4v4h-4zM140 8h4v4h-4zM168 8h4v4h-4zM16 12h4v4h-4zM32 12h4v4h-4zM196 28h4v4h-4zM200 32h4v4h-4zM44 40h12v4h-12zM64 44h4v4h-4zM28 48h4v4h-4zM68 48h4v4h-4zM180 56h4v4h-4zM164 60h4v4h-4zM168 64h4v4h-4zM180 64h4v4h-4zM128 76h12v4h-12zM60 80h4v4h-4zM72 80h4v4h-4zM84 80h4v4h-4zM176 80h4v4h-4zM200 80h4v4h-4zM64 84h8v4h-8zM88 84h4v4h-4zM152 84h4v4h-4zM164 84h4v4h-4zM208 84h24v4h-24zM24 88h4v4h-4zM240 88h4v4h-4zM20 92h4v4h-4zM244 92h4v4h-4zM88 96h4v4h-4zM16 100h4v4h-4zM84 100h4v4h-4zM244 100h4v4h-4zM240 104h4v4h-4zM80 108h4v4h-4zM128 108h4v4h-4zM144 108h4v4h-4zM228 108h4v4h-4zM148 112h4v4h-4zM216 112h4v4h-4zM212 116h4v4h-4zM16 120h4v4h-4zM88 120h4v4h-4zM208 120h4v4h-4zM172 124h4v4h-4zM228 124h4v4h-4zM20 128h4v4h-4zM224 128h4v4h-4zM104 132h4v4h-4zM116 132h4v4h-4zM132 136h8v4h-8zM188 136h4v4h-4zM252 136h4v4h-4zM124 144h4v4h-4zM124 152h4v4h-4zM140 152h4v4h-4zM120 156h4v4h-4zM112 164h4v4h-4z"/><path fill="#111111" d="M20 4h12v4h-12zM144 4h4v4h-4zM172 4h8v4h-8zM24 8h4v4h-4zM196 36h4v4h-4zM196 40h4v4h-4zM64 56h4v4h-4zM64 60h4v4h-4zM36 68h4v4h-4zM56 68h4v4h-4zM56 80h4v4h-4zM132 80h4v4h-4zM184 84h12v4h-12zM28 88h4v4h-4zM172 88h4v4h-4zM220 88h12v4h-12zM144 92h4v4h-4zM80 96h4v4h-4zM108 96h4v4h-4zM140 96h4v4h-4zM152 96h4v4h-4zM24 100h4v4h-4zM212 104h4v4h-4zM108 108h4v4h-4zM152 108h4v4h-4zM80 112h4v4h-4zM204 116h4v4h-4zM176 120h4v4h-4zM180 124h4v4h-4zM24 128h4v4h-4zM188 132h4v4h-4zM108 136h4v4h-4zM228 136h4v4h-4zM100 140h8v4h-8zM132 144h4v4h-4zM228 144h4v4h-4zM132 148h8v4h-8zM116 152h4v4h-4z"/><path fill="#101010" d="M148 4h4v4h-4zM20 8h4v4h-4zM28 8h4v4h-4zM192 40h4v4h-4zM196 44h4v4h-4zM36 48h4v4h-4zM60 48h4v4h-4zM64 52h4v4h-4zM32 56h4v4h-4zM32 60h4v4h-4zM52 72h4v4h-4zM128 80h4v4h-4zM136 80h4v4h-4zM60 84h4v4h-4zM72 84h4v4h-4zM120 84h4v4h-4zM144 84h4v4h-4zM180 84h4v4h-4zM196 84h4v4h-4zM64 88h4v4h-4zM168 88h4v4h-4zM204 88h4v4h-4zM216 88h4v4h-4zM232 88h4v4h-4zM112 92h4v4h-4zM148 92h4v4h-4zM156 92h4v4h-4zM144 96h4v4h-4zM128 100h4v4h-4zM236 100h4v4h-4zM124 104h4v4h-4zM216 104h12v4h-12zM20 108h4v4h-4zM120 108h4v4h-4zM20 112h4v4h-4zM156 116h4v4h-4zM92 128h4v4h-4zM24 132h4v4h-4zM196 132h4v4h-4zM228 132h4v4h-4zM112 136h4v4h-4zM116 140h4v4h-4zM232 140h4v4h-4zM136 144h4v4h-4zM132 152h4v4h-4zM108 160h4v4h-4zM108 172h4v4h-4z"/><path fill="#121212" d="M40 48h4v4h-4zM56 48h4v4h-4zM36 52h4v4h-4zM36 64h4v4h-4zM60 64h4v4h-4zM52 68h4v4h-4zM32 76h4v4h-4zM52 76h4v4h-4zM124 84h4v4h-4zM72 88h4v4h-4zM84 88h4v4h-4zM120 88h4v4h-4zM144 88h4v4h-4zM200 88h4v4h-4zM68 92h4v4h-4zM84 92h4v4h-4zM116 92h4v4h-4zM160 92h4v4h-4zM236 92h4v4h-4zM72 96h8v4h-8zM136 96h4v4h-4zM124 100h4v4h-4zM152 100h4v4h-4zM24 104h4v4h-4zM152 104h4v4h-4zM208 108h4v4h-4zM24 124h4v4h-4zM200 124h4v4h-4zM184 128h4v4h-4zM192 132h4v4h-4zM228 140h4v4h-4zM116 144h4v4h-4zM116 148h4v4h-4zM112 156h4v4h-4z"/><path fill="#131313" d="M44 48h4v4h-4zM52 48h4v4h-4zM60 52h4v4h-4zM36 60h4v4h-4zM48 68h4v4h-4zM76 84h8v4h-8zM140 84h4v4h-4zM176 88h4v4h-4zM28 92h4v4h-4zM72 92h4v4h-4zM164 92h4v4h-4zM208 92h8v4h-8zM124 96h12v4h-12zM156 96h4v4h-4zM236 96h4v4h-4zM232 100h4v4h-4zM208 104h4v4h-4zM24 108h4v4h-4zM112 108h8v4h-8zM204 112h4v4h-4zM24 116h4v4h-4zM160 116h4v4h-4zM172 116h4v4h-4zM24 120h4v4h-4zM88 124h4v4h-4zM112 140h4v4h-4zM108 156h4v4h-4z"/><path fill="#141414" d="M48 48h4v4h-4zM36 56h4v4h-4zM60 56h4v4h-4zM60 60h4v4h-4zM40 64h4v4h-4zM56 64h4v4h-4zM36 72h4v4h-4zM48 72h4v4h-4zM32 80h4v4h-4zM56 84h4v4h-4zM128 84h4v4h-4zM136 84h4v4h-4zM60 88h4v4h-4zM124 88h4v4h-4zM140 88h4v4h-4zM180 88h4v4h-4zM196 88h4v4h-4zM120 92h8v4h-8zM140 92h4v4h-4zM168 92h4v4h-4zM204 92h4v4h-4zM216 92h4v4h-4zM232 92h4v4h-4zM212 96h4v4h-4zM108 100h4v4h-4zM212 100h20v4h-20zM108 104h4v4h-4zM120 104h4v4h-4zM24 112h4v4h-4zM156 112h4v4h-4zM164 116h8v4h-8zM176 116h4v4h-4zM180 120h4v4h-4zM200 120h4v4h-4zM196 128h4v4h-4zM96 136h4v4h-4zM108 140h4v4h-4zM104 144h4v4h-4zM112 152h4v4h-4z"/><path fill="#151515" d="M40 52h4v4h-4zM56 52h4v4h-4zM40 68h8v4h-8zM52 80h4v4h-4zM32 84h4v4h-4zM132 84h4v4h-4zM184 88h4v4h-4zM192 88h4v4h-4zM128 92h4v4h-4zM136 92h4v4h-4zM172 92h4v4h-4zM220 92h4v4h-4zM28 96h4v4h-4zM112 96h4v4h-4zM120 96h4v4h-4zM208 96h4v4h-4zM216 96h4v4h-4zM232 96h4v4h-4zM72 100h4v4h-4zM120 100h4v4h-4zM208 100h4v4h-4zM204 108h4v4h-4zM100 144h4v4h-4zM112 144h4v4h-4zM104 148h4v4h-4zM108 152h4v4h-4z"/><path fill="#161616" d="M44 52h4v4h-4zM52 52h4v4h-4zM40 56h4v4h-4zM56 56h4v4h-4zM40 60h4v4h-4zM56 60h4v4h-4zM44 64h12v4h-12zM76 88h8v4h-8zM128 88h4v4h-4zM136 88h4v4h-4zM188 88h4v4h-4zM64 92h4v4h-4zM76 92h8v4h-8zM132 92h4v4h-4zM176 92h4v4h-4zM200 92h4v4h-4zM224 92h8v4h-8zM116 96h4v4h-4zM160 96h4v4h-4zM204 96h4v4h-4zM220 96h4v4h-4zM156 100h4v4h-4zM204 104h4v4h-4zM76 108h4v4h-4zM156 108h4v4h-4zM200 116h4v4h-4zM84 120h4v4h-4zM184 124h4v4h-4zM188 128h4v4h-4zM108 144h4v4h-4zM28 148h4v4h-4zM108 148h8v4h-8zM28 152h4v4h-4zM104 152h4v4h-4zM28 156h4v4h-4zM28 160h4v4h-4zM28 164h4v4h-4zM28 168h4v4h-4zM28 172h4v4h-4z"/><path fill="#171717" d="M48 52h4v4h-4zM44 60h4v4h-4zM52 60h4v4h-4zM36 76h4v4h-4zM48 76h4v4h-4zM36 80h4v4h-4zM48 80h4v4h-4zM52 84h4v4h-4zM132 88h4v4h-4zM196 92h4v4h-4zM68 96h4v4h-4zM164 96h8v4h-8zM224 96h8v4h-8zM28 100h4v4h-4zM112 100h4v4h-4zM204 100h4v4h-4zM112 104h8v4h-8zM156 104h4v4h-4zM160 112h4v4h-4zM172 112h8v4h-8zM200 112h4v4h-4zM180 116h4v4h-4zM192 128h4v4h-4zM28 136h4v4h-4zM28 140h4v4h-4zM28 144h4v4h-4zM104 156h4v4h-4z"/><path fill="#181818" d="M44 56h12v4h-12zM48 60h4v4h-4zM44 72h4v4h-4zM40 80h8v4h-8zM32 88h4v4h-4zM56 88h4v4h-4zM180 92h4v4h-4zM172 96h4v4h-4zM200 96h4v4h-4zM116 100h4v4h-4zM28 104h4v4h-4zM200 108h4v4h-4zM164 112h8v4h-8zM184 120h4v4h-4zM196 124h4v4h-4zM28 128h4v4h-4zM28 132h4v4h-4zM104 160h4v4h-4z"/><path fill="#191919" d="M40 72h4v4h-4zM40 76h8v4h-8zM36 84h4v4h-4zM48 84h4v4h-4zM184 92h12v4h-12zM176 96h4v4h-4zM160 100h4v4h-4zM200 100h4v4h-4zM200 104h4v4h-4zM28 108h4v4h-4zM172 108h4v4h-4zM28 112h4v4h-4zM180 112h4v4h-4zM80 116h4v4h-4zM184 116h4v4h-4zM196 116h4v4h-4zM196 120h4v4h-4zM28 124h4v4h-4zM188 124h4v4h-4zM92 132h4v4h-4zM104 164h4v4h-4z"/><path fill="#1c1c1c" d="M40 84h4v4h-4zM52 88h4v4h-4zM32 96h4v4h-4zM188 96h4v4h-4zM180 100h4v4h-4zM192 100h4v4h-4zM180 104h4v4h-4zM184 108h4v4h-4zM192 108h4v4h-4zM188 112h8v4h-8z"/><path fill="#1b1b1b" d="M44 84h4v4h-4zM32 92h4v4h-4zM184 96h4v4h-4zM192 96h4v4h-4zM196 100h4v4h-4zM164 104h8v4h-8zM176 104h4v4h-4zM196 104h4v4h-4zM164 108h4v4h-4zM180 108h4v4h-4zM196 108h4v4h-4zM184 112h4v4h-4zM188 116h8v4h-8zM188 120h8v4h-8zM88 128h4v4h-4zM104 172h4v4h-4z"/><path fill="#202020" d="M36 88h4v4h-4zM48 88h4v4h-4zM72 108h4v4h-4zM36 120h4v4h-4zM80 120h4v4h-4zM36 124h8v4h-8zM36 128h8v4h-8zM36 132h12v4h-12zM36 136h16v4h-16zM36 140h20v4h-20zM36 144h20v4h-20zM36 148h24v4h-24zM36 152h24v4h-24zM36 156h28v4h-28zM100 156h4v4h-4zM36 160h28v4h-28zM36 164h28v4h-28zM36 168h32v4h-32zM36 172h32v4h-32z"/><path fill="#252525" d="M40 88h4v4h-4zM40 112h4v4h-4zM76 120h4v4h-4zM52 132h4v4h-4zM88 136h4v4h-4zM60 144h4v4h-4zM96 152h4v4h-4zM68 164h4v4h-4z"/><path fill="#242424" d="M44 88h4v4h-4zM52 92h4v4h-4zM36 96h4v4h-4zM64 100h4v4h-4zM72 112h4v4h-4zM80 124h4v4h-4zM48 128h4v4h-4zM64 156h4v4h-4zM100 172h4v4h-4z"/><path fill="#232323" d="M36 92h4v4h-4zM36 100h4v4h-4zM36 104h4v4h-4zM40 116h4v4h-4zM44 124h4v4h-4zM56 140h4v4h-4zM92 140h4v4h-4zM60 148h4v4h-4zM68 168h4v4h-4zM100 168h4v4h-4z"/><path fill="#292929" d="M40 92h4v4h-4zM40 100h4v4h-4zM40 104h4v4h-4zM68 112h4v4h-4zM76 124h4v4h-4zM52 128h4v4h-4zM56 132h4v4h-4zM84 136h4v4h-4zM88 140h4v4h-4zM68 156h4v4h-4zM96 168h4v4h-4zM96 172h4v4h-4z"/><path fill="#2a2a2a" d="M44 92h4v4h-4zM40 96h4v4h-4zM52 96h4v4h-4zM44 112h4v4h-4zM48 120h4v4h-4zM72 120h4v4h-4zM80 132h4v4h-4zM60 136h4v4h-4zM64 140h4v4h-4zM64 144h4v4h-4zM88 144h4v4h-4zM68 152h4v4h-4zM76 172h4v4h-4z"/><path fill="#282828" d="M48 92h4v4h-4zM60 100h4v4h-4zM64 104h4v4h-4zM44 116h4v4h-4zM48 124h4v4h-4zM80 128h4v4h-4zM60 140h4v4h-4zM64 148h4v4h-4zM92 148h4v4h-4zM68 160h4v4h-4zM96 160h4v4h-4zM96 164h4v4h-4zM72 168h4v4h-4z"/><path fill="#1f1f1f" d="M56 92h4v4h-4zM32 112h4v4h-4zM32 116h4v4h-4zM32 120h4v4h-4zM32 124h4v4h-4zM92 136h4v4h-4zM96 144h4v4h-4z"/><path fill="#1a1a1a" d="M60 92h4v4h-4zM180 96h4v4h-4zM196 96h4v4h-4zM164 100h16v4h-16zM72 104h4v4h-4zM160 104h4v4h-4zM172 104h4v4h-4zM160 108h4v4h-4zM168 108h4v4h-4zM176 108h4v4h-4zM196 112h4v4h-4zM28 116h4v4h-4zM28 120h4v4h-4zM192 124h4v4h-4zM96 140h4v4h-4zM100 148h4v4h-4zM104 168h4v4h-4z"/><path fill="#2b2b2b" d="M44 96h8v4h-8zM44 100h4v4h-4zM56 100h4v4h-4zM44 104h4v4h-4zM60 104h4v4h-4zM44 108h4v4h-4zM64 108h4v4h-4zM48 112h4v4h-4zM48 116h8v4h-8zM68 116h4v4h-4zM52 120h20v4h-20zM52 124h24v4h-24zM56 128h24v4h-24zM60 132h20v4h-20zM64 136h20v4h-20zM68 140h20v4h-20zM68 144h20v4h-20zM68 148h8v4h-8zM72 164h4v4h-4zM92 168h4v4h-4zM80 172h16v4h-16z"/><path fill="#262626" d="M56 96h4v4h-4zM68 108h4v4h-4zM44 120h4v4h-4zM84 132h4v4h-4zM56 136h4v4h-4zM92 144h4v4h-4zM64 152h4v4h-4zM72 172h4v4h-4z"/><path fill="#222222" d="M60 96h4v4h-4zM68 104h4v4h-4zM36 108h4v4h-4zM84 128h4v4h-4zM52 136h4v4h-4zM96 148h4v4h-4zM64 160h4v4h-4zM100 164h4v4h-4z"/><path fill="#1d1d1d" d="M64 96h4v4h-4zM32 100h4v4h-4zM184 100h8v4h-8zM184 104h12v4h-12zM188 108h4v4h-4zM76 112h4v4h-4zM32 144h4v4h-4zM32 148h4v4h-4zM32 152h4v4h-4zM32 156h4v4h-4zM32 160h4v4h-4zM32 164h4v4h-4zM32 168h4v4h-4zM32 172h4v4h-4z"/><path fill="#2c2c2c" d="M48 100h8v4h-8zM48 104h12v4h-12zM48 108h16v4h-16zM52 112h16v4h-16zM56 116h12v4h-12zM76 148h4v4h-4zM72 152h4v4h-4zM92 152h4v4h-4zM76 168h4v4h-4z"/><path fill="#1e1e1e" d="M68 100h4v4h-4zM32 104h4v4h-4zM32 108h4v4h-4zM84 124h4v4h-4zM32 128h4v4h-4zM32 132h4v4h-4zM32 136h4v4h-4zM32 140h4v4h-4zM100 152h4v4h-4z"/><path fill="#272727" d="M40 108h4v4h-4zM72 116h4v4h-4zM96 156h4v4h-4z"/><path fill="#212121" d="M36 112h4v4h-4zM36 116h4v4h-4zM76 116h4v4h-4zM40 120h4v4h-4zM44 128h4v4h-4zM48 132h4v4h-4zM88 132h4v4h-4zM56 144h4v4h-4zM60 152h4v4h-4zM100 160h4v4h-4zM64 164h4v4h-4zM68 172h4v4h-4z"/><path fill="#2d2d2d" d="M80 148h4v4h-4zM88 148h4v4h-4zM80 168h4v4h-4zM88 168h4v4h-4z"/><path fill="#2e2e2e" d="M84 148h4v4h-4zM72 160h4v4h-4zM92 164h4v4h-4zM84 168h4v4h-4z"/><path fill="#303030" d="M76 152h4v4h-4zM92 156h4v4h-4zM76 164h4v4h-4z"/><path fill="#333333" d="M80 152h4v4h-4zM80 164h4v4h-4z"/><path fill="#343434" d="M84 152h4v4h-4zM76 156h4v4h-4zM76 160h4v4h-4zM84 164h4v4h-4z"/><path fill="#323232" d="M88 152h4v4h-4zM88 164h4v4h-4z"/><path fill="#2f2f2f" d="M72 156h4v4h-4z"/><path fill="#363636" d="M80 156h8v4h-8zM80 160h8v4h-8z"/><path fill="#353535" d="M88 156h4v4h-4zM88 160h4v4h-4z"/><path fill="#313131" d="M92 160h4v4h-4z"/></g></g><rect x="0" y="0" width="278.7" height="163.8" fill="none" stroke="#1a1a40" stroke-width="0.6"/></g>
<g transform="translate(814.3 496.0)"><clipPath id="hc12"><rect x="0" y="0" width="278.4" height="163.8"/></clipPath><g clip-path="url(#hc12)"><g filter="url(#hb)"><rect x="-12" y="-12" width="302" height="188" fill="#040404"/><path fill="#030303" d="M-12 -12h24v4h-24zM24 -12h264v4h-264zM-12 -8h16v4h-16zM28 -8h260v4h-260zM-12 -4h12v4h-12zM32 -4h256v4h-256zM-12 0h12v4h-12zM32 0h256v4h-256zM-12 4h12v4h-12zM36 4h124v4h-124zM172 4h116v4h-116zM-12 8h8v4h-8zM36 8h40v4h-40zM96 8h48v4h-48zM192 8h96v4h-96zM-12 12h8v4h-8zM36 12h36v4h-36zM100 12h36v4h-36zM200 12h88v4h-88zM-12 16h8v4h-8zM36 16h16v4h-16zM100 16h32v4h-32zM208 16h80v4h-80zM-12 20h8v4h-8zM36 20h12v4h-12zM104 20h24v4h-24zM220 20h68v4h-68zM-12 24h12v4h-12zM36 24h8v4h-8zM104 24h24v4h-24zM228 24h32v4h-32zM268 24h20v4h-20zM-12 28h12v4h-12zM32 28h12v4h-12zM104 28h20v4h-20zM244 28h4v4h-4zM276 28h12v4h-12zM-12 32h16v4h-16zM32 32h8v4h-8zM108 32h16v4h-16zM280 32h8v4h-8zM-12 36h20v4h-20zM28 36h12v4h-12zM108 36h12v4h-12zM-12 40h48v4h-48zM-12 44h44v4h-44zM-12 48h44v4h-44zM-12 52h40v4h-40zM-12 56h40v4h-40zM-12 60h40v4h-40zM-12 64h44v4h-44zM-12 68h44v4h-44zM56 68h16v4h-16zM-12 72h40v4h-40zM72 72h4v4h-4zM-12 76h32v4h-32zM76 76h4v4h-4zM-12 80h24v4h-24zM-12 84h20v4h-20zM-12 88h16v4h-16zM-12 92h16v4h-16zM-12 96h12v4h-12zM-12 100h12v4h-12zM-12 104h8v4h-8zM-12 108h8v4h-8zM-12 112h8v4h-8zM-12 116h8v4h-8zM-12 120h12v4h-12zM-12 124h12v4h-12zM-12 128h16v4h-16zM-12 132h20v4h-20zM-12 136h36v4h-36zM-12 140h36v4h-36zM-12 144h36v4h-36zM-12 148h36v4h-36zM-12 152h36v4h-36zM108 152h8v4h-8zM-12 156h36v4h-36zM108 156h16v4h-16zM280 156h8v4h-8zM-12 160h36v4h-36zM108 160h16v4h-16zM264 160h24v4h-24zM-12 164h36v4h-36zM108 164h20v4h-20zM156 164h20v4h-20zM236 164h52v4h-52zM-12 168h36v4h-36zM108 168h20v4h-20zM152 168h136v4h-136zM-12 172h36v4h-36zM108 172h24v4h-24zM152 172h136v4h-136z"/><path fill="#050505" d="M8 -4h4v4h-4zM4 0h4v4h-4zM28 4h4v4h-4zM0 8h4v4h-4zM0 12h4v4h-4zM80 12h8v4h-8zM148 12h8v4h-8zM180 12h8v4h-8zM0 16h4v4h-4zM76 16h4v4h-4zM92 16h4v4h-4zM140 16h4v4h-4zM188 16h8v4h-8zM0 20h4v4h-4zM28 20h4v4h-4zM52 20h8v4h-8zM64 20h12v4h-12zM136 20h4v4h-4zM196 20h4v4h-4zM28 24h4v4h-4zM48 24h4v4h-4zM96 24h4v4h-4zM136 24h4v4h-4zM200 24h8v4h-8zM4 28h4v4h-4zM24 28h4v4h-4zM132 28h4v4h-4zM208 28h12v4h-12zM256 28h4v4h-4zM268 28h4v4h-4zM12 32h12v4h-12zM44 32h4v4h-4zM132 32h4v4h-4zM220 32h8v4h-8zM252 32h4v4h-4zM44 36h4v4h-4zM100 36h4v4h-4zM132 36h8v4h-8zM224 36h12v4h-12zM272 36h4v4h-4zM44 40h4v4h-4zM100 40h4v4h-4zM132 40h8v4h-8zM232 40h20v4h-20zM272 40h4v4h-4zM36 44h4v4h-4zM100 44h4v4h-4zM124 44h12v4h-12zM272 44h4v4h-4zM100 48h4v4h-4zM116 48h8v4h-8zM272 48h12v4h-12zM32 52h4v4h-4zM100 52h4v4h-4zM108 52h8v4h-8zM280 52h8v4h-8zM96 56h16v4h-16zM52 60h16v4h-16zM72 60h4v4h-4zM96 60h12v4h-12zM32 64h4v4h-4zM76 64h8v4h-8zM88 64h16v4h-16zM48 68h4v4h-4zM84 68h20v4h-20zM36 72h4v4h-4zM60 72h4v4h-4zM96 72h4v4h-4zM24 76h4v4h-4zM96 76h4v4h-4zM16 80h4v4h-4zM92 80h4v4h-4zM92 84h4v4h-4zM8 88h4v4h-4zM76 88h4v4h-4zM88 88h4v4h-4zM88 92h4v4h-4zM4 96h4v4h-4zM84 100h4v4h-4zM0 104h4v4h-4zM84 104h4v4h-4zM0 108h4v4h-4zM80 108h8v4h-8zM0 112h4v4h-4zM0 116h4v4h-4zM284 116h4v4h-4zM284 120h4v4h-4zM4 124h4v4h-4zM284 124h4v4h-4zM8 128h16v4h-16zM108 128h16v4h-16zM284 128h4v4h-4zM24 132h4v4h-4zM116 132h12v4h-12zM280 132h8v4h-8zM24 136h4v4h-4zM120 136h8v4h-8zM276 136h12v4h-12zM24 140h4v4h-4zM124 140h4v4h-4zM272 140h12v4h-12zM124 144h4v4h-4zM268 144h12v4h-12zM156 148h12v4h-12zM260 148h12v4h-12zM156 152h4v4h-4zM164 152h12v4h-12zM248 152h12v4h-12zM128 156h4v4h-4zM152 156h4v4h-4zM176 156h32v4h-32zM216 156h28v4h-28zM132 164h4v4h-4zM148 164h4v4h-4zM136 168h12v4h-12z"/><path fill="#060606" d="M12 -4h12v4h-12zM24 0h4v4h-4zM4 4h4v4h-4zM28 8h4v4h-4zM28 12h4v4h-4zM156 12h8v4h-8zM172 12h8v4h-8zM28 16h4v4h-4zM80 16h12v4h-12zM144 16h4v4h-4zM60 20h4v4h-4zM92 20h4v4h-4zM140 20h4v4h-4zM192 20h4v4h-4zM4 24h4v4h-4zM24 24h4v4h-4zM52 24h4v4h-4zM196 24h4v4h-4zM8 28h4v4h-4zM20 28h4v4h-4zM48 28h4v4h-4zM96 28h4v4h-4zM136 28h4v4h-4zM200 28h8v4h-8zM260 28h8v4h-8zM136 32h4v4h-4zM212 32h8v4h-8zM140 36h4v4h-4zM220 36h4v4h-4zM252 36h4v4h-4zM140 40h4v4h-4zM228 40h4v4h-4zM252 40h4v4h-4zM40 44h4v4h-4zM136 44h8v4h-8zM236 44h20v4h-20zM124 48h8v4h-8zM268 48h4v4h-4zM96 52h4v4h-4zM116 52h8v4h-8zM272 52h8v4h-8zM32 56h4v4h-4zM52 56h8v4h-8zM64 56h12v4h-12zM112 56h4v4h-4zM280 56h8v4h-8zM32 60h4v4h-4zM76 60h4v4h-4zM92 60h4v4h-4zM108 60h4v4h-4zM284 60h4v4h-4zM84 64h4v4h-4zM104 64h4v4h-4zM36 68h4v4h-4zM104 68h4v4h-4zM56 72h4v4h-4zM100 72h4v4h-4zM100 76h4v4h-4zM72 80h4v4h-4zM96 80h4v4h-4zM96 84h4v4h-4zM92 88h4v4h-4zM8 92h4v4h-4zM88 96h4v4h-4zM4 100h4v4h-4zM88 100h4v4h-4zM88 104h4v4h-4zM284 104h4v4h-4zM88 108h4v4h-4zM284 108h4v4h-4zM280 112h8v4h-8zM280 116h4v4h-4zM4 120h4v4h-4zM280 120h4v4h-4zM8 124h4v4h-4zM104 124h28v4h-28zM276 124h8v4h-8zM104 128h4v4h-4zM124 128h8v4h-8zM276 128h8v4h-8zM104 132h4v4h-4zM128 132h4v4h-4zM276 132h4v4h-4zM104 136h4v4h-4zM272 136h4v4h-4zM104 140h4v4h-4zM268 140h4v4h-4zM104 144h4v4h-4zM156 144h12v4h-12zM264 144h4v4h-4zM104 148h4v4h-4zM128 148h4v4h-4zM152 148h4v4h-4zM168 148h4v4h-4zM252 148h8v4h-8zM104 152h4v4h-4zM128 152h4v4h-4zM152 152h4v4h-4zM176 152h8v4h-8zM200 152h48v4h-48zM104 156h4v4h-4zM104 160h4v4h-4zM148 160h4v4h-4zM104 164h4v4h-4zM144 164h4v4h-4zM104 168h4v4h-4zM104 172h4v4h-4z"/><path fill="#070707" d="M8 0h4v4h-4zM24 4h4v4h-4zM4 8h4v4h-4zM164 12h8v4h-8zM148 16h4v4h-4zM184 16h4v4h-4zM4 20h4v4h-4zM76 20h4v4h-4zM188 20h4v4h-4zM68 24h8v4h-8zM140 24h4v4h-4zM192 24h4v4h-4zM12 28h8v4h-8zM196 28h4v4h-4zM48 32h4v4h-4zM96 32h4v4h-4zM140 32h4v4h-4zM208 32h4v4h-4zM256 32h4v4h-4zM144 40h4v4h-4zM224 40h4v4h-4zM44 44h4v4h-4zM144 44h8v4h-8zM228 44h8v4h-8zM268 44h4v4h-4zM36 48h4v4h-4zM96 48h4v4h-4zM132 48h12v4h-12zM236 48h32v4h-32zM124 52h4v4h-4zM264 52h8v4h-8zM60 56h4v4h-4zM92 56h4v4h-4zM116 56h4v4h-4zM276 56h4v4h-4zM80 60h4v4h-4zM88 60h4v4h-4zM112 60h4v4h-4zM280 60h4v4h-4zM48 64h4v4h-4zM108 64h4v4h-4zM284 64h4v4h-4zM44 68h4v4h-4zM40 72h16v4h-16zM104 72h4v4h-4zM68 76h4v4h-4zM100 80h4v4h-4zM12 84h4v4h-4zM76 92h4v4h-4zM92 92h4v4h-4zM284 100h4v4h-4zM4 104h4v4h-4zM280 108h4v4h-4zM4 116h4v4h-4zM276 116h4v4h-4zM104 120h4v4h-4zM120 120h16v4h-16zM276 120h4v4h-4zM132 124h4v4h-4zM132 128h4v4h-4zM272 128h4v4h-4zM272 132h4v4h-4zM128 136h4v4h-4zM268 136h4v4h-4zM128 140h4v4h-4zM152 140h16v4h-16zM264 140h4v4h-4zM128 144h4v4h-4zM152 144h4v4h-4zM168 144h4v4h-4zM260 144h4v4h-4zM172 148h4v4h-4zM204 148h12v4h-12zM248 148h4v4h-4zM184 152h16v4h-16zM148 156h4v4h-4zM132 160h4v4h-4zM136 164h8v4h-8z"/><path fill="#090909" d="M12 0h8v4h-8zM8 4h4v4h-4zM24 8h4v4h-4zM24 16h4v4h-4zM156 16h4v4h-4zM176 16h4v4h-4zM84 20h4v4h-4zM184 20h4v4h-4zM20 24h4v4h-4zM76 24h4v4h-4zM144 24h4v4h-4zM188 24h4v4h-4zM52 28h4v4h-4zM68 28h8v4h-8zM192 32h8v4h-8zM212 36h4v4h-4zM152 40h4v4h-4zM164 44h16v4h-16zM224 44h4v4h-4zM40 48h8v4h-8zM176 48h4v4h-4zM228 48h4v4h-4zM48 52h4v4h-4zM64 52h4v4h-4zM92 52h4v4h-4zM132 52h8v4h-8zM152 52h24v4h-24zM236 52h8v4h-8zM48 56h4v4h-4zM124 56h4v4h-4zM264 56h4v4h-4zM116 60h4v4h-4zM272 60h4v4h-4zM36 64h4v4h-4zM112 64h4v4h-4zM280 68h4v4h-4zM108 72h4v4h-4zM284 72h4v4h-4zM284 76h4v4h-4zM20 80h4v4h-4zM104 80h4v4h-4zM284 80h4v4h-4zM284 84h4v4h-4zM284 88h4v4h-4zM284 92h4v4h-4zM92 100h4v4h-4zM280 100h4v4h-4zM76 104h4v4h-4zM92 104h4v4h-4zM276 108h4v4h-4zM84 112h4v4h-4zM96 112h4v4h-4zM132 112h4v4h-4zM272 112h4v4h-4zM100 116h4v4h-4zM124 116h4v4h-4zM136 116h4v4h-4zM8 120h4v4h-4zM140 120h4v4h-4zM140 124h4v4h-4zM268 124h4v4h-4zM136 128h4v4h-4zM268 128h4v4h-4zM148 132h16v4h-16zM132 136h4v4h-4zM164 136h4v4h-4zM168 140h4v4h-4zM208 144h4v4h-4zM252 144h4v4h-4zM180 148h4v4h-4zM196 148h4v4h-4zM228 148h12v4h-12zM148 152h4v4h-4zM136 160h4v4h-4zM144 160h4v4h-4zM28 172h4v4h-4z"/><path fill="#080808" d="M20 0h4v4h-4zM4 12h4v4h-4zM4 16h4v4h-4zM152 16h4v4h-4zM180 16h4v4h-4zM24 20h4v4h-4zM80 20h4v4h-4zM88 20h4v4h-4zM144 20h4v4h-4zM8 24h4v4h-4zM56 24h12v4h-12zM92 24h4v4h-4zM140 28h4v4h-4zM192 28h4v4h-4zM200 32h8v4h-8zM268 32h4v4h-4zM48 36h4v4h-4zM96 36h4v4h-4zM144 36h4v4h-4zM216 36h4v4h-4zM48 40h4v4h-4zM96 40h4v4h-4zM148 40h4v4h-4zM220 40h4v4h-4zM48 44h4v4h-4zM96 44h4v4h-4zM152 44h12v4h-12zM256 44h4v4h-4zM48 48h4v4h-4zM144 48h32v4h-32zM232 48h4v4h-4zM52 52h4v4h-4zM68 52h8v4h-8zM128 52h4v4h-4zM244 52h20v4h-20zM76 56h4v4h-4zM120 56h4v4h-4zM268 56h8v4h-8zM48 60h4v4h-4zM84 60h4v4h-4zM276 60h4v4h-4zM280 64h4v4h-4zM40 68h4v4h-4zM108 68h4v4h-4zM284 68h4v4h-4zM28 76h4v4h-4zM104 76h4v4h-4zM100 84h4v4h-4zM96 88h4v4h-4zM8 96h4v4h-4zM76 96h4v4h-4zM92 96h4v4h-4zM284 96h4v4h-4zM76 100h4v4h-4zM280 104h4v4h-4zM4 108h4v4h-4zM92 108h4v4h-4zM4 112h4v4h-4zM88 112h8v4h-8zM276 112h4v4h-4zM128 116h8v4h-8zM272 116h4v4h-4zM100 120h4v4h-4zM108 120h12v4h-12zM136 120h4v4h-4zM272 120h4v4h-4zM12 124h8v4h-8zM136 124h4v4h-4zM272 124h4v4h-4zM24 128h4v4h-4zM132 132h4v4h-4zM268 132h4v4h-4zM152 136h12v4h-12zM264 136h4v4h-4zM260 140h4v4h-4zM172 144h4v4h-4zM256 144h4v4h-4zM176 148h4v4h-4zM200 148h4v4h-4zM216 148h12v4h-12zM240 148h8v4h-8zM132 156h4v4h-4z"/><path fill="#0c0c0c" d="M12 4h4v4h-4zM8 8h4v4h-4zM8 16h4v4h-4zM20 20h4v4h-4zM152 20h4v4h-4zM80 24h4v4h-4zM148 24h4v4h-4zM184 24h4v4h-4zM56 28h4v4h-4zM76 28h4v4h-4zM92 32h4v4h-4zM148 32h4v4h-4zM72 36h4v4h-4zM152 36h4v4h-4zM164 40h8v4h-8zM212 40h4v4h-4zM68 44h8v4h-8zM180 52h4v4h-4zM36 56h4v4h-4zM136 56h4v4h-4zM148 56h12v4h-12zM176 56h4v4h-4zM232 56h4v4h-4zM36 60h4v4h-4zM124 60h4v4h-4zM264 60h4v4h-4zM120 64h4v4h-4zM116 68h4v4h-4zM112 76h4v4h-4zM280 80h4v4h-4zM108 84h4v4h-4zM280 84h4v4h-4zM12 88h4v4h-4zM280 88h4v4h-4zM96 96h4v4h-4zM276 100h4v4h-4zM8 104h4v4h-4zM96 108h4v4h-4zM128 108h4v4h-4zM80 112h4v4h-4zM100 112h4v4h-4zM268 112h4v4h-4zM112 116h4v4h-4zM264 116h4v4h-4zM144 120h4v4h-4zM264 120h4v4h-4zM148 124h4v4h-4zM168 128h4v4h-4zM140 132h4v4h-4zM260 132h4v4h-4zM172 136h4v4h-4zM256 136h4v4h-4zM204 140h12v4h-12zM180 144h4v4h-4zM196 144h4v4h-4zM224 144h8v4h-8zM236 144h8v4h-8zM28 148h4v4h-4zM28 152h4v4h-4zM136 156h4v4h-4z"/><path fill="#0d0d0d" d="M16 4h4v4h-4zM20 8h4v4h-4zM8 12h4v4h-4zM84 24h4v4h-4zM60 28h4v4h-4zM148 28h4v4h-4zM184 28h4v4h-4zM184 32h4v4h-4zM52 36h4v4h-4zM68 36h4v4h-4zM92 36h4v4h-4zM180 36h4v4h-4zM72 40h4v4h-4zM192 40h4v4h-4zM52 44h4v4h-4zM92 44h4v4h-4zM188 44h4v4h-4zM216 44h4v4h-4zM56 48h4v4h-4zM64 48h4v4h-4zM76 48h4v4h-4zM184 48h4v4h-4zM44 52h4v4h-4zM80 52h4v4h-4zM88 52h4v4h-4zM224 52h4v4h-4zM140 56h8v4h-8zM228 56h4v4h-4zM128 60h4v4h-4zM164 60h12v4h-12zM236 60h16v4h-16zM260 60h4v4h-4zM40 64h4v4h-4zM276 72h4v4h-4zM36 76h4v4h-4zM112 80h4v4h-4zM104 88h4v4h-4zM100 92h4v4h-4zM276 96h4v4h-4zM96 100h4v4h-4zM96 104h4v4h-4zM172 104h8v4h-8zM272 104h4v4h-4zM8 108h4v4h-4zM140 108h4v4h-4zM172 108h8v4h-8zM8 112h4v4h-4zM120 112h4v4h-4zM16 120h4v4h-4zM152 124h4v4h-4zM164 124h8v4h-8zM260 128h4v4h-4zM136 136h4v4h-4zM144 136h4v4h-4zM28 140h4v4h-4zM176 140h4v4h-4zM216 140h4v4h-4zM248 140h4v4h-4zM28 144h4v4h-4zM232 144h4v4h-4z"/><path fill="#0b0b0b" d="M20 4h4v4h-4zM164 16h8v4h-8zM8 20h4v4h-4zM180 20h4v4h-4zM16 24h4v4h-4zM88 24h4v4h-4zM64 28h4v4h-4zM52 32h4v4h-4zM68 32h8v4h-8zM188 32h4v4h-4zM260 32h8v4h-8zM184 36h8v4h-8zM196 36h12v4h-12zM268 36h4v4h-4zM160 40h4v4h-4zM172 40h8v4h-8zM184 40h8v4h-8zM184 44h4v4h-4zM220 44h4v4h-4zM92 48h4v4h-4zM224 48h4v4h-4zM228 52h4v4h-4zM84 56h4v4h-4zM132 56h4v4h-4zM160 56h16v4h-16zM236 56h20v4h-20zM268 60h4v4h-4zM44 64h4v4h-4zM272 64h4v4h-4zM276 68h4v4h-4zM112 72h4v4h-4zM64 76h4v4h-4zM280 76h4v4h-4zM108 80h4v4h-4zM280 92h4v4h-4zM76 108h4v4h-4zM132 108h8v4h-8zM272 108h4v4h-4zM124 112h4v4h-4zM140 112h4v4h-4zM8 116h4v4h-4zM108 116h4v4h-4zM116 116h4v4h-4zM12 120h4v4h-4zM100 124h4v4h-4zM264 124h4v4h-4zM160 128h8v4h-8zM136 132h4v4h-4zM144 132h4v4h-4zM168 132h4v4h-4zM132 140h4v4h-4zM252 140h4v4h-4zM132 144h4v4h-4zM200 144h4v4h-4zM220 144h4v4h-4zM244 144h4v4h-4zM132 148h4v4h-4zM28 156h4v4h-4zM144 156h4v4h-4zM28 160h4v4h-4z"/><path fill="#0f0f0f" d="M12 8h4v4h-4zM20 12h4v4h-4zM172 20h4v4h-4zM152 24h4v4h-4zM180 24h4v4h-4zM80 28h4v4h-4zM56 32h4v4h-4zM64 32h4v4h-4zM152 32h4v4h-4zM180 32h4v4h-4zM200 40h8v4h-8zM260 40h8v4h-8zM76 44h4v4h-4zM60 48h4v4h-4zM84 52h4v4h-4zM184 52h4v4h-4zM44 56h4v4h-4zM132 60h4v4h-4zM152 60h8v4h-8zM228 60h4v4h-4zM124 64h4v4h-4zM168 64h8v4h-8zM236 64h8v4h-8zM120 68h4v4h-4zM40 76h4v4h-4zM116 76h4v4h-4zM68 80h4v4h-4zM112 84h4v4h-4zM108 88h4v4h-4zM276 92h4v4h-4zM164 100h4v4h-4zM176 100h4v4h-4zM128 104h4v4h-4zM184 104h4v4h-4zM144 108h4v4h-4zM168 108h4v4h-4zM184 108h4v4h-4zM200 108h16v4h-16zM104 112h4v4h-4zM116 112h4v4h-4zM144 112h4v4h-4zM180 112h4v4h-4zM200 112h12v4h-12zM12 116h4v4h-4zM172 116h8v4h-8zM260 116h4v4h-4zM148 120h4v4h-4zM168 120h8v4h-8zM172 124h4v4h-4zM100 128h4v4h-4zM28 132h4v4h-4zM140 136h4v4h-4zM176 136h4v4h-4zM204 136h4v4h-4zM212 136h4v4h-4zM252 136h4v4h-4zM136 140h4v4h-4zM144 140h4v4h-4zM220 140h4v4h-4zM244 140h4v4h-4zM144 148h4v4h-4zM136 152h4v4h-4z"/><path fill="#101010" d="M16 8h4v4h-4zM12 16h4v4h-4zM160 20h4v4h-4zM180 28h4v4h-4zM76 36h4v4h-4zM160 36h4v4h-4zM172 36h4v4h-4zM76 40h4v4h-4zM64 44h4v4h-4zM192 44h4v4h-4zM212 44h4v4h-4zM88 48h4v4h-4zM188 48h4v4h-4zM220 52h4v4h-4zM224 56h4v4h-4zM136 60h16v4h-16zM180 60h4v4h-4zM164 64h4v4h-4zM176 64h4v4h-4zM232 64h4v4h-4zM244 64h4v4h-4zM264 64h4v4h-4zM272 72h4v4h-4zM116 80h4v4h-4zM276 80h4v4h-4zM276 84h4v4h-4zM276 88h4v4h-4zM104 92h4v4h-4zM100 96h4v4h-4zM164 96h12v4h-12zM180 100h4v4h-4zM220 100h12v4h-12zM272 100h4v4h-4zM144 104h4v4h-4zM164 104h4v4h-4zM204 104h20v4h-20zM100 108h4v4h-4zM188 108h12v4h-12zM216 108h4v4h-4zM264 108h4v4h-4zM108 112h4v4h-4zM168 112h4v4h-4zM196 112h4v4h-4zM212 112h4v4h-4zM260 112h4v4h-4zM168 116h4v4h-4zM204 116h8v4h-8zM96 120h4v4h-4zM24 124h4v4h-4zM256 128h4v4h-4zM180 140h4v4h-4zM196 140h4v4h-4zM224 140h4v4h-4zM240 140h4v4h-4zM144 144h4v4h-4zM100 152h4v4h-4zM100 156h4v4h-4zM100 160h4v4h-4zM100 164h4v4h-4zM100 168h4v4h-4zM100 172h4v4h-4z"/><path fill="#111111" d="M12 12h4v4h-4zM16 16h4v4h-4zM164 20h8v4h-8zM84 28h4v4h-4zM152 28h4v4h-4zM60 32h4v4h-4zM64 36h4v4h-4zM164 36h8v4h-8zM260 36h8v4h-8zM56 44h4v4h-4zM80 48h4v4h-4zM216 48h4v4h-4zM40 56h4v4h-4zM184 56h4v4h-4zM40 60h4v4h-4zM128 64h4v4h-4zM160 64h4v4h-4zM228 64h4v4h-4zM248 64h16v4h-16zM124 68h4v4h-4zM168 68h8v4h-8zM236 68h4v4h-4zM268 68h4v4h-4zM120 72h4v4h-4zM44 76h4v4h-4zM56 76h4v4h-4zM116 84h4v4h-4zM112 88h4v4h-4zM12 96h4v4h-4zM160 96h4v4h-4zM176 96h4v4h-4zM224 96h12v4h-12zM132 100h16v4h-16zM160 100h4v4h-4zM212 100h8v4h-8zM232 100h8v4h-8zM124 104h4v4h-4zM148 104h4v4h-4zM188 104h16v4h-16zM224 104h12v4h-12zM268 104h4v4h-4zM120 108h4v4h-4zM220 108h4v4h-4zM112 112h4v4h-4zM184 112h4v4h-4zM192 112h4v4h-4zM200 116h4v4h-4zM256 116h4v4h-4zM164 120h4v4h-4zM176 120h4v4h-4zM204 120h8v4h-8zM256 120h4v4h-4zM256 124h4v4h-4zM100 132h4v4h-4zM176 132h4v4h-4zM204 132h8v4h-8zM252 132h4v4h-4zM100 136h4v4h-4zM200 136h4v4h-4zM216 136h4v4h-4zM248 136h4v4h-4zM100 140h4v4h-4zM140 140h4v4h-4zM228 140h12v4h-12zM100 144h4v4h-4zM136 144h4v4h-4zM100 148h4v4h-4zM136 148h4v4h-4zM140 152h4v4h-4z"/><path fill="#121212" d="M16 12h4v4h-4zM156 24h4v4h-4zM176 24h4v4h-4zM88 32h4v4h-4zM156 32h4v4h-4zM176 32h4v4h-4zM56 36h4v4h-4zM64 40h4v4h-4zM60 44h4v4h-4zM196 44h4v4h-4zM208 44h4v4h-4zM188 52h4v4h-4zM224 60h4v4h-4zM132 64h4v4h-4zM156 64h4v4h-4zM180 64h4v4h-4zM164 68h4v4h-4zM176 68h4v4h-4zM232 68h4v4h-4zM240 68h4v4h-4zM48 76h4v4h-4zM120 76h4v4h-4zM72 92h4v4h-4zM164 92h12v4h-12zM228 92h8v4h-8zM216 96h8v4h-8zM236 96h4v4h-4zM272 96h4v4h-4zM100 100h4v4h-4zM128 100h4v4h-4zM148 100h12v4h-12zM184 100h4v4h-4zM208 100h4v4h-4zM240 100h4v4h-4zM100 104h4v4h-4zM160 104h4v4h-4zM236 104h8v4h-8zM148 108h4v4h-4zM164 108h4v4h-4zM224 108h4v4h-4zM260 108h4v4h-4zM76 112h4v4h-4zM188 112h4v4h-4zM216 112h4v4h-4zM256 112h4v4h-4zM88 116h4v4h-4zM148 116h4v4h-4zM180 116h4v4h-4zM212 116h4v4h-4zM152 120h4v4h-4zM176 124h4v4h-4zM204 124h8v4h-8zM28 128h4v4h-4zM176 128h4v4h-4zM204 128h8v4h-8zM212 132h4v4h-4zM184 140h4v4h-4zM192 140h4v4h-4z"/><path fill="#0a0a0a" d="M24 12h4v4h-4zM160 16h4v4h-4zM172 16h4v4h-4zM148 20h4v4h-4zM12 24h4v4h-4zM92 28h4v4h-4zM144 28h4v4h-4zM188 28h4v4h-4zM144 32h4v4h-4zM148 36h4v4h-4zM192 36h4v4h-4zM208 36h4v4h-4zM256 36h4v4h-4zM156 40h4v4h-4zM180 40h4v4h-4zM216 40h4v4h-4zM256 40h4v4h-4zM268 40h4v4h-4zM180 44h4v4h-4zM260 44h8v4h-8zM52 48h4v4h-4zM68 48h8v4h-8zM180 48h4v4h-4zM36 52h4v4h-4zM56 52h8v4h-8zM76 52h4v4h-4zM140 52h12v4h-12zM176 52h4v4h-4zM232 52h4v4h-4zM80 56h4v4h-4zM88 56h4v4h-4zM128 56h4v4h-4zM256 56h8v4h-8zM120 60h4v4h-4zM116 64h4v4h-4zM276 64h4v4h-4zM112 68h4v4h-4zM280 72h4v4h-4zM32 76h4v4h-4zM108 76h4v4h-4zM72 84h4v4h-4zM104 84h4v4h-4zM100 88h4v4h-4zM96 92h4v4h-4zM280 96h4v4h-4zM8 100h4v4h-4zM276 104h4v4h-4zM128 112h4v4h-4zM136 112h4v4h-4zM96 116h4v4h-4zM104 116h4v4h-4zM120 116h4v4h-4zM140 116h4v4h-4zM268 116h4v4h-4zM268 120h4v4h-4zM20 124h4v4h-4zM144 124h4v4h-4zM140 128h20v4h-20zM264 128h4v4h-4zM164 132h4v4h-4zM264 132h4v4h-4zM148 136h4v4h-4zM168 136h4v4h-4zM260 136h4v4h-4zM148 140h4v4h-4zM172 140h4v4h-4zM256 140h4v4h-4zM148 144h4v4h-4zM176 144h4v4h-4zM204 144h4v4h-4zM212 144h8v4h-8zM248 144h4v4h-4zM148 148h4v4h-4zM184 148h12v4h-12zM132 152h4v4h-4zM140 160h4v4h-4zM28 164h4v4h-4zM28 168h4v4h-4z"/><path fill="#0e0e0e" d="M20 16h4v4h-4zM12 20h8v4h-8zM156 20h4v4h-4zM176 20h4v4h-4zM88 28h4v4h-4zM76 32h4v4h-4zM156 36h4v4h-4zM176 36h4v4h-4zM52 40h4v4h-4zM68 40h4v4h-4zM92 40h4v4h-4zM196 40h4v4h-4zM208 40h4v4h-4zM220 48h4v4h-4zM40 52h4v4h-4zM180 56h4v4h-4zM44 60h4v4h-4zM160 60h4v4h-4zM176 60h4v4h-4zM232 60h4v4h-4zM252 60h8v4h-8zM268 64h4v4h-4zM272 68h4v4h-4zM116 72h4v4h-4zM60 76h4v4h-4zM276 76h4v4h-4zM24 80h4v4h-4zM16 84h4v4h-4zM72 88h4v4h-4zM12 92h4v4h-4zM168 100h8v4h-8zM132 104h12v4h-12zM168 104h4v4h-4zM180 104h4v4h-4zM124 108h4v4h-4zM180 108h4v4h-4zM268 108h4v4h-4zM172 112h8v4h-8zM264 112h4v4h-4zM92 116h4v4h-4zM144 116h4v4h-4zM260 120h4v4h-4zM156 124h8v4h-8zM260 124h4v4h-4zM172 128h4v4h-4zM172 132h4v4h-4zM256 132h4v4h-4zM28 136h4v4h-4zM208 136h4v4h-4zM200 140h4v4h-4zM184 144h12v4h-12zM144 152h4v4h-4zM140 156h4v4h-4z"/><path fill="#141414" d="M160 24h4v4h-4zM172 24h4v4h-4zM156 28h4v4h-4zM84 32h4v4h-4zM160 32h4v4h-4zM172 32h4v4h-4zM60 36h4v4h-4zM88 36h4v4h-4zM60 40h4v4h-4zM88 40h4v4h-4zM80 44h4v4h-4zM212 48h4v4h-4zM216 52h4v4h-4zM136 64h16v4h-16zM128 68h4v4h-4zM180 68h4v4h-4zM224 68h4v4h-4zM248 68h4v4h-4zM124 72h4v4h-4zM164 72h4v4h-4zM176 72h4v4h-4zM228 72h4v4h-4zM240 72h4v4h-4zM268 72h4v4h-4zM168 76h8v4h-8zM232 76h8v4h-8zM232 80h4v4h-4zM272 80h4v4h-4zM20 84h4v4h-4zM120 84h4v4h-4zM228 84h8v4h-8zM120 88h4v4h-4zM164 88h4v4h-4zM172 88h4v4h-4zM224 88h4v4h-4zM236 88h4v4h-4zM112 92h4v4h-4zM272 92h4v4h-4zM104 96h4v4h-4zM124 96h28v4h-28zM212 96h4v4h-4zM12 100h4v4h-4zM72 100h4v4h-4zM204 100h4v4h-4zM244 100h4v4h-4zM268 100h4v4h-4zM120 104h4v4h-4zM264 104h4v4h-4zM116 108h4v4h-4zM236 108h24v4h-24zM164 112h4v4h-4zM248 112h4v4h-4zM184 116h4v4h-4zM192 116h4v4h-4zM216 116h4v4h-4zM252 116h4v4h-4zM180 120h4v4h-4zM252 120h4v4h-4zM200 124h4v4h-4zM212 124h4v4h-4zM252 124h4v4h-4zM200 128h4v4h-4zM216 132h4v4h-4zM248 132h4v4h-4zM196 136h4v4h-4zM224 136h4v4h-4z"/><path fill="#151515" d="M164 24h8v4h-8zM164 32h8v4h-8zM80 36h4v4h-4zM80 40h4v4h-4zM188 56h4v4h-4zM220 60h4v4h-4zM184 64h4v4h-4zM156 68h4v4h-4zM252 68h4v4h-4zM260 68h4v4h-4zM160 72h4v4h-4zM224 72h4v4h-4zM244 72h4v4h-4zM124 76h4v4h-4zM164 76h4v4h-4zM176 76h4v4h-4zM228 76h4v4h-4zM240 76h4v4h-4zM168 80h8v4h-8zM228 80h4v4h-4zM236 80h4v4h-4zM68 84h4v4h-4zM164 84h12v4h-12zM224 84h4v4h-4zM236 84h4v4h-4zM272 84h4v4h-4zM160 88h4v4h-4zM176 88h4v4h-4zM220 88h4v4h-4zM272 88h4v4h-4zM116 92h12v4h-12zM156 92h4v4h-4zM216 92h4v4h-4zM240 92h4v4h-4zM184 96h4v4h-4zM192 100h12v4h-12zM72 104h4v4h-4zM248 104h4v4h-4zM108 108h8v4h-8zM152 108h4v4h-4zM160 108h4v4h-4zM224 112h4v4h-4zM244 112h4v4h-4zM16 116h4v4h-4zM188 116h4v4h-4zM196 120h4v4h-4zM216 120h4v4h-4zM216 128h4v4h-4zM180 132h4v4h-4zM240 136h4v4h-4zM32 168h4v4h-4zM32 172h4v4h-4z"/><path fill="#161616" d="M160 28h4v4h-4zM172 28h4v4h-4zM84 44h4v4h-4zM196 48h4v4h-4zM192 52h4v4h-4zM220 64h4v4h-4zM132 68h4v4h-4zM152 68h4v4h-4zM184 68h4v4h-4zM256 68h4v4h-4zM128 72h4v4h-4zM180 72h4v4h-4zM224 76h4v4h-4zM32 80h4v4h-4zM64 80h4v4h-4zM124 80h4v4h-4zM164 80h4v4h-4zM176 80h4v4h-4zM224 80h4v4h-4zM240 80h4v4h-4zM124 84h4v4h-4zM176 84h4v4h-4zM220 84h4v4h-4zM124 88h4v4h-4zM240 88h4v4h-4zM128 92h8v4h-8zM152 92h4v4h-4zM180 92h4v4h-4zM120 96h4v4h-4zM208 96h4v4h-4zM244 96h4v4h-4zM104 100h4v4h-4zM120 100h4v4h-4zM104 104h4v4h-4zM252 104h4v4h-4zM260 104h4v4h-4zM72 108h4v4h-4zM228 112h4v4h-4zM240 112h4v4h-4zM84 116h4v4h-4zM152 116h4v4h-4zM220 116h4v4h-4zM248 116h4v4h-4zM180 124h4v4h-4zM216 124h4v4h-4zM180 128h4v4h-4zM196 132h4v4h-4zM220 132h4v4h-4zM184 136h4v4h-4zM192 136h4v4h-4zM228 136h12v4h-12zM32 156h4v4h-4zM32 160h4v4h-4zM32 164h4v4h-4z"/><path fill="#171717" d="M164 28h8v4h-8zM84 36h4v4h-4zM84 40h4v4h-4zM208 48h4v4h-4zM216 56h4v4h-4zM188 60h4v4h-4zM136 68h4v4h-4zM148 68h4v4h-4zM220 68h4v4h-4zM156 72h4v4h-4zM220 72h4v4h-4zM248 72h4v4h-4zM264 72h4v4h-4zM160 76h4v4h-4zM220 76h4v4h-4zM244 76h4v4h-4zM268 76h4v4h-4zM160 80h4v4h-4zM220 80h4v4h-4zM24 84h4v4h-4zM160 84h4v4h-4zM240 84h4v4h-4zM16 88h4v4h-4zM128 88h4v4h-4zM156 88h4v4h-4zM216 88h4v4h-4zM136 92h4v4h-4zM148 92h4v4h-4zM212 92h4v4h-4zM108 96h12v4h-12zM268 96h4v4h-4zM248 100h4v4h-4zM264 100h4v4h-4zM12 104h4v4h-4zM116 104h4v4h-4zM256 104h4v4h-4zM12 108h4v4h-4zM156 108h4v4h-4zM152 112h4v4h-4zM160 112h4v4h-4zM232 112h8v4h-8zM160 116h4v4h-4zM184 120h4v4h-4zM192 120h4v4h-4zM248 120h4v4h-4zM28 124h4v4h-4zM96 124h4v4h-4zM196 124h4v4h-4zM248 124h4v4h-4zM196 128h4v4h-4zM248 128h4v4h-4zM244 132h4v4h-4zM188 136h4v4h-4zM32 144h4v4h-4zM32 148h4v4h-4zM32 152h4v4h-4z"/><path fill="#131313" d="M176 28h4v4h-4zM80 32h4v4h-4zM56 40h4v4h-4zM88 44h4v4h-4zM200 44h8v4h-8zM84 48h4v4h-4zM192 48h4v4h-4zM220 56h4v4h-4zM184 60h4v4h-4zM152 64h4v4h-4zM224 64h4v4h-4zM160 68h4v4h-4zM228 68h4v4h-4zM244 68h4v4h-4zM264 68h4v4h-4zM168 72h8v4h-8zM232 72h8v4h-8zM52 76h4v4h-4zM272 76h4v4h-4zM28 80h4v4h-4zM120 80h4v4h-4zM116 88h4v4h-4zM168 88h4v4h-4zM228 88h8v4h-8zM108 92h4v4h-4zM160 92h4v4h-4zM176 92h4v4h-4zM220 92h8v4h-8zM236 92h4v4h-4zM72 96h4v4h-4zM152 96h8v4h-8zM180 96h4v4h-4zM240 96h4v4h-4zM124 100h4v4h-4zM188 100h4v4h-4zM152 104h8v4h-8zM244 104h4v4h-4zM104 108h4v4h-4zM228 108h8v4h-8zM12 112h4v4h-4zM148 112h4v4h-4zM220 112h4v4h-4zM252 112h4v4h-4zM164 116h4v4h-4zM196 116h4v4h-4zM20 120h4v4h-4zM156 120h8v4h-8zM200 120h4v4h-4zM212 120h4v4h-4zM212 128h4v4h-4zM252 128h4v4h-4zM200 132h4v4h-4zM180 136h4v4h-4zM220 136h4v4h-4zM244 136h4v4h-4zM188 140h4v4h-4zM140 144h4v4h-4zM140 148h4v4h-4z"/><path fill="#181818" d="M200 48h8v4h-8zM212 52h4v4h-4zM216 60h4v4h-4zM188 64h4v4h-4zM140 68h8v4h-8zM132 72h4v4h-4zM152 72h4v4h-4zM184 72h4v4h-4zM128 76h4v4h-4zM156 76h4v4h-4zM180 76h4v4h-4zM36 80h4v4h-4zM128 80h4v4h-4zM128 84h4v4h-4zM156 84h4v4h-4zM216 84h4v4h-4zM152 88h4v4h-4zM180 88h4v4h-4zM140 92h8v4h-8zM244 92h4v4h-4zM188 96h4v4h-4zM204 96h4v4h-4zM116 100h4v4h-4zM108 104h8v4h-8zM156 116h4v4h-4zM224 116h4v4h-4zM244 116h4v4h-4zM188 120h4v4h-4zM220 120h4v4h-4zM220 128h4v4h-4zM32 132h4v4h-4zM184 132h4v4h-4zM224 132h4v4h-4zM32 136h4v4h-4zM32 140h4v4h-4z"/><path fill="#1a1a1a" d="M196 52h4v4h-4zM208 52h4v4h-4zM212 56h4v4h-4zM192 60h4v4h-4zM188 68h4v4h-4zM136 72h16v4h-16zM216 72h4v4h-4zM256 72h4v4h-4zM132 76h4v4h-4zM152 76h4v4h-4zM248 76h4v4h-4zM40 80h4v4h-4zM60 80h4v4h-4zM132 80h4v4h-4zM132 84h4v4h-4zM152 84h4v4h-4zM268 84h4v4h-4zM20 88h8v4h-8zM68 88h4v4h-4zM136 88h16v4h-16zM268 88h4v4h-4zM208 92h4v4h-4zM192 96h12v4h-12zM256 100h8v4h-8zM32 116h4v4h-4zM232 116h8v4h-8zM28 120h8v4h-8zM224 120h4v4h-4zM244 120h4v4h-4zM32 124h4v4h-4zM188 124h4v4h-4zM244 124h4v4h-4zM188 128h8v4h-8zM224 128h4v4h-4zM36 132h4v4h-4zM228 132h12v4h-12zM36 136h4v4h-4zM36 140h4v4h-4zM36 144h4v4h-4zM40 152h4v4h-4zM40 156h4v4h-4zM40 160h8v4h-8zM40 164h8v4h-8zM96 164h4v4h-4zM44 168h8v4h-8zM96 168h4v4h-4zM44 172h8v4h-8z"/><path fill="#1b1b1b" d="M200 52h4v4h-4zM192 64h4v4h-4zM136 76h4v4h-4zM148 76h4v4h-4zM184 76h4v4h-4zM264 76h4v4h-4zM44 80h4v4h-4zM152 80h4v4h-4zM32 84h4v4h-4zM136 84h4v4h-4zM148 84h4v4h-4zM212 84h4v4h-4zM28 88h4v4h-4zM20 92h12v4h-12zM248 92h4v4h-4zM28 96h4v4h-4zM264 96h4v4h-4zM68 108h4v4h-4zM32 112h4v4h-4zM36 116h4v4h-4zM80 116h4v4h-4zM92 120h4v4h-4zM240 120h4v4h-4zM224 124h4v4h-4zM36 128h4v4h-4zM96 128h4v4h-4zM240 128h4v4h-4zM40 148h4v4h-4zM44 156h4v4h-4zM96 156h4v4h-4zM96 160h4v4h-4zM48 164h4v4h-4zM52 172h4v4h-4z"/><path fill="#1c1c1c" d="M204 52h4v4h-4zM196 56h4v4h-4zM212 60h4v4h-4zM212 64h4v4h-4zM212 68h4v4h-4zM188 72h4v4h-4zM212 72h4v4h-4zM140 76h8v4h-8zM212 76h4v4h-4zM252 76h4v4h-4zM48 80h12v4h-12zM136 80h4v4h-4zM144 80h8v4h-8zM184 80h4v4h-4zM212 80h4v4h-4zM248 80h4v4h-4zM64 84h4v4h-4zM140 84h8v4h-8zM248 84h4v4h-4zM184 88h4v4h-4zM208 88h4v4h-4zM248 88h4v4h-4zM68 92h4v4h-4zM188 92h4v4h-4zM204 92h4v4h-4zM16 96h4v4h-4zM24 96h4v4h-4zM252 96h4v4h-4zM28 100h4v4h-4zM28 104h4v4h-4zM68 104h4v4h-4zM28 108h8v4h-8zM28 112h4v4h-4zM36 112h4v4h-4zM68 112h4v4h-4zM28 116h4v4h-4zM36 120h4v4h-4zM228 120h12v4h-12zM36 124h4v4h-4zM240 124h4v4h-4zM228 128h4v4h-4zM40 144h4v4h-4zM96 152h4v4h-4z"/><path fill="#191919" d="M192 56h4v4h-4zM216 64h4v4h-4zM216 68h4v4h-4zM252 72h4v4h-4zM260 72h4v4h-4zM216 76h4v4h-4zM156 80h4v4h-4zM180 80h4v4h-4zM216 80h4v4h-4zM244 80h4v4h-4zM268 80h4v4h-4zM28 84h4v4h-4zM180 84h4v4h-4zM244 84h4v4h-4zM132 88h4v4h-4zM212 88h4v4h-4zM244 88h4v4h-4zM16 92h4v4h-4zM184 92h4v4h-4zM268 92h4v4h-4zM248 96h4v4h-4zM108 100h8v4h-8zM252 100h4v4h-4zM72 112h4v4h-4zM156 112h4v4h-4zM228 116h4v4h-4zM240 116h4v4h-4zM24 120h4v4h-4zM184 124h4v4h-4zM192 124h4v4h-4zM220 124h4v4h-4zM32 128h4v4h-4zM184 128h4v4h-4zM244 128h4v4h-4zM188 132h8v4h-8zM240 132h4v4h-4zM36 148h4v4h-4zM36 152h4v4h-4zM36 156h4v4h-4zM36 160h4v4h-4zM36 164h4v4h-4zM36 168h8v4h-8zM36 172h8v4h-8zM96 172h4v4h-4z"/><path fill="#1e1e1e" d="M200 56h8v4h-8zM208 60h4v4h-4zM196 64h4v4h-4zM208 64h4v4h-4zM208 68h4v4h-4zM192 72h4v4h-4zM208 72h4v4h-4zM188 76h4v4h-4zM208 76h4v4h-4zM208 80h4v4h-4zM252 80h4v4h-4zM36 84h4v4h-4zM208 84h4v4h-4zM264 84h4v4h-4zM32 88h4v4h-4zM264 88h4v4h-4zM192 92h4v4h-4zM200 92h4v4h-4zM252 92h4v4h-4zM20 96h4v4h-4zM32 100h4v4h-4zM32 104h4v4h-4zM16 112h4v4h-4zM64 112h4v4h-4zM24 116h4v4h-4zM40 116h4v4h-4zM96 132h4v4h-4zM40 140h4v4h-4zM96 144h4v4h-4zM52 168h4v4h-4z"/><path fill="#1d1d1d" d="M208 56h4v4h-4zM196 60h4v4h-4zM192 68h4v4h-4zM256 76h8v4h-8zM140 80h4v4h-4zM264 80h4v4h-4zM184 84h4v4h-4zM264 92h4v4h-4zM68 96h4v4h-4zM256 96h8v4h-8zM24 100h4v4h-4zM68 100h4v4h-4zM20 116h4v4h-4zM228 124h12v4h-12zM232 128h8v4h-8zM96 148h4v4h-4zM44 152h4v4h-4zM48 160h4v4h-4z"/><path fill="#1f1f1f" d="M200 60h8v4h-8zM200 64h4v4h-4zM196 68h4v4h-4zM188 80h4v4h-4zM256 80h8v4h-8zM252 84h4v4h-4zM188 88h4v4h-4zM204 88h4v4h-4zM252 88h4v4h-4zM32 92h4v4h-4zM196 92h4v4h-4zM256 92h8v4h-8zM32 96h4v4h-4zM24 104h4v4h-4zM64 108h4v4h-4zM40 136h4v4h-4zM96 136h4v4h-4zM96 140h4v4h-4z"/><path fill="#202020" d="M204 64h4v4h-4zM200 68h8v4h-8zM196 72h12v4h-12zM192 76h4v4h-4zM204 76h4v4h-4zM40 84h4v4h-4zM60 84h4v4h-4zM188 84h4v4h-4zM256 84h8v4h-8zM64 88h4v4h-4zM256 88h8v4h-8zM16 100h8v4h-8zM24 108h4v4h-4zM36 108h4v4h-4zM24 112h4v4h-4zM40 112h4v4h-4z"/><path fill="#212121" d="M196 76h8v4h-8zM204 80h4v4h-4zM44 84h8v4h-8zM56 84h4v4h-4zM204 84h4v4h-4zM192 88h4v4h-4zM200 88h4v4h-4zM64 104h4v4h-4zM60 112h4v4h-4zM76 116h4v4h-4zM88 120h4v4h-4zM40 132h4v4h-4zM44 148h4v4h-4zM48 156h4v4h-4zM92 172h4v4h-4z"/><path fill="#222222" d="M192 80h12v4h-12zM52 84h4v4h-4zM192 84h4v4h-4zM200 84h4v4h-4zM36 88h4v4h-4zM196 88h4v4h-4zM64 92h4v4h-4zM64 96h4v4h-4zM36 100h4v4h-4zM64 100h4v4h-4zM36 104h4v4h-4zM40 108h4v4h-4zM60 108h4v4h-4zM44 112h4v4h-4zM56 112h4v4h-4zM44 116h4v4h-4zM52 164h4v4h-4zM92 168h4v4h-4z"/><path fill="#232323" d="M196 84h4v4h-4zM40 88h24v4h-24zM36 92h28v4h-28zM36 96h28v4h-28zM40 100h24v4h-24zM16 104h8v4h-8zM40 104h24v4h-24zM16 108h4v4h-4zM44 108h16v4h-16zM20 112h4v4h-4zM48 112h8v4h-8zM40 120h4v4h-4zM92 124h4v4h-4zM40 128h4v4h-4zM56 172h4v4h-4z"/><path fill="#242424" d="M20 108h4v4h-4zM92 164h4v4h-4z"/><path fill="#252525" d="M48 116h4v4h-4zM72 116h4v4h-4zM40 124h4v4h-4zM44 144h4v4h-4zM92 160h4v4h-4z"/><path fill="#272727" d="M52 116h20v4h-20zM92 128h4v4h-4zM92 152h4v4h-4zM56 168h4v4h-4z"/><path fill="#292929" d="M44 120h4v4h-4zM92 132h4v4h-4zM44 136h4v4h-4zM92 144h4v4h-4z"/><path fill="#2b2b2b" d="M48 120h4v4h-4zM80 120h4v4h-4zM88 124h4v4h-4zM44 128h4v4h-4zM88 164h4v4h-4zM88 168h4v4h-4zM60 172h4v4h-4z"/><path fill="#2c2c2c" d="M52 120h4v4h-4zM44 124h4v4h-4zM48 140h4v4h-4zM48 144h4v4h-4zM52 152h4v4h-4zM88 152h4v4h-4zM56 156h4v4h-4zM88 156h4v4h-4zM56 160h4v4h-4zM88 160h4v4h-4zM60 164h4v4h-4zM60 168h4v4h-4z"/><path fill="#2f2f2f" d="M56 120h4v4h-4zM52 128h4v4h-4zM88 132h4v4h-4zM52 136h4v4h-4zM56 144h4v4h-4zM60 148h4v4h-4z"/><path fill="#313131" d="M60 120h4v4h-4zM84 140h4v4h-4zM80 144h4v4h-4zM68 148h8v4h-8z"/><path fill="#333333" d="M64 120h4v4h-4zM84 128h4v4h-4zM84 132h4v4h-4zM84 136h4v4h-4z"/><path fill="#323232" d="M68 120h8v4h-8zM56 124h4v4h-4zM56 140h4v4h-4zM60 144h4v4h-4z"/><path fill="#303030" d="M76 120h4v4h-4zM84 124h4v4h-4zM52 132h4v4h-4zM64 148h4v4h-4zM76 148h4v4h-4z"/><path fill="#262626" d="M84 120h4v4h-4zM48 152h4v4h-4zM92 156h4v4h-4zM52 160h4v4h-4z"/><path fill="#2d2d2d" d="M48 124h4v4h-4zM48 128h4v4h-4zM48 132h4v4h-4zM48 136h4v4h-4zM52 144h4v4h-4zM88 144h4v4h-4zM52 148h8v4h-8zM84 148h8v4h-8zM56 152h12v4h-12zM72 152h16v4h-16zM60 156h28v4h-28zM60 160h28v4h-28zM64 164h24v4h-24zM64 168h24v4h-24zM64 172h24v4h-24z"/><path fill="#2e2e2e" d="M52 124h4v4h-4zM88 128h4v4h-4zM88 136h4v4h-4zM52 140h4v4h-4zM88 140h4v4h-4zM84 144h4v4h-4zM80 148h4v4h-4zM68 152h4v4h-4z"/><path fill="#343434" d="M60 124h4v4h-4zM80 124h4v4h-4zM56 128h4v4h-4zM56 132h4v4h-4zM56 136h4v4h-4zM60 140h4v4h-4zM80 140h4v4h-4zM64 144h4v4h-4zM72 144h8v4h-8z"/><path fill="#353535" d="M64 124h16v4h-16zM60 128h24v4h-24zM60 132h24v4h-24zM60 136h24v4h-24zM64 140h16v4h-16zM68 144h4v4h-4z"/><path fill="#2a2a2a" d="M44 132h4v4h-4zM92 136h4v4h-4zM92 140h4v4h-4zM48 148h4v4h-4zM52 156h4v4h-4zM56 164h4v4h-4zM88 172h4v4h-4z"/><path fill="#282828" d="M44 140h4v4h-4zM92 148h4v4h-4z"/></g></g><rect x="0" y="0" width="278.4" height="163.8" fill="none" stroke="#1a1a40" stroke-width="0.6"/></g>
<text x="563.55" y="83.4" font-size="6.6" fill="#222" font-family='"Liberation Sans", sans-serif' text-anchor="middle" textLength="117" lengthAdjust="spacingAndGlyphs">PLV_between_bilateral_auditory_cortex</text>
<text x="422.9" y="105.60000000000001" font-size="5" fill="#333" font-family='"Liberation Sans", sans-serif' text-anchor="end" >25</text>
<text x="422.9" y="138.20000000000002" font-size="5" fill="#333" font-family='"Liberation Sans", sans-serif' text-anchor="end" >20</text>
<text x="422.9" y="171.10000000000002" font-size="5" fill="#333" font-family='"Liberation Sans", sans-serif' text-anchor="end" >15</text>
<text x="422.9" y="203.70000000000002" font-size="5" fill="#333" font-family='"Liberation Sans", sans-serif' text-anchor="end" >10</text>
<text x="422.9" y="236.8" font-size="5" fill="#333" font-family='"Liberation Sans", sans-serif' text-anchor="end" >5</text>
<text x="429.4" y="253.3" font-size="5" fill="#333" font-family='"Liberation Sans", sans-serif' text-anchor="middle" >0</text>
<text x="484.0" y="253.3" font-size="5" fill="#333" font-family='"Liberation Sans", sans-serif' text-anchor="middle" >100</text>
<text x="538.6" y="253.3" font-size="5" fill="#333" font-family='"Liberation Sans", sans-serif' text-anchor="middle" >200</text>
<text x="593.2" y="253.3" font-size="5" fill="#333" font-family='"Liberation Sans", sans-serif' text-anchor="middle" >300</text>
<text x="647.8" y="253.3" font-size="5" fill="#333" font-family='"Liberation Sans", sans-serif' text-anchor="middle" >400</text>
<text x="702.4" y="253.3" font-size="5" fill="#333" font-family='"Liberation Sans", sans-serif' text-anchor="middle" >500</text>
<text x="563.55" y="259.5" font-size="5.6" fill="#333" font-family='"Liberation Sans", sans-serif' text-anchor="middle" >Times [ms]</text>
<text x="414.7" y="165.9" font-size="5.2" fill="#333" font-family='"Liberation Sans", sans-serif' text-anchor="middle" transform="rotate(-90 414.7 165.9)">Frequency [Hz]</text>
<text x="563.55" y="289.5" font-size="6.6" fill="#222" font-family='"Liberation Sans", sans-serif' text-anchor="middle" textLength="117" lengthAdjust="spacingAndGlyphs">PLV_between_bilateral_auditory_cortex</text>
<text x="422.9" y="311.7" font-size="5" fill="#333" font-family='"Liberation Sans", sans-serif' text-anchor="end" >25</text>
<text x="422.9" y="344.3" font-size="5" fill="#333" font-family='"Liberation Sans", sans-serif' text-anchor="end" >20</text>
<text x="422.9" y="377.2" font-size="5" fill="#333" font-family='"Liberation Sans", sans-serif' text-anchor="end" >15</text>
<text x="422.9" y="409.8" font-size="5" fill="#333" font-family='"Liberation Sans", sans-serif' text-anchor="end" >10</text>
<text x="422.9" y="442.90000000000003" font-size="5" fill="#333" font-family='"Liberation Sans", sans-serif' text-anchor="end" >5</text>
<text x="429.4" y="459.2" font-size="5" fill="#333" font-family='"Liberation Sans", sans-serif' text-anchor="middle" >0</text>
<text x="484.0" y="459.2" font-size="5" fill="#333" font-family='"Liberation Sans", sans-serif' text-anchor="middle" >100</text>
<text x="538.6" y="459.2" font-size="5" fill="#333" font-family='"Liberation Sans", sans-serif' text-anchor="middle" >200</text>
<text x="593.2" y="459.2" font-size="5" fill="#333" font-family='"Liberation Sans", sans-serif' text-anchor="middle" >300</text>
<text x="647.8" y="459.2" font-size="5" fill="#333" font-family='"Liberation Sans", sans-serif' text-anchor="middle" >400</text>
<text x="702.4" y="459.2" font-size="5" fill="#333" font-family='"Liberation Sans", sans-serif' text-anchor="middle" >500</text>
<text x="563.55" y="465.40000000000003" font-size="5.6" fill="#333" font-family='"Liberation Sans", sans-serif' text-anchor="middle" >Times [ms]</text>
<text x="414.7" y="371.9" font-size="5.2" fill="#333" font-family='"Liberation Sans", sans-serif' text-anchor="middle" transform="rotate(-90 414.7 371.9)">Frequency [Hz]</text>
<text x="563.55" y="495.5" font-size="6.6" fill="#222" font-family='"Liberation Sans", sans-serif' text-anchor="middle" textLength="117" lengthAdjust="spacingAndGlyphs">PLV_between_bilateral_auditory_cortex</text>
<text x="422.9" y="517.6999999999999" font-size="5" fill="#333" font-family='"Liberation Sans", sans-serif' text-anchor="end" >25</text>
<text x="422.9" y="550.3" font-size="5" fill="#333" font-family='"Liberation Sans", sans-serif' text-anchor="end" >20</text>
<text x="422.9" y="583.1999999999999" font-size="5" fill="#333" font-family='"Liberation Sans", sans-serif' text-anchor="end" >15</text>
<text x="422.9" y="615.8" font-size="5" fill="#333" font-family='"Liberation Sans", sans-serif' text-anchor="end" >10</text>
<text x="422.9" y="648.9" font-size="5" fill="#333" font-family='"Liberation Sans", sans-serif' text-anchor="end" >5</text>
<text x="429.4" y="665.1999999999999" font-size="5" fill="#333" font-family='"Liberation Sans", sans-serif' text-anchor="middle" >0</text>
<text x="484.0" y="665.1999999999999" font-size="5" fill="#333" font-family='"Liberation Sans", sans-serif' text-anchor="middle" >100</text>
<text x="538.6" y="665.1999999999999" font-size="5" fill="#333" font-family='"Liberation Sans", sans-serif' text-anchor="middle" >200</text>
<text x="593.2" y="665.1999999999999" font-size="5" fill="#333" font-family='"Liberation Sans", sans-serif' text-anchor="middle" >300</text>
<text x="647.8" y="665.1999999999999" font-size="5" fill="#333" font-family='"Liberation Sans", sans-serif' text-anchor="middle" >400</text>
<text x="702.4" y="665.1999999999999" font-size="5" fill="#333" font-family='"Liberation Sans", sans-serif' text-anchor="middle" >500</text>
<text x="563.55" y="671.4" font-size="5.6" fill="#333" font-family='"Liberation Sans", sans-serif' text-anchor="middle" >Times [ms]</text>
<text x="414.7" y="577.9" font-size="5.2" fill="#333" font-family='"Liberation Sans", sans-serif' text-anchor="middle" transform="rotate(-90 414.7 577.9)">Frequency [Hz]</text>
<text x="953.5" y="83.4" font-size="6.6" fill="#222" font-family='"Liberation Sans", sans-serif' text-anchor="middle" textLength="117" lengthAdjust="spacingAndGlyphs">PLV_between_bilateral_auditory_cortex</text>
<text x="813.0" y="105.60000000000001" font-size="5" fill="#333" font-family='"Liberation Sans", sans-serif' text-anchor="end" >25</text>
<text x="813.0" y="138.20000000000002" font-size="5" fill="#333" font-family='"Liberation Sans", sans-serif' text-anchor="end" >20</text>
<text x="813.0" y="171.10000000000002" font-size="5" fill="#333" font-family='"Liberation Sans", sans-serif' text-anchor="end" >15</text>
<text x="813.0" y="203.70000000000002" font-size="5" fill="#333" font-family='"Liberation Sans", sans-serif' text-anchor="end" >10</text>
<text x="813.0" y="236.8" font-size="5" fill="#333" font-family='"Liberation Sans", sans-serif' text-anchor="end" >5</text>
<text x="819.5" y="253.3" font-size="5" fill="#333" font-family='"Liberation Sans", sans-serif' text-anchor="middle" >0</text>
<text x="874.1" y="253.3" font-size="5" fill="#333" font-family='"Liberation Sans", sans-serif' text-anchor="middle" >100</text>
<text x="928.7" y="253.3" font-size="5" fill="#333" font-family='"Liberation Sans", sans-serif' text-anchor="middle" >200</text>
<text x="983.3" y="253.3" font-size="5" fill="#333" font-family='"Liberation Sans", sans-serif' text-anchor="middle" >300</text>
<text x="1037.9" y="253.3" font-size="5" fill="#333" font-family='"Liberation Sans", sans-serif' text-anchor="middle" >400</text>
<text x="1092.5" y="253.3" font-size="5" fill="#333" font-family='"Liberation Sans", sans-serif' text-anchor="middle" >500</text>
<text x="953.5" y="259.5" font-size="5.6" fill="#333" font-family='"Liberation Sans", sans-serif' text-anchor="middle" >Times [ms]</text>
<text x="804.8" y="165.9" font-size="5.2" fill="#333" font-family='"Liberation Sans", sans-serif' text-anchor="middle" transform="rotate(-90 804.8 165.9)">Frequency [Hz]</text>
<text x="953.5" y="289.5" font-size="6.6" fill="#222" font-family='"Liberation Sans", sans-serif' text-anchor="middle" textLength="117" lengthAdjust="spacingAndGlyphs">PLV_between_bilateral_auditory_cortex</text>
<text x="813.0" y="311.7" font-size="5" fill="#333" font-family='"Liberation Sans", sans-serif' text-anchor="end" >25</text>
<text x="813.0" y="344.3" font-size="5" fill="#333" font-family='"Liberation Sans", sans-serif' text-anchor="end" >20</text>
<text x="813.0" y="377.2" font-size="5" fill="#333" font-family='"Liberation Sans", sans-serif' text-anchor="end" >15</text>
<text x="813.0" y="409.8" font-size="5" fill="#333" font-family='"Liberation Sans", sans-serif' text-anchor="end" >10</text>
<text x="813.0" y="442.90000000000003" font-size="5" fill="#333" font-family='"Liberation Sans", sans-serif' text-anchor="end" >5</text>
<text x="819.5" y="459.2" font-size="5" fill="#333" font-family='"Liberation Sans", sans-serif' text-anchor="middle" >0</text>
<text x="874.1" y="459.2" font-size="5" fill="#333" font-family='"Liberation Sans", sans-serif' text-anchor="middle" >100</text>
<text x="928.7" y="459.2" font-size="5" fill="#333" font-family='"Liberation Sans", sans-serif' text-anchor="middle" >200</text>
<text x="983.3" y="459.2" font-size="5" fill="#333" font-family='"Liberation Sans", sans-serif' text-anchor="middle" >300</text>
<text x="1037.9" y="459.2" font-size="5" fill="#333" font-family='"Liberation Sans", sans-serif' text-anchor="middle" >400</text>
<text x="1092.5" y="459.2" font-size="5" fill="#333" font-family='"Liberation Sans", sans-serif' text-anchor="middle" >500</text>
<text x="953.5" y="465.40000000000003" font-size="5.6" fill="#333" font-family='"Liberation Sans", sans-serif' text-anchor="middle" >Times [ms]</text>
<text x="804.8" y="371.9" font-size="5.2" fill="#333" font-family='"Liberation Sans", sans-serif' text-anchor="middle" transform="rotate(-90 804.8 371.9)">Frequency [Hz]</text>
<text x="953.5" y="495.5" font-size="6.6" fill="#222" font-family='"Liberation Sans", sans-serif' text-anchor="middle" textLength="117" lengthAdjust="spacingAndGlyphs">PLV_between_bilateral_auditory_cortex</text>
<text x="814.0" y="505.0" font-size="22" fill="#000" font-family='"Liberation Serif", serif' text-anchor="end" >30</text>
<text x="814.0" y="560.4" font-size="22" fill="#000" font-family='"Liberation Serif", serif' text-anchor="end" >20</text>
<text x="814.0" y="617.3" font-size="22" fill="#000" font-family='"Liberation Serif", serif' text-anchor="end" >10</text>
<text x="814.0" y="654.5" font-size="22" fill="#000" font-family='"Liberation Serif", serif' text-anchor="end" >5</text>
<text x="818.7" y="676.8" font-size="20" fill="#000" font-family='"Liberation Serif", serif' text-anchor="middle" >0</text>
<text x="861.2" y="676.8" font-size="20" fill="#000" font-family='"Liberation Serif", serif' text-anchor="middle" >100</text>
<text x="923.0" y="676.8" font-size="20" fill="#000" font-family='"Liberation Serif", serif' text-anchor="middle" >200</text>
<text x="980.4" y="676.8" font-size="20" fill="#000" font-family='"Liberation Serif", serif' text-anchor="middle" >300</text>
<text x="1032.6" y="676.8" font-size="20" fill="#000" font-family='"Liberation Serif", serif' text-anchor="middle" >400</text>
<text x="1084.2" y="676.8" font-size="20" fill="#000" font-family='"Liberation Serif", serif' text-anchor="middle" >500</text>
<text x="953.5" y="701.8" font-size="20.8" fill="#000" font-family='"Liberation Serif", serif' text-anchor="middle" >Time [ms]</text>
<text x="779" y="581" font-size="21" fill="#000" font-family='"Liberation Serif", serif' text-anchor="middle" transform="rotate(-90 779 581)">Frequency [Hz]</text>
<defs><linearGradient id="cbg" x1="0" y1="1" x2="0" y2="0"><stop offset="0.000" stop-color="#000073"/><stop offset="0.025" stop-color="#000094"/><stop offset="0.050" stop-color="#0000b4"/><stop offset="0.075" stop-color="#0000cd"/><stop offset="0.100" stop-color="#0000e6"/><stop offset="0.125" stop-color="#0505f5"/><stop offset="0.150" stop-color="#1e2df5"/><stop offset="0.175" stop-color="#2d48f3"/><stop offset="0.200" stop-color="#3c64f0"/><stop offset="0.225" stop-color="#487df2"/><stop offset="0.250" stop-color="#5596f5"/><stop offset="0.275" stop-color="#5fa8f5"/><stop offset="0.300" stop-color="#69b9f5"/><stop offset="0.325" stop-color="#71cdf2"/><stop offset="0.350" stop-color="#78e1f0"/><stop offset="0.375" stop-color="#7debe3"/><stop offset="0.400" stop-color="#82f5d7"/><stop offset="0.425" stop-color="#8af5c4"/><stop offset="0.450" stop-color="#91f5b2"/><stop offset="0.475" stop-color="#98f59f"/><stop offset="0.500" stop-color="#a0f58c"/><stop offset="0.525" stop-color="#aef57d"/><stop offset="0.550" stop-color="#bcf56e"/><stop offset="0.575" stop-color="#c9f55f"/><stop offset="0.600" stop-color="#d7f550"/><stop offset="0.625" stop-color="#e7f547"/><stop offset="0.650" stop-color="#f0f03e"/><stop offset="0.675" stop-color="#edd638"/><stop offset="0.700" stop-color="#e8b432"/><stop offset="0.725" stop-color="#e4a230"/><stop offset="0.750" stop-color="#e1912d"/><stop offset="0.775" stop-color="#de8028"/><stop offset="0.800" stop-color="#dc6e23"/><stop offset="0.825" stop-color="#da5519"/><stop offset="0.850" stop-color="#d73c0f"/><stop offset="0.875" stop-color="#cd2308"/><stop offset="0.900" stop-color="#c30a00"/><stop offset="0.925" stop-color="#a70500"/><stop offset="0.950" stop-color="#8c0000"/><stop offset="0.975" stop-color="#780000"/><stop offset="1.000" stop-color="#640000"/></linearGradient></defs>
<rect x="1123.8" y="101.4" width="28.0" height="554.4" fill="url(#cbg)" stroke="#555" stroke-width="0.8"/>
<line x1="1148.8" y1="655.80" x2="1151.8" y2="655.80" stroke="#222" stroke-width="0.8"/>
<text x="1155.2" y="661.0" font-size="17.8" fill="#222" font-family='"Liberation Sans", sans-serif' text-anchor="start" textLength="35.6" lengthAdjust="spacingAndGlyphs">0.00</text>
<line x1="1148.8" y1="600.36" x2="1151.8" y2="600.36" stroke="#222" stroke-width="0.8"/>
<text x="1155.2" y="605.56" font-size="17.8" fill="#222" font-family='"Liberation Sans", sans-serif' text-anchor="start" textLength="35.6" lengthAdjust="spacingAndGlyphs">0.04</text>
<line x1="1148.8" y1="544.92" x2="1151.8" y2="544.92" stroke="#222" stroke-width="0.8"/>
<text x="1155.2" y="550.12" font-size="17.8" fill="#222" font-family='"Liberation Sans", sans-serif' text-anchor="start" textLength="35.6" lengthAdjust="spacingAndGlyphs">0.08</text>
<line x1="1148.8" y1="489.48" x2="1151.8" y2="489.48" stroke="#222" stroke-width="0.8"/>
<text x="1155.2" y="494.68" font-size="17.8" fill="#222" font-family='"Liberation Sans", sans-serif' text-anchor="start" textLength="35.6" lengthAdjust="spacingAndGlyphs">0.12</text>
<line x1="1148.8" y1="434.04" x2="1151.8" y2="434.04" stroke="#222" stroke-width="0.8"/>
<text x="1155.2" y="439.24" font-size="17.8" fill="#222" font-family='"Liberation Sans", sans-serif' text-anchor="start" textLength="35.6" lengthAdjust="spacingAndGlyphs">0.16</text>
<line x1="1148.8" y1="378.60" x2="1151.8" y2="378.60" stroke="#222" stroke-width="0.8"/>
<text x="1155.2" y="383.8" font-size="17.8" fill="#222" font-family='"Liberation Sans", sans-serif' text-anchor="start" textLength="35.6" lengthAdjust="spacingAndGlyphs">0.20</text>
<line x1="1148.8" y1="323.16" x2="1151.8" y2="323.16" stroke="#222" stroke-width="0.8"/>
<text x="1155.2" y="328.36" font-size="17.8" fill="#222" font-family='"Liberation Sans", sans-serif' text-anchor="start" textLength="35.6" lengthAdjust="spacingAndGlyphs">0.24</text>
<line x1="1148.8" y1="267.72" x2="1151.8" y2="267.72" stroke="#222" stroke-width="0.8"/>
<text x="1155.2" y="272.92" font-size="17.8" fill="#222" font-family='"Liberation Sans", sans-serif' text-anchor="start" textLength="35.6" lengthAdjust="spacingAndGlyphs">0.28</text>
<line x1="1148.8" y1="212.28" x2="1151.8" y2="212.28" stroke="#222" stroke-width="0.8"/>
<text x="1155.2" y="217.48" font-size="17.8" fill="#222" font-family='"Liberation Sans", sans-serif' text-anchor="start" textLength="35.6" lengthAdjust="spacingAndGlyphs">0.32</text>
<line x1="1148.8" y1="156.84" x2="1151.8" y2="156.84" stroke="#222" stroke-width="0.8"/>
<text x="1155.2" y="162.04" font-size="17.8" fill="#222" font-family='"Liberation Sans", sans-serif' text-anchor="start" textLength="35.6" lengthAdjust="spacingAndGlyphs">0.36</text>
<line x1="1148.8" y1="101.40" x2="1151.8" y2="101.40" stroke="#222" stroke-width="0.8"/>
<text x="1155.2" y="106.6" font-size="17.8" fill="#222" font-family='"Liberation Sans", sans-serif' text-anchor="start" textLength="35.6" lengthAdjust="spacingAndGlyphs">0.40</text>
<rect x="464.0" y="739.4" width="580.5" height="342.30000000000007" fill="none" stroke="#b0b0b0" stroke-width="1.3"/>
<line x1="464.0" y1="782.2" x2="466.0" y2="782.2" stroke="#c8c8c8" stroke-width="1"/>
<line x1="1042.5" y1="782.2" x2="1044.5" y2="782.2" stroke="#c8c8c8" stroke-width="1"/>
<line x1="464.0" y1="825.0" x2="466.0" y2="825.0" stroke="#c8c8c8" stroke-width="1"/>
<line x1="1042.5" y1="825.0" x2="1044.5" y2="825.0" stroke="#c8c8c8" stroke-width="1"/>
<line x1="464.0" y1="867.8" x2="466.0" y2="867.8" stroke="#c8c8c8" stroke-width="1"/>
<line x1="1042.5" y1="867.8" x2="1044.5" y2="867.8" stroke="#c8c8c8" stroke-width="1"/>
<line x1="464.0" y1="910.5" x2="466.0" y2="910.5" stroke="#c8c8c8" stroke-width="1"/>
<line x1="1042.5" y1="910.5" x2="1044.5" y2="910.5" stroke="#c8c8c8" stroke-width="1"/>
<line x1="464.0" y1="953.3" x2="466.0" y2="953.3" stroke="#c8c8c8" stroke-width="1"/>
<line x1="1042.5" y1="953.3" x2="1044.5" y2="953.3" stroke="#c8c8c8" stroke-width="1"/>
<line x1="464.0" y1="996.1" x2="466.0" y2="996.1" stroke="#c8c8c8" stroke-width="1"/>
<line x1="1042.5" y1="996.1" x2="1044.5" y2="996.1" stroke="#c8c8c8" stroke-width="1"/>
<line x1="464.0" y1="1038.9" x2="466.0" y2="1038.9" stroke="#c8c8c8" stroke-width="1"/>
<line x1="1042.5" y1="1038.9" x2="1044.5" y2="1038.9" stroke="#c8c8c8" stroke-width="1"/>
<text x="427.3" y="740.0" font-size="21.5" fill="#000" font-family='"Liberation Serif", serif' text-anchor="start" >0.40</text>
<text x="427.3" y="786.0" font-size="21.5" fill="#000" font-family='"Liberation Serif", serif' text-anchor="start" >0.35</text>
<text x="427.3" y="831.4" font-size="21.5" fill="#000" font-family='"Liberation Serif", serif' text-anchor="start" >0.30</text>
<text x="427.6" y="877.4" font-size="21.5" fill="#000" font-family='"Liberation Serif", serif' text-anchor="start" >0.25</text>
<text x="424.9" y="917.0" font-size="21.5" fill="#000" font-family='"Liberation Serif", serif' text-anchor="start" >0.20</text>
<text x="424.9" y="962.9" font-size="21.5" fill="#000" font-family='"Liberation Serif", serif' text-anchor="start" >0.15</text>
<text x="424.9" y="1007.9" font-size="21.5" fill="#000" font-family='"Liberation Serif", serif' text-anchor="start" >0.10</text>
<text x="424.9" y="1054.1" font-size="21.5" fill="#000" font-family='"Liberation Serif", serif' text-anchor="start" >0.05</text>
<rect x="515.5" y="814.3" width="62.299999999999955" height="267.4000000000001" fill="#b9d7e5" stroke="#6f8896" stroke-width="1"/>
<rect x="577.8" y="897.4" width="62.5" height="184.30000000000007" fill="#eebdc8" stroke="#8f7278" stroke-width="1"/>
<rect x="640.3" y="951.1" width="62.10000000000002" height="130.60000000000002" fill="#b1eb93" stroke="#6a8c58" stroke-width="1"/>
<rect x="806.2" y="800.4" width="62.19999999999993" height="281.30000000000007" fill="#b9d7e5" stroke="#6f8896" stroke-width="1"/>
<rect x="868.4" y="901.9" width="62.39999999999998" height="179.80000000000007" fill="#eebdc8" stroke="#8f7278" stroke-width="1"/>
<rect x="930.8" y="930.5" width="62.200000000000045" height="151.20000000000005" fill="#b1eb93" stroke="#6a8c58" stroke-width="1"/>
<line x1="546.9" y1="781.3" x2="546.9" y2="847.6" stroke="#8a8a8a" stroke-width="1"/>
<line x1="609.1" y1="872.3" x2="609.1" y2="922.9" stroke="#8a8a8a" stroke-width="1"/>
<line x1="671.1" y1="919.7" x2="671.1" y2="983.3" stroke="#8a8a8a" stroke-width="1"/>
<line x1="837.2" y1="770.0" x2="837.2" y2="830.5" stroke="#8a8a8a" stroke-width="1"/>
<line x1="899.6" y1="878.5" x2="899.6" y2="925.0" stroke="#8a8a8a" stroke-width="1"/>
<line x1="961.5" y1="890.1" x2="961.5" y2="971.4" stroke="#8a8a8a" stroke-width="1"/>
<path d="M546.0 774.1V750.5H685.2V856.8" fill="none" stroke="#333" stroke-width="1.4"/>
<path d="M561.5 788.8V765.9H608.9V847.5" fill="none" stroke="#333" stroke-width="1.4"/>
<path d="M619.3 830.4V807.4H667.0V889.3" fill="none" stroke="#333" stroke-width="1.4"/>
<path d="M844.1 777.8V754.2H983.7V860.3" fill="none" stroke="#333" stroke-width="1.4"/>
<path d="M859.4 792.8V769.5H907.0V851.7" fill="none" stroke="#333" stroke-width="1.4"/>
<path d="M917.4 833.9V810.8H965.0V892.6" fill="none" stroke="#333" stroke-width="1.4"/>
<text x="0" y="0" font-size="22" font-family='"Liberation Serif", serif' fill="#000" transform="translate(600.42 752.02) scale(0.97 1.13)">*</text>
<text x="0" y="0" font-size="22" font-family='"Liberation Serif", serif' fill="#000" transform="translate(611.86 752.02) scale(0.97 1.13)">*</text>
<text x="0" y="0" font-size="22" font-family='"Liberation Serif", serif' fill="#000" transform="translate(578.02 773.62) scale(0.97 1.13)">*</text>
<text x="0" y="0" font-size="22" font-family='"Liberation Serif", serif' fill="#000" transform="translate(589.46 773.62) scale(0.97 1.13)">*</text>
<text x="0" y="0" font-size="22" font-family='"Liberation Serif", serif' fill="#000" transform="translate(639.22 811.22) scale(0.97 1.13)">*</text>
<text x="0" y="0" font-size="22" font-family='"Liberation Serif", serif' fill="#000" transform="translate(898.62 756.42) scale(0.97 1.13)">*</text>
<text x="0" y="0" font-size="22" font-family='"Liberation Serif", serif' fill="#000" transform="translate(910.06 756.42) scale(0.97 1.13)">*</text>
<text x="0" y="0" font-size="22" font-family='"Liberation Serif", serif' fill="#000" transform="translate(876.22 777.22) scale(0.97 1.13)">*</text>
<text x="0" y="0" font-size="22" font-family='"Liberation Serif", serif' fill="#000" transform="translate(887.36 777.22) scale(0.97 1.13)">*</text>
<text x="0" y="0" font-size="22" font-family='"Liberation Serif", serif' fill="#000" transform="translate(937.42 814.72) scale(0.97 1.13)">*</text>
<rect x="1075.5" y="809.3" width="135.2" height="80.2" fill="#fff" stroke="#444" stroke-width="1.1"/>
<rect x="1082.3" y="817.2" width="34.1" height="11.599999999999909" fill="#b9d7e5" stroke="#555" stroke-width="1.1" rx="1"/>
<rect x="1082.3" y="841.6" width="34.1" height="12.100000000000023" fill="#eebdc8" stroke="#555" stroke-width="1.1" rx="1"/>
<rect x="1082.3" y="867.4" width="34.1" height="11.300000000000068" fill="#b1eb93" stroke="#555" stroke-width="1.1" rx="1"/>
<text x="1144.4" y="829.9" font-size="16.6" fill="#000" font-family='"Liberation Serif", serif' text-anchor="start" >HC</text>
<text x="1122.9" y="854.8" font-size="16.6" fill="#000" font-family='"Liberation Serif", serif' text-anchor="start" >Left mTLE</text>
<text x="1119.2" y="876.7" font-size="16.6" fill="#000" font-family='"Liberation Serif", serif' text-anchor="start" >Right mTLE</text>
<text x="0" y="0" font-size="22" font-family='"Liberation Serif", serif' fill="#000" transform="translate(1083.22 1018.02) scale(0.97 1.13)">*</text>
<text x="0" y="0" font-size="22" font-family='"Liberation Serif", serif' fill="#000" transform="translate(1094.26 1018.02) scale(0.97 1.13)">*</text>
<text x="1108.5" y="1014.2" font-size="24" fill="#000" font-family='"Liberation Serif", serif' text-anchor="start" >&lt;</text>
<text x="1126.7" y="1012" font-size="23.1" fill="#000" font-family='"Liberation Serif", serif' text-anchor="start" textLength="47" lengthAdjust="spacingAndGlyphs">.0001</text>
<text x="0" y="0" font-size="22" font-family='"Liberation Serif", serif' fill="#000" transform="translate(1083.22 1057.42) scale(0.97 1.13)">*</text>
<text x="1108.5" y="1053.2" font-size="24" fill="#000" font-family='"Liberation Serif", serif' text-anchor="start" >&lt;</text>
<text x="1126.7" y="1051" font-size="23.1" fill="#000" font-family='"Liberation Serif", serif' text-anchor="start" textLength="25.6" lengthAdjust="spacingAndGlyphs">.05</text>
<text x="412.4" y="1116.5" font-size="37.6" fill="#000" stroke="#000" stroke-width="0.4" font-family='"Liberation Serif", serif' text-anchor="start" >Left ear stimulation</text>
<text x="829.1" y="1116.2" font-size="37.6" fill="#000" stroke="#000" stroke-width="0.4" font-family='"Liberation Serif", serif' text-anchor="start" >Right ear stimulation</text>
<text x="0" y="0" font-size="58" font-family='"Liberation Serif", serif' fill="#000" stroke="#000" stroke-width="0.5" transform="translate(359.3 1041) rotate(-90)">PLV (theta)</text></svg>
</body></html>
